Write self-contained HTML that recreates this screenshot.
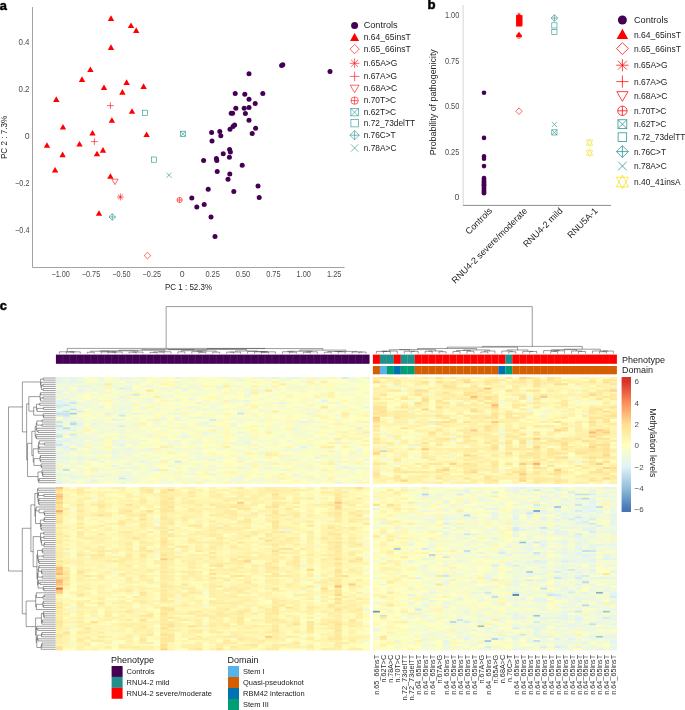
<!DOCTYPE html>
<html><head><meta charset="utf-8"><style>
html,body{margin:0;padding:0;background:#fff;width:685px;height:710px;overflow:hidden}
svg{display:block;font-family:"Liberation Sans",sans-serif;will-change:transform}
</style></head><body>
<svg width="685" height="710" viewBox="0 0 685 710">
<text x="-0.2" y="9.7" font-size="12.8" font-weight="bold" fill="#000" stroke="#000" stroke-width="0.5">a</text>
<path d="M32.5 7V267.5H344.6" fill="none" stroke="#a3a3a3" stroke-width="1"/>
<text x="29.50" y="45.10" font-size="8.7" text-anchor="end" fill="#4d4d4d" textLength="11.0" lengthAdjust="spacingAndGlyphs">0.4</text>
<text x="29.50" y="92.10" font-size="8.7" text-anchor="end" fill="#4d4d4d" textLength="11.0" lengthAdjust="spacingAndGlyphs">0.2</text>
<text x="29.50" y="139.10" font-size="8.7" text-anchor="end" fill="#4d4d4d" >0</text>
<text x="29.50" y="186.10" font-size="8.7" text-anchor="end" fill="#4d4d4d" textLength="14.4" lengthAdjust="spacingAndGlyphs">−0.2</text>
<text x="29.50" y="233.10" font-size="8.7" text-anchor="end" fill="#4d4d4d" textLength="14.4" lengthAdjust="spacingAndGlyphs">−0.4</text>
<text x="60.60" y="277.00" font-size="8.7" text-anchor="middle" fill="#4d4d4d" textLength="18.4" lengthAdjust="spacingAndGlyphs">−1.00</text>
<text x="91.00" y="277.00" font-size="8.7" text-anchor="middle" fill="#4d4d4d" textLength="18.4" lengthAdjust="spacingAndGlyphs">−0.75</text>
<text x="121.40" y="277.00" font-size="8.7" text-anchor="middle" fill="#4d4d4d" textLength="18.4" lengthAdjust="spacingAndGlyphs">−0.50</text>
<text x="151.80" y="277.00" font-size="8.7" text-anchor="middle" fill="#4d4d4d" textLength="18.4" lengthAdjust="spacingAndGlyphs">−0.25</text>
<text x="182.20" y="277.00" font-size="8.7" text-anchor="middle" fill="#4d4d4d" >0</text>
<text x="212.60" y="277.00" font-size="8.7" text-anchor="middle" fill="#4d4d4d" textLength="14.4" lengthAdjust="spacingAndGlyphs">0.25</text>
<text x="243.00" y="277.00" font-size="8.7" text-anchor="middle" fill="#4d4d4d" textLength="14.4" lengthAdjust="spacingAndGlyphs">0.50</text>
<text x="273.40" y="277.00" font-size="8.7" text-anchor="middle" fill="#4d4d4d" textLength="14.4" lengthAdjust="spacingAndGlyphs">0.75</text>
<text x="303.80" y="277.00" font-size="8.7" text-anchor="middle" fill="#4d4d4d" textLength="14.4" lengthAdjust="spacingAndGlyphs">1.00</text>
<text x="334.20" y="277.00" font-size="8.7" text-anchor="middle" fill="#4d4d4d" textLength="14.4" lengthAdjust="spacingAndGlyphs">1.25</text>
<text x="188.50" y="290.20" font-size="9" text-anchor="middle" fill="#222" textLength="47" lengthAdjust="spacingAndGlyphs">PC 1 : 52.3%</text>
<text x="0" y="0" font-size="9" text-anchor="middle" fill="#222" textLength="43.4" lengthAdjust="spacingAndGlyphs" transform="translate(7.2 137.4) rotate(-90)">PC 2 : 7.3%</text>
<circle cx="281.60" cy="65.40" r="2.50" fill="#440154"/>
<circle cx="282.80" cy="64.80" r="2.50" fill="#440154"/>
<circle cx="330.00" cy="71.40" r="2.50" fill="#440154"/>
<circle cx="249.00" cy="73.80" r="2.50" fill="#440154"/>
<circle cx="235.20" cy="93.40" r="2.50" fill="#440154"/>
<circle cx="244.80" cy="94.20" r="2.50" fill="#440154"/>
<circle cx="262.80" cy="93.60" r="2.50" fill="#440154"/>
<circle cx="249.00" cy="99.20" r="2.50" fill="#440154"/>
<circle cx="255.20" cy="103.40" r="2.50" fill="#440154"/>
<circle cx="235.80" cy="108.20" r="2.50" fill="#440154"/>
<circle cx="244.20" cy="108.20" r="2.50" fill="#440154"/>
<circle cx="249.00" cy="107.40" r="2.50" fill="#440154"/>
<circle cx="231.20" cy="113.20" r="2.50" fill="#440154"/>
<circle cx="232.60" cy="113.20" r="2.50" fill="#440154"/>
<circle cx="245.40" cy="113.40" r="2.50" fill="#440154"/>
<circle cx="249.00" cy="120.20" r="2.50" fill="#440154"/>
<circle cx="234.60" cy="125.00" r="2.50" fill="#440154"/>
<circle cx="233.00" cy="126.40" r="2.50" fill="#440154"/>
<circle cx="230.00" cy="129.20" r="2.50" fill="#440154"/>
<circle cx="255.60" cy="128.20" r="2.50" fill="#440154"/>
<circle cx="252.20" cy="133.60" r="2.50" fill="#440154"/>
<circle cx="211.60" cy="132.40" r="2.50" fill="#440154"/>
<circle cx="219.80" cy="131.40" r="2.50" fill="#440154"/>
<circle cx="220.80" cy="135.80" r="2.50" fill="#440154"/>
<circle cx="212.00" cy="141.00" r="2.50" fill="#440154"/>
<circle cx="229.60" cy="149.60" r="2.50" fill="#440154"/>
<circle cx="230.40" cy="152.00" r="2.50" fill="#440154"/>
<circle cx="223.20" cy="153.80" r="2.50" fill="#440154"/>
<circle cx="229.40" cy="157.20" r="2.50" fill="#440154"/>
<circle cx="203.60" cy="160.40" r="2.50" fill="#440154"/>
<circle cx="216.40" cy="158.60" r="2.50" fill="#440154"/>
<circle cx="216.80" cy="160.40" r="2.50" fill="#440154"/>
<circle cx="242.20" cy="165.20" r="2.50" fill="#440154"/>
<circle cx="217.20" cy="171.40" r="2.50" fill="#440154"/>
<circle cx="229.80" cy="174.00" r="2.50" fill="#440154"/>
<circle cx="228.00" cy="179.20" r="2.50" fill="#440154"/>
<circle cx="258.00" cy="186.00" r="2.50" fill="#440154"/>
<circle cx="208.20" cy="189.20" r="2.50" fill="#440154"/>
<circle cx="233.80" cy="191.60" r="2.50" fill="#440154"/>
<circle cx="259.20" cy="197.40" r="2.50" fill="#440154"/>
<circle cx="191.80" cy="198.00" r="2.50" fill="#440154"/>
<circle cx="204.20" cy="204.60" r="2.50" fill="#440154"/>
<circle cx="196.80" cy="207.00" r="2.50" fill="#440154"/>
<circle cx="211.00" cy="217.00" r="2.50" fill="#440154"/>
<circle cx="215.00" cy="236.40" r="2.50" fill="#440154"/>
<path d="M111.00 15.32L114.20 20.92L107.80 20.92Z" fill="#ff0000"/>
<path d="M131.00 22.52L134.20 28.12L127.80 28.12Z" fill="#ff0000"/>
<path d="M136.20 27.32L139.40 32.92L133.00 32.92Z" fill="#ff0000"/>
<path d="M111.00 44.32L114.20 49.92L107.80 49.92Z" fill="#ff0000"/>
<path d="M90.40 66.52L93.60 72.12L87.20 72.12Z" fill="#ff0000"/>
<path d="M82.00 76.32L85.20 81.92L78.80 81.92Z" fill="#ff0000"/>
<path d="M126.60 79.32L129.80 84.92L123.40 84.92Z" fill="#ff0000"/>
<path d="M104.00 84.52L107.20 90.12L100.80 90.12Z" fill="#ff0000"/>
<path d="M122.40 89.12L125.60 94.72L119.20 94.72Z" fill="#ff0000"/>
<path d="M143.60 83.32L146.80 88.92L140.40 88.92Z" fill="#ff0000"/>
<path d="M56.30 96.32L59.50 101.92L53.10 101.92Z" fill="#ff0000"/>
<path d="M132.00 108.22L135.20 113.82L128.80 113.82Z" fill="#ff0000"/>
<path d="M111.90 117.22L115.10 122.82L108.70 122.82Z" fill="#ff0000"/>
<path d="M63.00 124.02L66.20 129.62L59.80 129.62Z" fill="#ff0000"/>
<path d="M92.50 129.92L95.70 135.52L89.30 135.52Z" fill="#ff0000"/>
<path d="M146.60 131.52L149.80 137.12L143.40 137.12Z" fill="#ff0000"/>
<path d="M47.00 142.22L50.20 147.82L43.80 147.82Z" fill="#ff0000"/>
<path d="M79.50 140.92L82.70 146.52L76.30 146.52Z" fill="#ff0000"/>
<path d="M103.00 147.12L106.20 152.72L99.80 152.72Z" fill="#ff0000"/>
<path d="M97.00 150.72L100.20 156.32L93.80 156.32Z" fill="#ff0000"/>
<path d="M62.60 151.62L65.80 157.22L59.40 157.22Z" fill="#ff0000"/>
<path d="M55.10 167.02L58.30 172.62L51.90 172.62Z" fill="#ff0000"/>
<path d="M110.40 173.22L113.60 178.82L107.20 178.82Z" fill="#ff0000"/>
<path d="M99.00 210.22L102.20 215.82L95.80 215.82Z" fill="#ff0000"/>
<path d="M107.00 105.60H113.80M110.40 102.20V109.00" stroke="#ff0000" stroke-width="0.6" fill="none"/>
<path d="M91.00 141.60H97.80M94.40 138.20V145.00" stroke="#ff0000" stroke-width="0.6" fill="none"/>
<path d="M111.90 179.17H118.10L115.00 184.57Z" fill="none" stroke="#ff0000" stroke-width="0.6"/>
<path d="M117.00 197.00H123.80M120.40 193.60V200.40M117.95 194.55L122.85 199.45M117.95 199.45L122.85 194.55" stroke="#ff0000" stroke-width="0.6" fill="none"/>
<circle cx="179.60" cy="200.00" r="2.60" fill="none" stroke="#ff0000" stroke-width="0.6"/><path d="M177.00 200.00H182.20M179.60 197.40V202.60" stroke="#ff0000" stroke-width="0.6"/>
<path d="M147.50 252.30L150.80 255.60L147.50 258.90L144.20 255.60Z" fill="none" stroke="#ff0000" stroke-width="0.6"/>
<rect x="142.40" y="110.20" width="5.20" height="5.20" fill="none" stroke="#21908c" stroke-width="0.6"/>
<rect x="151.40" y="157.00" width="5.20" height="5.20" fill="none" stroke="#21908c" stroke-width="0.6"/>
<rect x="180.40" y="131.20" width="5.20" height="5.20" fill="none" stroke="#21908c" stroke-width="0.6"/><path d="M180.40 131.20L185.60 136.40M180.40 136.40L185.60 131.20" stroke="#21908c" stroke-width="0.6"/>
<path d="M166.40 172.60L171.60 177.80M166.40 177.80L171.60 172.60" stroke="#21908c" stroke-width="0.6"/>
<path d="M112.30 213.70L115.60 217.00L112.30 220.30L109.00 217.00Z" fill="none" stroke="#21908c" stroke-width="0.6"/><path d="M109.00 217.00H115.60M112.30 213.70V220.30" stroke="#21908c" stroke-width="0.6"/>
<circle cx="354.60" cy="25.50" r="3.50" fill="#440154"/>
<text x="363.70" y="28.00" font-size="9" text-anchor="start" fill="#222" textLength="34" lengthAdjust="spacingAndGlyphs">Controls</text>
<path d="M354.60 33.03L359.14 40.98L350.06 40.98Z" fill="#ff0000"/>
<text x="363.70" y="39.90" font-size="9" text-anchor="start" fill="#222" textLength="47" lengthAdjust="spacingAndGlyphs">n.64_65insT</text>
<path d="M354.60 44.41L359.29 49.10L354.60 53.79L349.91 49.10Z" fill="none" stroke="#ff0000" stroke-width="0.6"/>
<text x="363.70" y="51.60" font-size="9" text-anchor="start" fill="#222" textLength="47" lengthAdjust="spacingAndGlyphs">n.65_66insT</text>
<path d="M349.77 63.30H359.43M354.60 58.47V68.13M351.12 59.82L358.08 66.78M351.12 66.78L358.08 59.82" stroke="#ff0000" stroke-width="0.6" fill="none"/>
<text x="363.70" y="65.80" font-size="9" text-anchor="start" fill="#222" textLength="33.6" lengthAdjust="spacingAndGlyphs">n.65A&gt;G</text>
<path d="M349.77 76.40H359.43M354.60 71.57V81.23" stroke="#ff0000" stroke-width="0.6" fill="none"/>
<text x="363.70" y="78.90" font-size="9" text-anchor="start" fill="#222" textLength="33.4" lengthAdjust="spacingAndGlyphs">n.67A&gt;G</text>
<path d="M350.20 85.15H359.00L354.60 92.82Z" fill="none" stroke="#ff0000" stroke-width="0.6"/>
<text x="363.70" y="91.10" font-size="9" text-anchor="start" fill="#222" textLength="33.4" lengthAdjust="spacingAndGlyphs">n.68A&gt;C</text>
<circle cx="354.60" cy="100.60" r="3.69" fill="none" stroke="#ff0000" stroke-width="0.6"/><path d="M350.91 100.60H358.29M354.60 96.91V104.29" stroke="#ff0000" stroke-width="0.6"/>
<text x="363.70" y="103.10" font-size="9" text-anchor="start" fill="#222" textLength="32.4" lengthAdjust="spacingAndGlyphs">n.70T&gt;C</text>
<rect x="350.91" y="108.51" width="7.38" height="7.38" fill="none" stroke="#21908c" stroke-width="0.6"/><path d="M350.91 108.51L358.29 115.89M350.91 115.89L358.29 108.51" stroke="#21908c" stroke-width="0.6"/>
<text x="363.70" y="114.70" font-size="9" text-anchor="start" fill="#222" textLength="32.4" lengthAdjust="spacingAndGlyphs">n.62T&gt;C</text>
<rect x="350.91" y="119.51" width="7.38" height="7.38" fill="none" stroke="#21908c" stroke-width="0.6"/>
<text x="363.70" y="125.70" font-size="9" text-anchor="start" fill="#222" textLength="51.4" lengthAdjust="spacingAndGlyphs">n.72_73delTT</text>
<path d="M354.60 130.51L359.29 135.20L354.60 139.89L349.91 135.20Z" fill="none" stroke="#21908c" stroke-width="0.6"/><path d="M349.91 135.20H359.29M354.60 130.51V139.89" stroke="#21908c" stroke-width="0.6"/>
<text x="363.70" y="137.70" font-size="9" text-anchor="start" fill="#222" textLength="32" lengthAdjust="spacingAndGlyphs">n.76C&gt;T</text>
<path d="M350.91 144.31L358.29 151.69M350.91 151.69L358.29 144.31" stroke="#21908c" stroke-width="0.6"/>
<text x="363.70" y="150.50" font-size="9" text-anchor="start" fill="#222" textLength="32.8" lengthAdjust="spacingAndGlyphs">n.78A&gt;C</text>
<text x="427.4" y="9.2" font-size="13.2" font-weight="bold" fill="#000" stroke="#000" stroke-width="0.5">b</text>
<path d="M463.2 5V205" stroke="#e2e2e2" stroke-width="1.4"/>
<path d="M463 205.4H611" stroke="#8c8c8c" stroke-width="1"/>
<text x="459.30" y="18.00" font-size="8.7" text-anchor="end" fill="#4d4d4d" textLength="14.4" lengthAdjust="spacingAndGlyphs">1.00</text>
<text x="459.30" y="63.50" font-size="8.7" text-anchor="end" fill="#4d4d4d" textLength="14.4" lengthAdjust="spacingAndGlyphs">0.75</text>
<text x="459.30" y="109.00" font-size="8.7" text-anchor="end" fill="#4d4d4d" textLength="14.4" lengthAdjust="spacingAndGlyphs">0.50</text>
<text x="459.30" y="154.50" font-size="8.7" text-anchor="end" fill="#4d4d4d" textLength="14.4" lengthAdjust="spacingAndGlyphs">0.25</text>
<text x="459.30" y="200.00" font-size="8.7" text-anchor="end" fill="#4d4d4d" >0</text>
<text x="0" y="0" font-size="9" text-anchor="middle" fill="#222" textLength="106" lengthAdjust="spacingAndGlyphs" transform="translate(436.0 102.2) rotate(-90)">Probability of pathogenicity</text>
<text x="0" y="0" font-size="9" text-anchor="end" fill="#222" transform="translate(492.80 211.40) rotate(-45)">Controls</text>
<text x="0" y="0" font-size="9" text-anchor="end" fill="#222" transform="translate(527.80 211.40) rotate(-45)">RNU4-2 severe/moderate</text>
<text x="0" y="0" font-size="9" text-anchor="end" fill="#222" transform="translate(563.20 211.40) rotate(-45)">RNU4-2 mild</text>
<text x="0" y="0" font-size="9" text-anchor="end" fill="#222" transform="translate(598.20 211.40) rotate(-45)">RNU5A-1</text>
<circle cx="484.00" cy="92.80" r="2.30" fill="#440154"/>
<circle cx="484.00" cy="137.90" r="2.30" fill="#440154"/>
<circle cx="484.00" cy="156.40" r="2.30" fill="#440154"/>
<circle cx="484.00" cy="158.80" r="2.30" fill="#440154"/>
<circle cx="484.00" cy="166.10" r="2.30" fill="#440154"/>
<circle cx="484.00" cy="178.00" r="2.30" fill="#440154"/>
<circle cx="484.00" cy="178.90" r="2.30" fill="#440154"/>
<circle cx="484.00" cy="179.80" r="2.30" fill="#440154"/>
<circle cx="484.00" cy="180.70" r="2.30" fill="#440154"/>
<circle cx="484.00" cy="181.60" r="2.30" fill="#440154"/>
<circle cx="484.00" cy="182.50" r="2.30" fill="#440154"/>
<circle cx="484.00" cy="183.40" r="2.30" fill="#440154"/>
<circle cx="484.00" cy="184.30" r="2.30" fill="#440154"/>
<circle cx="484.00" cy="185.20" r="2.30" fill="#440154"/>
<circle cx="484.00" cy="186.10" r="2.30" fill="#440154"/>
<circle cx="484.00" cy="187.00" r="2.30" fill="#440154"/>
<circle cx="484.00" cy="187.90" r="2.30" fill="#440154"/>
<circle cx="484.00" cy="188.80" r="2.30" fill="#440154"/>
<circle cx="484.00" cy="189.70" r="2.30" fill="#440154"/>
<circle cx="484.00" cy="190.60" r="2.30" fill="#440154"/>
<circle cx="484.00" cy="191.50" r="2.30" fill="#440154"/>
<circle cx="484.00" cy="192.40" r="2.30" fill="#440154"/>
<circle cx="484.00" cy="193.30" r="2.30" fill="#440154"/>
<rect x="516.1" y="15.2" width="6.4" height="10.6" fill="#ff0000"/>
<path d="M519.00 13.52L522.20 19.12L515.80 19.12Z" fill="#ff0000"/>
<path d="M519.00 15.92L522.20 21.52L515.80 21.52Z" fill="#ff0000"/>
<path d="M519.00 18.42L522.20 24.02L515.80 24.02Z" fill="#ff0000"/>
<path d="M519.00 20.82L522.20 26.42L515.80 26.42Z" fill="#ff0000"/>
<path d="M516.11 15.60H521.89M519.00 12.71V18.49M516.92 13.52L521.08 17.68M516.92 17.68L521.08 13.52" stroke="#ff0000" stroke-width="0.6" fill="none"/>
<path d="M515.94 16.00H522.06M519.00 12.94V19.06" stroke="#ff0000" stroke-width="0.6" fill="none"/>
<path d="M519.00 31.42L522.20 37.02L515.80 37.02Z" fill="#ff0000"/>
<circle cx="519.00" cy="35.90" r="2.47" fill="none" stroke="#ff0000" stroke-width="0.6"/><path d="M516.53 35.90H521.47M519.00 33.43V38.37" stroke="#ff0000" stroke-width="0.6"/>
<path d="M519.00 107.90L522.30 111.20L519.00 114.50L515.70 111.20Z" fill="none" stroke="#ff0000" stroke-width="0.6"/>
<path d="M554.40 14.70L557.70 18.00L554.40 21.30L551.10 18.00Z" fill="none" stroke="#21908c" stroke-width="0.6"/><path d="M551.10 18.00H557.70M554.40 14.70V21.30" stroke="#21908c" stroke-width="0.6"/>
<rect x="551.80" y="22.80" width="5.20" height="5.20" fill="none" stroke="#21908c" stroke-width="0.6"/>
<rect x="551.80" y="29.40" width="5.20" height="5.20" fill="none" stroke="#21908c" stroke-width="0.6"/>
<path d="M551.80 121.80L557.00 127.00M551.80 127.00L557.00 121.80" stroke="#21908c" stroke-width="0.6"/>
<rect x="551.80" y="129.80" width="5.20" height="5.20" fill="none" stroke="#21908c" stroke-width="0.6"/><path d="M551.80 129.80L557.00 135.00M551.80 135.00L557.00 129.80" stroke="#21908c" stroke-width="0.6"/>
<path d="M589.50 139.00L592.70 145.19H586.30Z M589.50 146.20L592.70 140.08H586.30Z" fill="none" stroke="#f7e02a" stroke-width="0.6" stroke-linejoin="miter"/>
<path d="M589.50 149.20L592.70 155.39H586.30Z M589.50 156.40L592.70 150.28H586.30Z" fill="none" stroke="#f7e02a" stroke-width="0.6" stroke-linejoin="miter"/>
<circle cx="622.40" cy="20.00" r="4.50" fill="#440154"/>
<text x="634.00" y="23.10" font-size="9" text-anchor="start" fill="#222" textLength="34" lengthAdjust="spacingAndGlyphs">Controls</text>
<path d="M622.40 28.86L628.16 38.94L616.64 38.94Z" fill="#ff0000"/>
<text x="634.00" y="37.50" font-size="9" text-anchor="start" fill="#222" textLength="47" lengthAdjust="spacingAndGlyphs">n.64_65insT</text>
<path d="M622.40 42.66L628.34 48.60L622.40 54.54L616.46 48.60Z" fill="none" stroke="#ff0000" stroke-width="0.75"/>
<text x="634.00" y="51.70" font-size="9" text-anchor="start" fill="#222" textLength="47" lengthAdjust="spacingAndGlyphs">n.65_66insT</text>
<path d="M616.28 65.20H628.52M622.40 59.08V71.32M617.99 60.79L626.81 69.61M617.99 69.61L626.81 60.79" stroke="#ff0000" stroke-width="0.75" fill="none"/>
<text x="634.00" y="68.30" font-size="9" text-anchor="start" fill="#222" textLength="33.6" lengthAdjust="spacingAndGlyphs">n.65A&gt;G</text>
<path d="M616.28 81.60H628.52M622.40 75.48V87.72" stroke="#ff0000" stroke-width="0.75" fill="none"/>
<text x="634.00" y="84.70" font-size="9" text-anchor="start" fill="#222" textLength="33.4" lengthAdjust="spacingAndGlyphs">n.67A&gt;G</text>
<path d="M616.82 91.63H627.98L622.40 101.35Z" fill="none" stroke="#ff0000" stroke-width="0.75"/>
<text x="634.00" y="99.10" font-size="9" text-anchor="start" fill="#222" textLength="33.4" lengthAdjust="spacingAndGlyphs">n.68A&gt;C</text>
<circle cx="622.40" cy="110.80" r="4.68" fill="none" stroke="#ff0000" stroke-width="0.75"/><path d="M617.72 110.80H627.08M622.40 106.12V115.48" stroke="#ff0000" stroke-width="0.75"/>
<text x="634.00" y="113.90" font-size="9" text-anchor="start" fill="#222" textLength="32.4" lengthAdjust="spacingAndGlyphs">n.70T&gt;C</text>
<rect x="617.98" y="119.78" width="8.84" height="8.84" fill="none" stroke="#21908c" stroke-width="0.75"/><path d="M617.98 119.78L626.82 128.62M617.98 128.62L626.82 119.78" stroke="#21908c" stroke-width="0.75"/>
<text x="634.00" y="127.30" font-size="9" text-anchor="start" fill="#222" textLength="32.4" lengthAdjust="spacingAndGlyphs">n.62T&gt;C</text>
<rect x="618.11" y="132.81" width="8.58" height="8.58" fill="none" stroke="#21908c" stroke-width="0.75"/>
<text x="634.00" y="140.20" font-size="9" text-anchor="start" fill="#222" textLength="51.4" lengthAdjust="spacingAndGlyphs">n.72_73delTT</text>
<path d="M622.40 145.66L628.34 151.60L622.40 157.54L616.46 151.60Z" fill="none" stroke="#21908c" stroke-width="0.75"/><path d="M616.46 151.60H628.34M622.40 145.66V157.54" stroke="#21908c" stroke-width="0.75"/>
<text x="634.00" y="154.70" font-size="9" text-anchor="start" fill="#222" textLength="32" lengthAdjust="spacingAndGlyphs">n.76C&gt;T</text>
<path d="M618.11 161.71L626.69 170.29M618.11 170.29L626.69 161.71" stroke="#21908c" stroke-width="0.75"/>
<text x="634.00" y="169.10" font-size="9" text-anchor="start" fill="#222" textLength="32.8" lengthAdjust="spacingAndGlyphs">n.78A&gt;C</text>
<path d="M622.40 175.20L628.43 186.90H616.37Z M622.40 188.80L628.43 177.24H616.37Z" fill="none" stroke="#f7e02a" stroke-width="0.75" stroke-linejoin="miter"/>
<text x="634.00" y="185.10" font-size="9" text-anchor="start" fill="#222" textLength="46.6" lengthAdjust="spacingAndGlyphs">n.40_41insA</text>
<text x="-0.2" y="310.4" font-size="12.8" font-weight="bold" fill="#000" stroke="#000" stroke-width="0.5">c</text>
<rect x="55.90" y="377.00" width="313.65" height="106.743" fill="#f7fccd"/>
<g transform="translate(55.90 377.00) scale(6.97 2.093)" fill="none" stroke-width="1"><path stroke="#a5cce2" d="M2 17.5h1"/><path stroke="#b8d9ea" d="M2 22.5h1M1 24.5h1"/><path stroke="#c2e0ed" d="M2 15.5h1M1 16.5h1M0 17.5h1M0 23.5h1M0 28.5h1M1 44.5h1"/><path stroke="#cce6f1" d="M11 8.5h1M2 12.5h1M1 13.5h1M1 17.5h1M26 17.5h1M1 18.5h1M9 18.5h1M0 21.5h1M2 27.5h1M0 32.5h1M17 40.5h1M9 48.5h1"/><path stroke="#d6ecf4" d="M41 0.5h1M9 5.5h1M0 13.5h1M0 14.5h1M3 16.5h1M0 18.5h1M22 20.5h1M2 21.5h1M9 23.5h1M0 27.5h1M2 34.5h1"/><path stroke="#e0f3f8" d="M2 2.5h1M0 11.5h1M38 11.5h1M1 12.5h1M2 14.5h1M0 16.5h1M7 17.5h1M35 21.5h1M0 25.5h1M2 25.5h1M1 30.5h1M0 31.5h1M9 32.5h1M1 33.5h1M35 33.5h1M0 36.5h1M5 39.5h1M12 40.5h1M5 49.5h1"/><path stroke="#e4f4f1" d="M2 0.5h1M31 0.5h1M0 1.5h1M1 2.5h1M3 2.5h1M10 2.5h1M4 4.5h1M10 5.5h1M15 5.5h1M0 6.5h1M3 6.5h1M0 7.5h1M10 8.5h1M0 12.5h1M32 12.5h1M6 14.5h1M1 15.5h1M17 15.5h1M11 17.5h1M36 17.5h1M1 19.5h1M20 19.5h1M0 22.5h1M3 22.5h1M22 23.5h1M0 24.5h1M1 25.5h1M1 27.5h1M2 28.5h1M18 28.5h1M1 29.5h1M0 30.5h1M27 31.5h1M40 31.5h1M3 32.5h1M10 34.5h1M0 38.5h1M3 38.5h1M37 38.5h1M8 42.5h1M14 44.5h1M22 46.5h1M6 47.5h1M0 50.5h1"/><path stroke="#e8f6ea" d="M0 0.5h1M17 0.5h1M34 0.5h1M2 1.5h1M26 1.5h1M0 2.5h1M17 2.5h1M6 3.5h1M3 4.5h1M8 4.5h1M10 4.5h1M18 5.5h1M5 6.5h1M10 6.5h1M1 8.5h1M9 9.5h1M1 10.5h1M2 11.5h1M27 11.5h1M20 12.5h1M44 14.5h1M9 15.5h1M14 15.5h1M21 15.5h1M9 17.5h1M17 17.5h1M17 19.5h1M8 20.5h2M5 22.5h1M21 22.5h1M2 23.5h2M17 24.5h1M3 26.5h1M6 26.5h1M26 26.5h1M4 29.5h1M2 31.5h1M1 34.5h1M13 34.5h1M8 35.5h1M20 36.5h1M29 36.5h1M1 38.5h1M9 38.5h1M3 39.5h1M22 39.5h1M44 39.5h1M6 40.5h1M9 43.5h1M26 43.5h1M41 43.5h1M0 46.5h1M0 47.5h1M2 47.5h1M5 47.5h1M9 47.5h1M26 47.5h1M2 48.5h1M0 49.5h1M9 50.5h1M40 50.5h1"/><path stroke="#ecf8e3" d="M1 0.5h1M3 0.5h1M6 0.5h1M9 0.5h2M29 0.5h1M33 0.5h1M44 0.5h1M6 1.5h1M32 1.5h1M36 1.5h1M11 2.5h1M13 4.5h1M19 4.5h1M23 4.5h1M1 5.5h1M3 5.5h1M17 5.5h1M23 5.5h1M1 6.5h1M16 6.5h1M18 6.5h1M25 6.5h1M27 6.5h1M2 7.5h1M27 8.5h1M0 9.5h1M13 10.5h1M19 10.5h1M9 11.5h1M13 11.5h1M17 11.5h1M25 11.5h1M3 12.5h1M4 13.5h1M1 14.5h1M9 14.5h2M19 14.5h1M22 14.5h1M0 15.5h1M3 15.5h1M10 15.5h1M12 15.5h1M37 15.5h1M19 19.5h1M1 20.5h1M13 20.5h1M15 20.5h1M17 20.5h1M36 20.5h1M3 21.5h1M14 21.5h1M11 22.5h1M25 22.5h1M25 23.5h1M2 24.5h1M9 25.5h1M43 25.5h1M10 26.5h1M21 26.5h1M13 27.5h1M18 27.5h1M21 27.5h1M34 27.5h1M39 27.5h1M9 28.5h1M32 28.5h1M2 29.5h2M6 29.5h1M9 29.5h1M2 30.5h2M5 30.5h1M8 30.5h1M17 30.5h1M26 30.5h1M8 32.5h1M16 32.5h1M26 32.5h1M0 33.5h1M17 34.5h1M28 34.5h1M1 35.5h1M5 35.5h1M9 35.5h2M26 35.5h1M43 35.5h1M1 36.5h1M6 36.5h1M8 36.5h1M0 37.5h1M8 37.5h1M10 37.5h1M12 37.5h1M2 38.5h1M5 38.5h1M8 38.5h1M23 38.5h1M26 38.5h1M32 38.5h1M1 39.5h1M21 39.5h1M26 39.5h1M33 39.5h2M0 40.5h2M29 40.5h1M3 41.5h1M10 41.5h1M16 42.5h1M22 42.5h1M0 43.5h2M5 43.5h1M10 43.5h1M30 43.5h1M40 43.5h1M43 43.5h1M32 44.5h1M10 45.5h1M1 46.5h2M10 46.5h1M19 46.5h1M29 46.5h1M1 47.5h1M34 47.5h1M3 48.5h1M10 48.5h1M10 49.5h1M21 49.5h1M2 50.5h1"/><path stroke="#f0f9dc" d="M12 0.5h1M25 0.5h1M30 0.5h1M37 0.5h1M42 0.5h1M1 1.5h1M9 1.5h1M12 1.5h1M19 1.5h1M33 1.5h1M42 1.5h1M35 2.5h1M0 3.5h3M5 3.5h1M9 3.5h1M11 3.5h1M18 3.5h1M0 4.5h3M6 4.5h1M17 4.5h1M26 4.5h1M33 4.5h1M35 4.5h1M5 5.5h1M7 5.5h1M19 5.5h2M27 5.5h1M31 5.5h1M34 5.5h1M4 6.5h1M6 6.5h1M29 6.5h1M35 6.5h1M41 6.5h1M3 7.5h1M6 7.5h1M0 8.5h1M2 8.5h1M5 8.5h1M16 8.5h1M20 8.5h1M2 9.5h1M27 9.5h1M5 10.5h1M8 10.5h2M1 11.5h1M4 11.5h1M6 11.5h1M10 11.5h1M26 11.5h1M13 12.5h1M31 12.5h1M40 12.5h1M3 13.5h1M9 13.5h2M29 13.5h1M4 14.5h1M8 14.5h1M12 14.5h1M20 14.5h1M26 14.5h1M5 15.5h1M20 15.5h1M23 15.5h1M27 15.5h1M4 16.5h1M8 16.5h1M23 16.5h1M26 16.5h1M29 16.5h1M34 16.5h1M8 17.5h1M12 17.5h2M16 17.5h1M40 18.5h1M2 19.5h2M6 19.5h1M11 19.5h1M15 19.5h1M3 20.5h1M5 20.5h1M23 20.5h1M27 20.5h1M29 20.5h1M1 21.5h1M6 21.5h1M10 21.5h1M21 21.5h1M26 21.5h1M34 21.5h1M37 21.5h1M1 22.5h1M7 22.5h3M20 22.5h1M5 23.5h4M14 23.5h1M18 23.5h1M29 23.5h1M38 23.5h1M10 24.5h1M26 24.5h1M6 25.5h3M11 25.5h1M34 25.5h1M0 26.5h1M5 26.5h1M9 26.5h1M22 26.5h1M35 26.5h1M44 27.5h1M3 28.5h2M13 28.5h1M17 28.5h1M0 29.5h1M28 29.5h1M6 30.5h1M9 30.5h1M12 30.5h1M20 30.5h1M33 30.5h1M3 31.5h2M8 31.5h1M10 31.5h2M19 31.5h2M25 31.5h1M31 31.5h1M1 32.5h2M5 32.5h2M36 32.5h1M3 33.5h1M29 33.5h1M0 34.5h1M8 34.5h2M12 34.5h1M18 34.5h1M20 34.5h1M23 34.5h1M33 34.5h3M43 34.5h1M0 35.5h1M3 35.5h1M6 35.5h1M11 35.5h1M13 35.5h1M16 35.5h1M32 35.5h1M34 35.5h1M42 35.5h1M3 36.5h1M5 36.5h1M4 38.5h1M14 38.5h1M20 38.5h2M38 38.5h1M0 39.5h1M2 39.5h1M13 39.5h1M15 39.5h1M19 39.5h1M42 39.5h1M30 40.5h1M37 40.5h1M40 40.5h1M0 41.5h3M13 41.5h1M27 41.5h1M2 42.5h1M13 42.5h1M41 42.5h1M11 43.5h1M13 43.5h1M17 43.5h1M19 43.5h1M23 43.5h1M27 43.5h1M31 43.5h1M42 43.5h1M0 44.5h1M6 44.5h1M11 44.5h1M13 44.5h1M19 44.5h1M22 44.5h1M42 44.5h1M2 45.5h1M9 45.5h1M6 46.5h2M13 46.5h1M16 46.5h3M34 46.5h1M3 47.5h2M10 47.5h1M36 47.5h1M41 47.5h1M7 48.5h1M25 48.5h2M1 49.5h1M4 49.5h1M15 49.5h1M17 49.5h1M19 49.5h1M26 49.5h1M28 49.5h1M31 49.5h1M43 49.5h1M4 50.5h1"/><path stroke="#f3fad4" d="M11 0.5h1M19 0.5h1M24 0.5h1M28 0.5h1M40 0.5h1M3 1.5h1M10 1.5h1M18 1.5h1M25 1.5h1M35 1.5h1M37 1.5h1M8 2.5h1M12 2.5h1M14 2.5h1M42 2.5h2M3 3.5h2M8 3.5h1M20 3.5h1M5 4.5h1M12 4.5h1M20 4.5h1M25 4.5h1M34 4.5h1M4 5.5h1M14 5.5h1M28 5.5h1M33 5.5h1M36 5.5h1M40 5.5h1M42 5.5h2M2 6.5h1M15 6.5h1M21 6.5h1M37 6.5h1M9 7.5h1M20 7.5h2M27 7.5h1M29 7.5h1M44 7.5h1M3 8.5h1M6 8.5h1M8 8.5h2M12 8.5h1M14 8.5h2M31 8.5h1M42 8.5h1M1 9.5h1M15 9.5h2M0 10.5h1M3 10.5h1M10 10.5h1M17 10.5h1M25 10.5h1M29 10.5h1M5 11.5h1M12 11.5h1M21 11.5h1M35 11.5h1M4 12.5h2M8 12.5h5M22 12.5h3M27 12.5h1M30 12.5h1M37 12.5h1M42 12.5h2M2 13.5h1M5 13.5h1M8 13.5h1M14 13.5h1M17 13.5h1M22 13.5h2M3 14.5h1M5 14.5h1M34 14.5h1M40 14.5h2M11 15.5h1M22 15.5h1M24 15.5h1M26 15.5h1M29 15.5h1M35 15.5h2M39 15.5h1M2 16.5h1M6 16.5h1M9 16.5h1M16 16.5h1M30 16.5h1M3 17.5h1M10 17.5h1M23 17.5h1M27 17.5h2M42 17.5h1M2 18.5h1M5 18.5h1M18 18.5h1M21 18.5h1M8 19.5h1M21 19.5h1M25 19.5h1M30 19.5h1M0 20.5h1M2 20.5h1M6 20.5h1M18 20.5h1M26 20.5h1M40 20.5h1M4 21.5h2M11 21.5h1M16 21.5h1M22 21.5h1M29 21.5h1M40 21.5h1M6 22.5h1M10 22.5h1M14 22.5h1M18 22.5h1M32 22.5h1M34 22.5h2M1 23.5h1M10 23.5h1M15 23.5h1M21 23.5h1M34 23.5h1M37 23.5h1M44 23.5h1M3 24.5h4M8 24.5h1M13 24.5h1M16 24.5h1M23 24.5h1M31 24.5h1M34 24.5h1M39 24.5h1M3 25.5h1M15 25.5h1M19 25.5h1M23 25.5h1M30 25.5h1M35 25.5h2M1 26.5h1M11 26.5h1M18 26.5h1M20 26.5h1M23 26.5h1M27 26.5h1M4 27.5h2M14 27.5h1M25 27.5h1M27 27.5h1M5 28.5h1M7 28.5h2M15 28.5h1M19 28.5h1M23 28.5h1M26 28.5h2M36 28.5h1M5 29.5h1M10 29.5h2M15 29.5h1M20 29.5h1M22 29.5h1M26 29.5h2M34 29.5h1M37 29.5h2M10 30.5h2M15 30.5h2M23 30.5h1M27 30.5h1M29 30.5h1M31 30.5h1M36 30.5h1M1 31.5h1M9 31.5h1M16 31.5h1M42 31.5h1M11 32.5h1M17 32.5h1M25 32.5h1M27 32.5h1M34 32.5h1M9 33.5h2M20 33.5h1M22 33.5h1M5 34.5h1M19 34.5h1M38 34.5h1M2 35.5h1M7 35.5h1M12 35.5h1M29 35.5h1M33 35.5h1M40 35.5h1M4 36.5h1M7 36.5h1M9 36.5h3M14 36.5h1M17 36.5h1M19 36.5h1M35 36.5h1M40 36.5h1M2 37.5h1M19 37.5h2M42 37.5h2M7 38.5h1M11 38.5h1M13 38.5h1M18 38.5h1M24 38.5h1M27 38.5h1M39 38.5h2M42 38.5h1M4 39.5h1M6 39.5h1M8 39.5h1M11 39.5h1M16 39.5h1M20 39.5h1M27 39.5h1M36 39.5h1M40 39.5h1M3 40.5h1M8 40.5h1M10 40.5h2M13 40.5h2M23 40.5h1M28 40.5h1M31 40.5h1M4 41.5h1M14 41.5h1M17 41.5h2M20 41.5h1M40 41.5h1M10 42.5h2M20 42.5h1M34 42.5h2M40 42.5h1M2 43.5h2M6 43.5h1M8 43.5h1M29 43.5h1M35 43.5h3M44 43.5h1M3 44.5h1M7 44.5h1M16 44.5h1M20 44.5h1M27 44.5h1M36 44.5h1M0 45.5h1M3 45.5h1M19 45.5h1M42 45.5h1M3 46.5h1M5 46.5h1M9 46.5h1M12 46.5h1M42 46.5h1M7 47.5h2M11 47.5h1M17 47.5h1M35 47.5h1M38 47.5h1M40 47.5h1M0 48.5h1M5 48.5h1M8 48.5h1M11 48.5h1M18 48.5h2M23 48.5h1M29 48.5h1M31 48.5h1M37 48.5h1M44 48.5h1M6 49.5h1M8 49.5h1M11 49.5h1M23 49.5h1M25 49.5h1M29 49.5h2M36 49.5h2M42 49.5h1M1 50.5h1M15 50.5h2M25 50.5h1M27 50.5h1"/><path stroke="#f7fccd" d="M8 0.5h1M15 0.5h1M18 0.5h1M20 0.5h1M23 0.5h1M26 0.5h1M32 0.5h1M35 0.5h1M38 0.5h1M4 1.5h1M7 1.5h2M11 1.5h1M14 1.5h2M21 1.5h2M30 1.5h1M38 1.5h1M43 1.5h1M4 2.5h4M18 2.5h1M20 2.5h1M24 2.5h1M44 2.5h1M10 3.5h1M13 3.5h1M25 3.5h1M27 3.5h1M30 3.5h1M34 3.5h1M41 3.5h1M9 4.5h1M14 4.5h1M29 4.5h2M37 4.5h1M0 5.5h1M6 5.5h1M8 5.5h1M16 5.5h1M29 5.5h2M35 5.5h1M37 5.5h1M41 5.5h1M8 6.5h2M11 6.5h2M20 6.5h1M22 6.5h2M31 6.5h1M33 6.5h1M39 6.5h2M42 6.5h1M4 7.5h1M13 7.5h1M17 7.5h1M19 7.5h1M32 7.5h1M38 7.5h1M41 7.5h1M18 8.5h2M23 8.5h1M25 8.5h1M33 8.5h1M37 8.5h1M41 8.5h1M7 9.5h1M11 9.5h1M13 9.5h1M19 9.5h1M23 9.5h1M30 9.5h1M38 9.5h1M43 9.5h1M2 10.5h1M7 10.5h1M11 10.5h2M14 10.5h2M23 10.5h1M31 10.5h1M36 10.5h1M38 10.5h1M44 10.5h1M16 11.5h1M19 11.5h1M23 11.5h1M36 11.5h1M44 11.5h1M14 12.5h1M21 12.5h1M25 12.5h1M33 12.5h1M44 12.5h1M6 13.5h1M15 13.5h1M32 13.5h1M38 13.5h1M18 14.5h1M30 14.5h1M32 14.5h1M35 14.5h2M6 15.5h3M15 15.5h1M18 15.5h2M25 15.5h1M32 15.5h1M38 15.5h1M43 15.5h1M5 16.5h1M7 16.5h1M10 16.5h1M13 16.5h1M19 16.5h1M21 16.5h1M35 16.5h2M44 16.5h1M5 17.5h1M15 17.5h1M19 17.5h1M22 17.5h1M30 17.5h1M32 17.5h2M37 17.5h2M10 18.5h1M15 18.5h1M25 18.5h1M4 19.5h1M7 19.5h1M14 19.5h1M22 19.5h1M26 19.5h3M35 19.5h2M4 20.5h1M11 20.5h1M25 20.5h1M28 20.5h1M31 20.5h1M33 20.5h1M12 21.5h1M20 21.5h1M16 22.5h1M31 22.5h1M36 22.5h1M42 22.5h2M12 23.5h1M20 23.5h1M23 23.5h1M31 23.5h1M35 23.5h2M43 23.5h1M7 24.5h1M9 24.5h1M11 24.5h1M19 24.5h1M37 24.5h1M40 24.5h1M12 25.5h1M21 25.5h1M31 25.5h1M7 26.5h2M12 26.5h1M16 26.5h1M33 26.5h2M37 26.5h1M3 27.5h1M6 27.5h1M9 27.5h1M11 27.5h2M22 27.5h1M32 27.5h1M35 27.5h2M10 28.5h1M12 28.5h1M21 28.5h1M35 28.5h1M43 28.5h1M18 29.5h1M23 29.5h1M31 29.5h1M41 29.5h1M19 30.5h1M28 30.5h1M30 30.5h1M5 31.5h1M17 31.5h1M21 31.5h3M26 31.5h1M34 31.5h1M4 32.5h1M13 32.5h1M15 32.5h1M19 32.5h1M23 32.5h1M30 32.5h1M35 32.5h1M43 32.5h1M5 33.5h2M11 33.5h1M32 33.5h1M36 33.5h1M42 33.5h1M6 34.5h1M11 34.5h1M15 34.5h1M21 34.5h1M24 34.5h2M30 34.5h1M36 34.5h2M39 34.5h1M4 35.5h1M14 35.5h2M17 35.5h1M19 35.5h2M25 35.5h1M27 35.5h1M30 35.5h1M37 35.5h1M34 36.5h1M37 36.5h1M39 36.5h1M43 36.5h1M1 37.5h1M3 37.5h1M6 37.5h1M9 37.5h1M22 37.5h2M29 37.5h1M40 37.5h1M10 38.5h1M12 38.5h1M16 38.5h1M22 38.5h1M29 38.5h1M33 38.5h3M41 38.5h1M43 38.5h1M7 39.5h1M9 39.5h2M12 39.5h1M17 39.5h1M23 39.5h1M32 39.5h1M39 39.5h1M4 40.5h1M22 40.5h1M32 40.5h1M35 40.5h1M7 41.5h1M9 41.5h1M12 41.5h1M16 41.5h1M29 41.5h1M35 41.5h2M42 41.5h1M44 41.5h1M27 42.5h1M30 42.5h1M42 42.5h1M12 43.5h1M14 43.5h1M20 43.5h3M24 43.5h2M33 43.5h1M38 43.5h1M4 44.5h1M8 44.5h2M12 44.5h1M21 44.5h1M26 44.5h1M29 44.5h3M34 44.5h1M44 44.5h1M8 45.5h1M12 45.5h2M16 45.5h1M33 45.5h1M8 46.5h1M15 46.5h1M23 46.5h1M26 46.5h2M38 46.5h1M40 46.5h2M12 47.5h1M20 47.5h1M22 47.5h1M33 47.5h1M1 48.5h1M4 48.5h1M12 48.5h1M15 48.5h1M20 48.5h1M24 48.5h1M28 48.5h1M35 48.5h1M2 49.5h1M9 49.5h1M13 49.5h1M16 49.5h1M18 49.5h1M20 49.5h1M22 49.5h1M38 49.5h1M40 49.5h1M6 50.5h1M11 50.5h1M19 50.5h1M29 50.5h1"/><path stroke="#fbfec6" d="M4 0.5h2M14 0.5h1M16 0.5h1M22 0.5h1M27 0.5h1M43 0.5h1M5 1.5h1M20 1.5h1M24 1.5h1M28 1.5h2M39 1.5h1M41 1.5h1M13 2.5h1M19 2.5h1M21 2.5h2M25 2.5h3M30 2.5h1M32 2.5h3M39 2.5h2M12 3.5h1M14 3.5h1M22 3.5h2M26 3.5h1M40 3.5h1M42 3.5h2M27 4.5h1M36 4.5h1M38 4.5h1M40 4.5h3M44 4.5h1M11 5.5h3M22 5.5h1M24 5.5h2M32 5.5h1M7 6.5h1M14 6.5h1M19 6.5h1M32 6.5h1M38 6.5h1M1 7.5h1M5 7.5h1M8 7.5h1M12 7.5h1M22 7.5h2M26 7.5h1M30 7.5h1M42 7.5h1M4 8.5h1M7 8.5h1M17 8.5h1M21 8.5h1M24 8.5h1M26 8.5h1M30 8.5h1M34 8.5h3M40 8.5h1M43 8.5h2M3 9.5h1M5 9.5h1M8 9.5h1M20 9.5h1M24 9.5h1M29 9.5h1M31 9.5h1M34 9.5h2M6 10.5h1M16 10.5h1M18 10.5h1M20 10.5h2M24 10.5h1M27 10.5h2M32 10.5h2M37 10.5h1M40 10.5h3M3 11.5h1M8 11.5h1M11 11.5h1M22 11.5h1M29 11.5h2M33 11.5h1M37 11.5h1M39 11.5h2M6 12.5h1M15 12.5h2M18 12.5h2M26 12.5h1M29 12.5h1M34 12.5h1M36 12.5h1M38 12.5h1M7 13.5h1M12 13.5h1M16 13.5h1M18 13.5h1M31 13.5h1M34 13.5h1M37 13.5h1M40 13.5h1M42 13.5h1M44 13.5h1M11 14.5h1M14 14.5h3M25 14.5h1M27 14.5h1M31 14.5h1M37 14.5h1M39 14.5h1M43 14.5h1M4 15.5h1M13 15.5h1M28 15.5h1M30 15.5h2M41 15.5h1M44 15.5h1M17 16.5h2M20 16.5h1M22 16.5h1M25 16.5h1M32 16.5h2M40 16.5h1M42 16.5h2M6 17.5h1M14 17.5h1M20 17.5h1M31 17.5h1M39 17.5h2M3 18.5h1M6 18.5h1M8 18.5h1M13 18.5h1M19 18.5h1M26 18.5h1M29 18.5h1M34 18.5h1M39 18.5h1M0 19.5h1M9 19.5h2M12 19.5h1M18 19.5h1M23 19.5h2M29 19.5h1M32 19.5h1M40 19.5h1M7 20.5h1M10 20.5h1M19 20.5h1M21 20.5h1M32 20.5h1M37 20.5h2M41 20.5h1M7 21.5h3M13 21.5h1M15 21.5h1M18 21.5h2M25 21.5h1M28 21.5h1M31 21.5h2M42 21.5h1M4 22.5h1M15 22.5h1M19 22.5h1M26 22.5h1M28 22.5h1M30 22.5h1M37 22.5h2M44 22.5h1M13 23.5h1M17 23.5h1M19 23.5h1M24 23.5h1M27 23.5h1M32 23.5h2M12 24.5h1M15 24.5h1M20 24.5h2M25 24.5h1M29 24.5h1M32 24.5h1M36 24.5h1M41 24.5h2M44 24.5h1M5 25.5h1M14 25.5h1M25 25.5h2M29 25.5h1M32 25.5h1M37 25.5h1M41 25.5h1M4 26.5h1M13 26.5h1M17 26.5h1M25 26.5h1M29 26.5h1M31 26.5h2M36 26.5h1M39 26.5h1M7 27.5h1M16 27.5h2M19 27.5h1M26 27.5h1M29 27.5h3M33 27.5h1M37 27.5h1M6 28.5h1M11 28.5h1M22 28.5h1M25 28.5h1M29 28.5h3M33 28.5h1M39 28.5h2M42 28.5h1M14 29.5h1M17 29.5h1M21 29.5h1M25 29.5h1M29 29.5h2M32 29.5h2M36 29.5h1M4 30.5h1M34 30.5h1M37 30.5h1M39 30.5h1M43 30.5h1M12 31.5h3M18 31.5h1M28 31.5h3M32 31.5h2M7 32.5h1M14 32.5h1M18 32.5h1M20 32.5h1M29 32.5h1M40 32.5h1M42 32.5h1M2 33.5h1M8 33.5h1M12 33.5h2M17 33.5h2M25 33.5h1M28 33.5h1M31 33.5h1M34 33.5h1M37 33.5h1M43 33.5h1M3 34.5h2M16 34.5h1M22 34.5h1M26 34.5h2M29 34.5h1M31 34.5h2M40 34.5h1M23 35.5h1M41 35.5h1M2 36.5h1M13 36.5h1M15 36.5h1M21 36.5h1M26 36.5h1M36 36.5h1M38 36.5h1M4 37.5h2M11 37.5h1M15 37.5h1M17 37.5h2M21 37.5h1M26 37.5h1M34 37.5h2M41 37.5h1M19 38.5h1M25 38.5h1M28 38.5h1M14 39.5h1M18 39.5h1M29 39.5h2M35 39.5h1M38 39.5h1M41 39.5h1M2 40.5h1M7 40.5h1M9 40.5h1M16 40.5h1M19 40.5h2M36 40.5h1M44 40.5h1M6 41.5h1M8 41.5h1M11 41.5h1M22 41.5h2M25 41.5h1M1 42.5h1M3 42.5h1M6 42.5h1M9 42.5h1M15 42.5h1M19 42.5h1M21 42.5h1M23 42.5h1M25 42.5h1M29 42.5h1M32 42.5h1M37 42.5h3M43 42.5h2M7 43.5h1M18 43.5h1M32 43.5h1M10 44.5h1M18 44.5h1M23 44.5h2M35 44.5h1M37 44.5h1M43 44.5h1M4 45.5h1M6 45.5h2M11 45.5h1M14 45.5h1M34 45.5h1M37 45.5h2M40 45.5h1M11 46.5h1M31 46.5h1M35 46.5h1M37 46.5h1M39 46.5h1M43 46.5h2M13 47.5h1M15 47.5h1M18 47.5h2M23 47.5h3M28 47.5h3M43 47.5h1M6 48.5h1M16 48.5h1M27 48.5h1M38 48.5h1M42 48.5h1M3 49.5h1M7 49.5h1M12 49.5h1M14 49.5h1M24 49.5h1M41 49.5h1M44 49.5h1M3 50.5h1M8 50.5h1M10 50.5h1M14 50.5h1M21 50.5h1M28 50.5h1M32 50.5h1M34 50.5h1M36 50.5h1M42 50.5h1"/><path stroke="#ffffbf" d="M7 0.5h1M21 0.5h1M13 1.5h1M16 1.5h2M23 1.5h1M31 1.5h1M34 1.5h1M40 1.5h1M44 1.5h1M9 2.5h1M23 2.5h1M37 2.5h1M41 2.5h1M21 3.5h1M28 3.5h2M31 3.5h1M35 3.5h1M38 3.5h1M44 3.5h1M11 4.5h1M15 4.5h1M18 4.5h1M32 4.5h1M43 4.5h1M2 5.5h1M21 5.5h1M44 5.5h1M17 6.5h1M24 6.5h1M36 6.5h1M43 6.5h2M15 7.5h2M18 7.5h1M31 7.5h1M33 7.5h2M36 7.5h2M40 7.5h1M43 7.5h1M22 8.5h1M29 8.5h1M4 9.5h1M12 9.5h1M17 9.5h2M25 9.5h2M28 9.5h1M32 9.5h1M36 9.5h1M40 9.5h3M44 9.5h1M4 10.5h1M26 10.5h1M30 10.5h1M34 10.5h1M39 10.5h1M14 11.5h1M18 11.5h1M20 11.5h1M31 11.5h1M34 11.5h1M42 11.5h1M7 12.5h1M17 12.5h1M28 12.5h1M41 12.5h1M19 13.5h2M24 13.5h3M33 13.5h1M35 13.5h1M39 13.5h1M7 14.5h1M17 14.5h1M21 14.5h1M23 14.5h2M29 14.5h1M33 14.5h1M42 14.5h1M16 15.5h1M34 15.5h1M11 16.5h2M15 16.5h1M24 16.5h1M28 16.5h1M38 16.5h1M25 17.5h1M29 17.5h1M34 17.5h1M4 18.5h1M11 18.5h2M16 18.5h2M20 18.5h1M23 18.5h1M27 18.5h1M31 18.5h2M35 18.5h1M42 18.5h1M5 19.5h1M13 19.5h1M16 19.5h1M31 19.5h1M34 19.5h1M37 19.5h1M42 19.5h3M12 20.5h1M16 20.5h1M20 20.5h1M35 20.5h1M42 20.5h1M44 20.5h1M17 21.5h1M24 21.5h1M27 21.5h1M39 21.5h1M41 21.5h1M13 22.5h1M22 22.5h2M27 22.5h1M29 22.5h1M26 23.5h1M39 23.5h1M14 24.5h1M22 24.5h1M28 24.5h1M10 25.5h1M13 25.5h1M16 25.5h3M38 25.5h2M19 26.5h1M42 26.5h1M8 27.5h1M15 27.5h1M23 27.5h1M38 27.5h1M1 28.5h1M16 28.5h1M37 28.5h1M8 29.5h1M12 29.5h2M16 29.5h1M19 29.5h1M44 29.5h1M13 30.5h2M18 30.5h1M21 30.5h1M25 30.5h1M32 30.5h1M35 30.5h1M38 30.5h1M41 30.5h1M15 31.5h1M37 31.5h2M44 31.5h1M10 32.5h1M21 32.5h2M32 32.5h2M39 32.5h1M14 33.5h1M26 33.5h1M30 33.5h1M40 33.5h1M44 33.5h1M41 34.5h2M44 34.5h1M21 35.5h2M24 35.5h1M28 35.5h1M44 35.5h1M12 36.5h1M18 36.5h1M23 36.5h3M32 36.5h2M41 36.5h1M7 37.5h1M14 37.5h1M16 37.5h1M24 37.5h1M28 37.5h1M36 37.5h1M15 38.5h1M31 38.5h1M36 38.5h1M24 39.5h2M28 39.5h1M31 39.5h1M37 39.5h1M43 39.5h1M5 40.5h1M21 40.5h1M24 40.5h2M27 40.5h1M5 41.5h1M26 41.5h1M37 41.5h1M41 41.5h1M5 42.5h1M14 42.5h1M18 42.5h1M31 42.5h1M33 42.5h1M4 43.5h1M15 43.5h2M2 44.5h1M17 44.5h1M25 44.5h1M28 44.5h1M41 44.5h1M1 45.5h1M20 45.5h1M22 45.5h1M29 45.5h1M31 45.5h2M36 45.5h1M43 45.5h1M4 46.5h1M14 46.5h1M24 46.5h1M28 46.5h1M30 46.5h1M33 46.5h1M36 46.5h1M21 47.5h1M37 47.5h1M42 47.5h1M13 48.5h2M22 48.5h1M34 48.5h1M40 48.5h2M43 48.5h1M32 49.5h2M35 49.5h1M7 50.5h1M12 50.5h1M17 50.5h1M22 50.5h2M30 50.5h1M33 50.5h1M35 50.5h1M38 50.5h2"/><path stroke="#fffbb9" d="M13 0.5h1M27 1.5h1M15 2.5h2M29 2.5h1M16 3.5h2M19 3.5h1M33 3.5h1M39 3.5h1M16 4.5h1M22 4.5h1M39 4.5h1M26 5.5h1M38 5.5h2M26 6.5h1M34 6.5h1M10 7.5h1M14 7.5h1M25 7.5h1M35 7.5h1M13 8.5h1M28 8.5h1M32 8.5h1M6 9.5h1M21 9.5h2M22 10.5h1M35 10.5h1M43 10.5h1M28 11.5h1M32 11.5h1M43 11.5h1M35 12.5h1M13 13.5h1M21 13.5h1M30 13.5h1M41 13.5h1M43 13.5h1M33 15.5h1M40 15.5h1M14 16.5h1M27 16.5h1M4 17.5h1M21 17.5h1M35 17.5h1M43 17.5h2M14 18.5h1M22 18.5h1M24 18.5h1M30 18.5h1M33 18.5h1M36 18.5h1M38 18.5h1M43 18.5h1M33 19.5h1M39 19.5h1M24 20.5h1M30 20.5h1M34 20.5h1M39 20.5h1M43 20.5h1M23 21.5h1M30 21.5h1M38 21.5h1M17 22.5h1M24 22.5h1M33 22.5h1M39 22.5h1M4 23.5h1M16 23.5h1M30 23.5h1M40 23.5h2M24 24.5h1M27 24.5h1M30 24.5h1M35 24.5h1M20 25.5h1M24 25.5h1M27 25.5h1M33 25.5h1M40 25.5h1M2 26.5h1M14 26.5h2M28 26.5h1M38 26.5h1M10 27.5h1M20 27.5h1M24 27.5h1M28 27.5h1M40 27.5h2M14 28.5h1M20 28.5h1M24 28.5h1M34 28.5h1M38 28.5h1M7 29.5h1M24 29.5h1M35 29.5h1M39 29.5h1M7 30.5h1M22 30.5h1M24 30.5h1M42 30.5h1M6 31.5h2M35 31.5h2M43 31.5h1M12 32.5h1M24 32.5h1M31 32.5h1M37 32.5h2M41 32.5h1M19 33.5h1M21 33.5h1M23 33.5h1M27 33.5h1M7 34.5h1M18 35.5h1M31 35.5h1M35 35.5h2M38 35.5h1M44 36.5h1M13 37.5h1M27 37.5h1M37 37.5h1M39 37.5h1M44 37.5h1M17 38.5h1M44 38.5h1M18 40.5h1M33 40.5h2M38 40.5h1M42 40.5h1M15 41.5h1M19 41.5h1M21 41.5h1M24 41.5h1M32 41.5h1M34 41.5h1M4 42.5h1M7 42.5h1M12 42.5h1M17 42.5h1M24 42.5h1M26 42.5h1M28 43.5h1M34 43.5h1M39 43.5h1M39 44.5h1M5 45.5h1M15 45.5h1M18 45.5h1M23 45.5h1M26 45.5h3M30 45.5h1M35 45.5h1M41 45.5h1M44 45.5h1M20 46.5h1M14 47.5h1M16 47.5h1M27 47.5h1M32 47.5h1M39 47.5h1M44 47.5h1M21 48.5h1M30 48.5h1M33 48.5h1M27 49.5h1M13 50.5h1M31 50.5h1M37 50.5h1M41 50.5h1"/><path stroke="#fff7b3" d="M36 0.5h1M39 0.5h1M28 2.5h1M24 3.5h1M36 3.5h2M7 4.5h1M21 4.5h1M7 7.5h1M11 7.5h1M24 7.5h1M38 8.5h1M10 9.5h1M33 9.5h1M7 11.5h1M15 11.5h1M41 11.5h1M39 12.5h1M11 13.5h1M27 13.5h2M36 13.5h1M13 14.5h1M42 15.5h1M37 16.5h1M39 16.5h1M41 16.5h1M18 17.5h1M24 17.5h1M7 18.5h1M28 18.5h1M41 19.5h1M33 21.5h1M36 21.5h1M43 21.5h1M41 22.5h1M11 23.5h1M28 23.5h1M42 23.5h1M18 24.5h1M33 24.5h1M38 24.5h1M28 25.5h1M42 25.5h1M44 25.5h1M24 26.5h1M40 26.5h1M43 26.5h1M42 27.5h2M28 28.5h1M44 28.5h1M40 30.5h1M24 31.5h1M41 31.5h1M28 32.5h1M4 33.5h1M7 33.5h1M16 33.5h1M33 33.5h1M22 36.5h1M28 36.5h1M25 37.5h1M32 37.5h2M6 38.5h1M30 38.5h1M41 40.5h1M43 40.5h1M28 41.5h1M30 41.5h1M33 41.5h1M38 41.5h1M43 41.5h1M0 42.5h1M28 42.5h1M36 42.5h1M33 44.5h1M40 44.5h1M17 45.5h1M21 45.5h1M24 45.5h2M39 45.5h1M21 46.5h1M25 46.5h1M31 47.5h1M17 48.5h1M36 48.5h1M34 49.5h1M39 49.5h1M5 50.5h1M18 50.5h1M24 50.5h1M26 50.5h1M43 50.5h2"/><path stroke="#fff3ad" d="M31 2.5h1M15 3.5h1M28 4.5h1M31 4.5h1M28 6.5h1M39 7.5h1M39 8.5h1M37 9.5h1M39 9.5h1M24 11.5h1M28 14.5h1M37 18.5h1M44 18.5h1M38 19.5h1M14 20.5h1M44 21.5h1M12 22.5h1M40 22.5h1M4 25.5h1M22 25.5h1M41 26.5h1M41 28.5h1M42 29.5h2M44 30.5h1M39 31.5h1M44 32.5h1M41 33.5h1M14 34.5h1M39 35.5h1M16 36.5h1M27 36.5h1M31 36.5h1M42 36.5h1M31 37.5h1M38 37.5h1M15 40.5h1M26 40.5h1M39 40.5h1M31 41.5h1M5 44.5h1M38 44.5h1M32 46.5h1M32 48.5h1M39 48.5h1M20 50.5h1"/><path stroke="#fef0a8" d="M36 2.5h1M38 2.5h1M24 4.5h1M28 7.5h1M14 9.5h1M31 16.5h1M41 18.5h1M43 24.5h1M30 26.5h1M15 33.5h1M24 33.5h1M38 33.5h1M30 36.5h1M30 37.5h1M39 41.5h1M15 44.5h1"/><path stroke="#feeca2" d="M7 3.5h1M32 3.5h1M41 17.5h1M44 26.5h1M40 29.5h1M39 33.5h1"/><path stroke="#fee89c" d="M13 6.5h1M30 6.5h1M38 14.5h1"/></g>
<rect x="55.90" y="487.10" width="313.65" height="163.254" fill="#fff5b0"/>
<g transform="translate(55.90 487.10) scale(6.97 2.093)" fill="none" stroke-width="1"><path stroke="#e8f6ea" d="M35 37.5h1"/><path stroke="#ecf8e3" d="M2 14.5h1M14 16.5h1M33 20.5h1M2 57.5h1M44 58.5h1"/><path stroke="#f0f9dc" d="M44 14.5h1M32 20.5h1M44 27.5h1M17 30.5h1M14 31.5h1M17 52.5h1M11 60.5h1M21 65.5h1M1 68.5h1M44 73.5h1M2 74.5h1"/><path stroke="#f3fad4" d="M41 1.5h1M36 4.5h1M5 5.5h1M33 14.5h1M35 14.5h1M20 15.5h1M38 16.5h1M23 18.5h1M21 25.5h1M29 25.5h1M35 25.5h1M44 25.5h1M37 27.5h1M1 30.5h1M44 32.5h1M2 37.5h1M7 37.5h1M8 40.5h1M8 42.5h1M35 44.5h1M37 47.5h1M35 49.5h1M37 51.5h1M37 53.5h1M17 55.5h1M21 56.5h1M2 58.5h1M5 62.5h1M2 63.5h1M2 67.5h1M21 69.5h1M35 70.5h1M44 70.5h1M7 75.5h1M35 75.5h1"/><path stroke="#f7fccd" d="M11 2.5h1M37 4.5h1M2 5.5h1M37 6.5h1M2 9.5h1M2 11.5h1M27 12.5h1M13 13.5h1M29 13.5h1M8 15.5h1M39 15.5h1M29 16.5h1M1 17.5h1M14 17.5h1M17 17.5h1M10 18.5h1M14 18.5h1M16 21.5h1M2 23.5h1M44 23.5h1M43 25.5h1M41 28.5h1M2 29.5h1M8 32.5h1M4 33.5h1M14 33.5h1M44 34.5h1M35 36.5h1M29 39.5h1M44 39.5h1M14 40.5h1M37 42.5h1M39 42.5h1M37 43.5h1M2 45.5h1M5 46.5h1M14 46.5h1M37 46.5h1M24 47.5h1M21 49.5h1M44 49.5h1M11 50.5h1M34 50.5h1M44 50.5h1M2 51.5h1M21 51.5h1M43 51.5h1M21 57.5h1M44 57.5h1M28 61.5h1M37 61.5h1M41 61.5h1M21 62.5h1M37 63.5h1M2 65.5h1M14 65.5h1M38 68.5h1M43 68.5h1M7 69.5h1M8 70.5h1M25 72.5h1M17 76.5h1"/><path stroke="#fbfec6" d="M5 0.5h1M21 0.5h1M23 0.5h1M35 0.5h1M37 0.5h1M7 1.5h1M11 1.5h1M14 1.5h1M37 1.5h1M1 2.5h1M14 2.5h1M35 2.5h2M42 2.5h1M5 3.5h1M7 3.5h1M24 4.5h1M27 4.5h1M38 4.5h1M33 5.5h1M39 5.5h1M4 6.5h2M35 6.5h1M37 7.5h1M17 9.5h1M41 9.5h1M2 10.5h1M44 10.5h1M9 13.5h1M44 13.5h1M5 14.5h1M14 14.5h1M21 14.5h1M28 15.5h1M36 15.5h1M2 17.5h1M5 17.5h1M35 17.5h1M37 17.5h1M21 18.5h1M28 18.5h1M37 18.5h1M14 21.5h1M25 22.5h1M37 22.5h1M44 22.5h1M35 23.5h1M37 23.5h1M18 24.5h1M4 25.5h1M37 25.5h1M6 27.5h1M11 27.5h1M14 28.5h1M33 28.5h1M35 28.5h1M11 29.5h1M28 29.5h1M37 29.5h1M42 29.5h1M19 30.5h1M7 31.5h1M9 31.5h1M44 31.5h1M2 32.5h1M32 32.5h1M2 33.5h1M28 35.5h1M17 36.5h1M29 36.5h1M27 37.5h1M37 37.5h1M44 37.5h1M5 38.5h1M44 38.5h1M2 39.5h1M37 40.5h1M44 40.5h1M32 41.5h1M44 41.5h1M29 43.5h1M9 45.5h1M24 45.5h1M29 45.5h1M36 45.5h1M36 46.5h1M9 47.5h1M20 48.5h1M37 48.5h1M39 48.5h1M1 49.5h1M18 49.5h1M37 49.5h1M5 50.5h1M21 50.5h1M24 50.5h1M42 50.5h1M1 51.5h1M8 51.5h2M11 51.5h1M28 51.5h1M33 51.5h1M1 52.5h1M7 53.5h2M14 53.5h1M29 53.5h1M34 53.5h1M14 55.5h1M19 55.5h1M2 56.5h1M11 57.5h1M13 57.5h1M26 57.5h1M28 57.5h1M17 58.5h1M44 59.5h1M2 60.5h1M8 61.5h1M18 61.5h2M35 61.5h1M38 61.5h1M5 63.5h1M35 64.5h1M44 64.5h1M19 65.5h1M44 65.5h1M35 66.5h1M37 66.5h1M20 67.5h1M41 67.5h1M14 68.5h1M39 68.5h1M2 69.5h1M37 69.5h1M24 70.5h1M33 70.5h1M2 72.5h1M11 72.5h1M13 73.5h1M5 74.5h1M8 74.5h1M14 74.5h1M21 74.5h1M32 74.5h1M8 75.5h1M13 75.5h1M1 77.5h2M35 77.5h1M44 77.5h1"/><path stroke="#ffffbf" d="M2 0.5h1M10 0.5h1M27 0.5h1M4 1.5h2M8 1.5h1M18 1.5h1M21 1.5h1M39 1.5h1M24 2.5h1M44 2.5h1M2 3.5h1M8 3.5h1M11 3.5h1M35 3.5h1M37 3.5h1M44 3.5h1M9 4.5h1M25 4.5h1M39 4.5h1M43 4.5h1M11 5.5h1M13 5.5h1M8 6.5h1M39 6.5h1M25 7.5h1M27 7.5h1M35 7.5h1M44 7.5h1M1 8.5h1M29 8.5h1M43 8.5h1M14 9.5h1M29 9.5h1M12 10.5h1M25 10.5h1M34 10.5h1M37 10.5h2M43 10.5h1M8 11.5h1M35 11.5h1M37 11.5h1M37 12.5h1M14 13.5h1M22 14.5h1M29 14.5h1M2 15.5h1M2 16.5h1M5 16.5h1M7 16.5h2M19 16.5h1M25 16.5h1M37 16.5h1M4 17.5h1M6 17.5h1M11 17.5h1M21 17.5h1M30 17.5h1M40 17.5h1M42 17.5h1M8 18.5h1M17 18.5h1M35 18.5h1M41 18.5h1M44 18.5h1M18 19.5h1M36 19.5h1M44 19.5h1M5 20.5h1M13 20.5h1M37 20.5h1M44 20.5h1M37 21.5h1M2 22.5h1M13 22.5h1M18 22.5h1M24 22.5h1M35 22.5h1M24 23.5h1M29 23.5h1M41 23.5h1M2 24.5h1M8 24.5h1M14 24.5h1M16 24.5h1M22 24.5h1M28 24.5h1M35 24.5h1M44 24.5h1M24 25.5h1M1 26.5h1M11 26.5h1M25 26.5h1M35 26.5h1M37 26.5h1M18 27.5h1M28 27.5h1M38 27.5h1M1 28.5h1M8 28.5h1M13 28.5h1M16 28.5h1M29 28.5h2M17 29.5h1M43 29.5h1M2 30.5h1M4 30.5h1M20 31.5h1M35 31.5h1M28 32.5h1M43 32.5h1M38 33.5h1M44 33.5h1M14 34.5h1M35 34.5h1M37 34.5h1M24 35.5h1M32 35.5h1M8 36.5h1M13 36.5h1M1 37.5h1M11 37.5h1M14 37.5h1M21 37.5h1M32 37.5h1M43 37.5h1M2 38.5h1M17 38.5h1M22 38.5h1M37 38.5h1M20 39.5h1M37 39.5h1M41 39.5h1M2 40.5h1M21 40.5h1M35 40.5h1M5 41.5h1M13 41.5h1M17 41.5h1M21 41.5h1M37 41.5h1M24 42.5h1M5 43.5h1M7 43.5h1M9 43.5h1M14 43.5h1M26 43.5h1M44 43.5h1M14 44.5h1M33 44.5h1M6 45.5h1M19 45.5h3M28 45.5h1M2 46.5h1M8 46.5h1M11 46.5h1M17 46.5h1M8 47.5h1M13 47.5h2M20 47.5h1M41 47.5h1M44 47.5h1M2 48.5h1M8 48.5h1M23 48.5h1M32 48.5h1M41 48.5h1M2 49.5h1M4 49.5h2M29 49.5h1M41 49.5h1M43 49.5h1M14 50.5h1M33 50.5h1M35 50.5h1M26 51.5h1M10 52.5h1M20 52.5h2M33 52.5h1M37 52.5h1M39 52.5h1M2 53.5h3M21 53.5h2M5 54.5h1M10 54.5h1M30 54.5h1M37 54.5h1M39 54.5h1M21 55.5h1M29 55.5h2M4 56.5h2M11 56.5h1M15 56.5h1M33 56.5h1M35 56.5h1M44 56.5h1M1 57.5h1M22 57.5h1M6 58.5h1M13 58.5h2M19 58.5h1M32 58.5h1M35 58.5h1M6 59.5h1M14 59.5h1M6 60.5h1M33 60.5h2M37 60.5h1M2 61.5h1M4 61.5h1M14 61.5h1M17 61.5h1M1 62.5h1M37 62.5h1M44 62.5h1M13 63.5h1M27 63.5h1M35 63.5h2M41 63.5h1M44 63.5h1M8 64.5h1M18 64.5h1M6 65.5h2M25 65.5h1M29 65.5h1M14 66.5h1M44 67.5h1M2 68.5h1M14 69.5h1M44 69.5h1M14 70.5h1M17 70.5h1M20 70.5h3M30 70.5h1M34 70.5h1M36 70.5h2M41 70.5h1M35 71.5h1M37 71.5h1M18 72.5h1M33 72.5h1M9 73.5h1M14 73.5h1M23 73.5h1M33 73.5h1M35 73.5h1M41 73.5h1M9 74.5h1M17 74.5h1M37 74.5h1M44 74.5h1M5 75.5h1M14 75.5h1M21 75.5h1M37 75.5h1M42 75.5h3M8 76.5h1M24 76.5h1M41 76.5h1M43 76.5h2M8 77.5h1M18 77.5h1M28 77.5h1M32 77.5h3"/><path stroke="#fffbb9" d="M11 0.5h1M17 0.5h1M20 0.5h1M24 0.5h1M6 1.5h1M10 1.5h1M25 1.5h1M38 1.5h1M44 1.5h1M10 2.5h1M21 2.5h1M23 2.5h1M37 2.5h1M43 2.5h1M4 3.5h1M9 3.5h1M20 3.5h2M43 3.5h1M3 4.5h1M5 4.5h1M7 4.5h2M13 4.5h1M21 4.5h1M30 4.5h1M33 4.5h1M35 4.5h1M42 4.5h1M17 5.5h1M19 5.5h2M29 5.5h1M37 5.5h1M41 5.5h2M44 5.5h1M2 6.5h1M7 6.5h1M17 6.5h1M22 6.5h2M26 6.5h1M32 6.5h2M36 6.5h1M38 6.5h1M44 6.5h1M4 7.5h1M10 7.5h1M13 7.5h1M36 7.5h1M34 8.5h2M1 9.5h1M5 9.5h1M8 9.5h1M12 9.5h1M21 9.5h2M28 9.5h1M32 9.5h1M35 9.5h1M5 10.5h1M8 10.5h1M13 10.5h1M17 10.5h2M29 10.5h1M35 10.5h1M5 11.5h1M7 11.5h1M11 11.5h1M14 11.5h1M21 11.5h1M26 11.5h1M28 11.5h1M38 11.5h1M2 12.5h1M21 12.5h1M32 12.5h1M41 12.5h1M2 13.5h1M8 13.5h1M17 13.5h1M21 13.5h1M35 13.5h1M38 13.5h1M1 14.5h1M4 14.5h1M6 14.5h1M8 14.5h1M11 14.5h1M26 14.5h1M32 14.5h1M41 14.5h1M4 15.5h1M6 15.5h2M11 15.5h1M14 15.5h1M19 15.5h1M24 15.5h1M26 15.5h1M29 15.5h1M34 15.5h1M37 15.5h1M1 16.5h1M4 16.5h1M17 16.5h1M21 16.5h1M41 16.5h1M44 16.5h1M19 17.5h1M28 17.5h1M32 17.5h2M38 17.5h1M43 17.5h1M4 18.5h1M7 18.5h1M25 18.5h1M29 18.5h2M34 18.5h1M42 18.5h2M2 19.5h1M6 19.5h1M8 19.5h1M19 19.5h1M29 19.5h1M35 19.5h1M37 19.5h1M1 20.5h1M3 20.5h1M19 20.5h2M27 20.5h2M36 20.5h1M2 21.5h1M7 21.5h2M12 21.5h1M34 21.5h1M42 21.5h1M4 22.5h2M7 22.5h1M29 22.5h1M43 22.5h1M8 23.5h1M20 23.5h1M33 23.5h1M1 24.5h1M17 24.5h1M21 24.5h1M3 25.5h1M7 25.5h2M13 25.5h1M17 25.5h1M26 25.5h3M41 25.5h1M2 26.5h1M4 26.5h1M17 26.5h1M44 26.5h1M2 27.5h1M8 27.5h1M14 27.5h1M17 27.5h1M19 27.5h1M21 27.5h1M26 27.5h1M33 27.5h1M2 28.5h1M5 28.5h1M11 28.5h1M21 28.5h1M24 28.5h1M32 28.5h1M44 28.5h1M7 29.5h1M13 29.5h1M34 29.5h1M38 29.5h1M24 30.5h1M35 30.5h1M37 30.5h1M41 30.5h1M44 30.5h1M2 31.5h1M5 31.5h1M19 31.5h1M21 31.5h1M24 31.5h1M38 31.5h1M9 32.5h1M14 32.5h1M18 32.5h1M33 32.5h1M11 33.5h1M35 33.5h1M42 33.5h1M8 34.5h1M13 34.5h1M17 34.5h1M24 34.5h1M26 34.5h1M4 35.5h1M11 35.5h1M13 35.5h1M17 35.5h1M29 35.5h1M35 35.5h1M37 35.5h1M41 35.5h1M44 35.5h1M21 36.5h1M28 36.5h1M32 36.5h1M37 36.5h1M8 37.5h1M13 37.5h1M42 37.5h1M4 38.5h1M11 38.5h1M13 38.5h1M18 38.5h1M21 38.5h1M24 38.5h1M27 38.5h1M33 38.5h1M35 38.5h1M39 38.5h1M6 39.5h2M17 39.5h2M35 39.5h1M39 39.5h1M5 40.5h1M9 40.5h1M38 40.5h1M2 41.5h1M4 41.5h1M8 41.5h1M14 41.5h1M26 41.5h2M30 41.5h1M35 41.5h1M41 41.5h1M2 42.5h1M7 42.5h1M10 42.5h1M23 42.5h1M28 42.5h1M35 42.5h1M42 42.5h1M2 43.5h1M11 43.5h1M17 43.5h1M21 43.5h1M28 43.5h1M32 43.5h1M36 43.5h1M38 43.5h1M42 43.5h2M2 44.5h1M8 44.5h1M11 44.5h1M17 44.5h1M23 44.5h1M29 44.5h1M37 44.5h1M42 44.5h1M44 44.5h1M5 45.5h1M7 45.5h2M12 45.5h1M17 45.5h2M26 45.5h1M33 45.5h1M35 45.5h1M10 46.5h1M12 46.5h2M19 46.5h2M29 46.5h1M35 46.5h1M2 47.5h1M31 47.5h1M39 47.5h1M7 48.5h1M21 48.5h1M28 48.5h2M43 48.5h2M7 49.5h1M13 49.5h1M27 49.5h1M30 49.5h1M33 49.5h1M1 50.5h1M9 50.5h1M31 50.5h2M5 51.5h1M10 51.5h1M14 51.5h1M32 51.5h1M41 51.5h1M0 52.5h1M2 52.5h1M4 52.5h1M14 52.5h1M35 52.5h1M44 52.5h1M9 53.5h1M16 53.5h1M20 53.5h1M41 53.5h1M1 54.5h1M17 54.5h1M21 54.5h1M29 54.5h1M35 54.5h2M43 54.5h1M1 55.5h2M7 55.5h1M11 55.5h1M27 55.5h1M37 55.5h2M7 56.5h2M12 56.5h1M16 56.5h1M37 56.5h1M9 58.5h1M20 58.5h1M25 58.5h1M28 58.5h1M1 59.5h1M28 59.5h1M8 60.5h1M12 60.5h1M14 60.5h1M29 60.5h1M35 60.5h1M38 60.5h1M42 60.5h1M44 60.5h1M6 61.5h1M10 61.5h1M29 61.5h1M32 61.5h1M36 61.5h1M42 61.5h1M44 61.5h1M14 62.5h1M24 62.5h1M27 62.5h3M32 62.5h1M35 62.5h1M42 62.5h1M4 63.5h1M8 63.5h1M11 63.5h1M14 63.5h1M16 63.5h1M21 63.5h1M24 63.5h1M43 63.5h1M4 64.5h1M7 64.5h1M21 64.5h1M37 64.5h1M1 65.5h1M30 65.5h1M32 65.5h1M35 65.5h1M32 66.5h1M38 66.5h1M41 66.5h1M3 67.5h1M8 67.5h1M10 67.5h1M14 67.5h1M18 67.5h1M21 67.5h1M25 67.5h1M35 67.5h1M42 67.5h1M10 68.5h1M23 68.5h3M27 68.5h1M29 68.5h1M33 68.5h1M35 68.5h1M37 68.5h1M41 68.5h1M44 68.5h1M10 69.5h1M17 69.5h1M33 69.5h1M38 69.5h1M41 69.5h1M43 69.5h1M2 70.5h1M4 70.5h1M6 70.5h2M27 70.5h1M43 70.5h1M2 71.5h2M5 71.5h1M8 71.5h1M11 71.5h1M13 71.5h2M17 71.5h1M19 71.5h1M21 71.5h1M29 71.5h1M38 71.5h1M7 72.5h1M13 72.5h1M17 72.5h1M34 72.5h1M37 72.5h1M2 73.5h1M4 73.5h1M8 73.5h1M11 73.5h1M17 73.5h1M19 73.5h2M6 74.5h1M18 74.5h2M26 74.5h1M30 74.5h1M35 74.5h2M39 74.5h1M11 75.5h2M17 75.5h1M22 75.5h1M29 75.5h1M41 75.5h1M2 76.5h1M4 76.5h1M21 76.5h1M29 76.5h1M37 76.5h2M6 77.5h1M14 77.5h1M17 77.5h1M21 77.5h1M37 77.5h1M41 77.5h1"/><path stroke="#fff7b3" d="M6 0.5h2M14 0.5h1M28 0.5h1M28 1.5h1M42 1.5h1M2 2.5h1M5 2.5h1M8 2.5h1M18 2.5h1M20 2.5h1M28 2.5h1M34 2.5h1M12 3.5h2M24 3.5h2M30 3.5h1M32 3.5h2M36 3.5h1M38 3.5h1M41 3.5h2M2 4.5h1M4 4.5h1M12 4.5h1M14 4.5h1M17 4.5h2M20 4.5h1M34 4.5h1M44 4.5h1M1 5.5h1M6 5.5h1M8 5.5h3M14 5.5h1M21 5.5h2M1 6.5h1M11 6.5h1M13 6.5h2M30 6.5h2M41 6.5h1M43 6.5h1M2 7.5h1M7 7.5h2M17 7.5h1M24 7.5h1M30 7.5h1M38 7.5h1M4 8.5h1M8 8.5h1M14 8.5h1M18 8.5h1M21 8.5h1M30 8.5h1M33 8.5h1M41 8.5h1M44 8.5h1M4 9.5h1M9 9.5h1M19 9.5h1M36 9.5h2M39 9.5h1M42 9.5h2M4 10.5h1M7 10.5h1M28 10.5h1M36 10.5h1M42 10.5h1M1 11.5h1M4 11.5h1M17 11.5h1M32 11.5h1M4 12.5h1M8 12.5h1M14 12.5h1M18 12.5h2M22 12.5h1M26 12.5h1M29 12.5h2M35 12.5h2M37 13.5h1M41 13.5h1M7 14.5h1M9 14.5h2M13 14.5h1M23 14.5h1M28 14.5h1M30 14.5h1M37 14.5h3M43 14.5h1M1 15.5h1M9 15.5h1M17 15.5h1M21 15.5h3M35 15.5h1M38 15.5h1M41 15.5h1M3 16.5h1M13 16.5h1M23 16.5h2M28 16.5h1M32 16.5h2M10 17.5h1M18 17.5h1M22 17.5h1M24 17.5h1M29 17.5h1M36 17.5h1M39 17.5h1M41 17.5h1M0 18.5h4M5 18.5h1M11 18.5h1M16 18.5h1M18 18.5h1M26 18.5h1M33 18.5h1M11 19.5h1M13 19.5h1M16 19.5h1M21 19.5h1M28 19.5h1M30 19.5h1M2 20.5h1M6 20.5h1M8 20.5h3M12 20.5h1M14 20.5h1M17 20.5h2M21 20.5h1M35 20.5h1M41 20.5h1M43 20.5h1M1 21.5h1M4 21.5h1M6 21.5h1M11 21.5h1M17 21.5h3M23 21.5h1M30 21.5h1M35 21.5h1M40 21.5h1M43 21.5h2M1 22.5h1M8 22.5h1M11 22.5h1M14 22.5h1M17 22.5h1M32 22.5h2M41 22.5h1M4 23.5h1M7 23.5h1M13 23.5h2M19 23.5h1M28 23.5h1M34 23.5h1M43 23.5h1M9 24.5h1M25 24.5h1M27 24.5h1M30 24.5h1M32 24.5h1M37 24.5h1M41 24.5h1M2 25.5h1M5 25.5h1M10 25.5h2M14 25.5h1M18 25.5h1M20 25.5h1M7 26.5h2M14 26.5h1M18 26.5h1M29 26.5h1M34 26.5h1M43 26.5h1M4 27.5h2M7 27.5h1M24 27.5h1M35 27.5h1M41 27.5h1M7 28.5h1M9 28.5h1M19 28.5h1M26 28.5h1M28 28.5h1M34 28.5h1M37 28.5h1M3 29.5h1M19 29.5h1M24 29.5h1M29 29.5h1M41 29.5h1M44 29.5h1M9 30.5h1M14 30.5h1M22 30.5h2M25 30.5h2M28 30.5h2M32 30.5h2M38 30.5h1M11 31.5h1M18 31.5h1M23 31.5h1M25 31.5h1M30 31.5h1M37 31.5h1M41 31.5h1M7 32.5h1M11 32.5h1M13 32.5h1M17 32.5h1M23 32.5h2M34 32.5h2M37 32.5h1M41 32.5h1M1 33.5h1M13 33.5h1M21 33.5h1M24 33.5h1M33 33.5h1M36 33.5h2M41 33.5h1M2 34.5h1M18 34.5h1M21 34.5h1M33 34.5h1M5 35.5h1M20 35.5h1M22 35.5h1M30 35.5h1M2 36.5h1M4 36.5h4M10 36.5h1M12 36.5h1M18 36.5h1M27 36.5h1M38 36.5h1M42 36.5h2M5 37.5h1M17 37.5h2M20 37.5h1M24 37.5h2M36 37.5h1M41 37.5h1M3 38.5h1M7 38.5h2M14 38.5h1M16 38.5h1M29 38.5h1M36 38.5h1M41 38.5h2M10 39.5h1M12 39.5h1M19 39.5h1M21 39.5h1M26 39.5h1M33 39.5h1M38 39.5h1M43 39.5h1M6 40.5h1M11 40.5h1M29 40.5h1M32 40.5h1M34 40.5h1M36 40.5h1M7 41.5h1M18 41.5h1M25 41.5h1M29 41.5h1M33 41.5h1M42 41.5h1M11 42.5h1M14 42.5h1M17 42.5h1M22 42.5h1M29 42.5h1M43 42.5h2M4 43.5h1M8 43.5h1M13 43.5h1M19 43.5h1M31 43.5h1M33 43.5h1M35 43.5h1M41 43.5h1M7 44.5h1M9 44.5h1M19 44.5h1M25 44.5h1M32 44.5h1M41 44.5h1M3 45.5h2M14 45.5h1M16 45.5h1M25 45.5h1M32 45.5h1M41 45.5h1M43 45.5h2M3 46.5h1M6 46.5h2M23 46.5h3M30 46.5h1M32 46.5h1M41 46.5h1M43 46.5h2M5 47.5h1M7 47.5h1M12 47.5h1M19 47.5h1M21 47.5h1M29 47.5h1M32 47.5h1M35 47.5h1M5 48.5h1M11 48.5h1M14 48.5h1M17 48.5h1M33 48.5h2M36 48.5h1M11 49.5h1M34 49.5h1M42 49.5h1M8 50.5h1M13 50.5h1M28 50.5h2M37 50.5h1M39 50.5h1M41 50.5h1M6 51.5h2M13 51.5h1M17 51.5h1M19 51.5h2M27 51.5h1M31 51.5h1M38 51.5h1M44 51.5h1M5 52.5h1M7 52.5h2M13 52.5h1M29 52.5h1M31 52.5h2M34 52.5h1M43 52.5h1M1 53.5h1M5 53.5h1M10 53.5h2M13 53.5h1M17 53.5h2M25 53.5h1M28 53.5h1M32 53.5h2M35 53.5h1M38 53.5h1M42 53.5h1M2 54.5h1M6 54.5h3M18 54.5h1M24 54.5h1M44 54.5h1M4 55.5h1M28 55.5h1M35 55.5h1M39 55.5h1M9 56.5h1M13 56.5h1M23 56.5h1M26 56.5h1M29 56.5h2M38 56.5h1M40 56.5h1M6 57.5h1M8 57.5h1M10 57.5h1M17 57.5h4M30 57.5h1M32 57.5h1M35 57.5h1M38 57.5h1M3 58.5h3M8 58.5h1M12 58.5h1M18 58.5h1M22 58.5h1M29 58.5h1M37 58.5h3M2 59.5h1M4 59.5h1M13 59.5h1M18 59.5h1M21 59.5h1M34 59.5h1M37 59.5h1M4 60.5h1M9 60.5h1M22 60.5h1M27 60.5h1M32 60.5h1M41 60.5h1M1 61.5h1M34 61.5h1M4 62.5h1M6 62.5h1M10 62.5h2M18 62.5h1M20 62.5h1M33 62.5h1M38 62.5h2M41 62.5h1M1 63.5h1M33 63.5h1M6 64.5h1M9 64.5h3M19 64.5h1M24 64.5h1M27 64.5h3M41 64.5h1M5 65.5h1M27 65.5h2M1 66.5h2M4 66.5h5M13 66.5h1M26 66.5h1M34 66.5h1M44 66.5h1M5 67.5h1M7 67.5h1M17 67.5h1M19 67.5h1M28 67.5h3M32 67.5h3M37 67.5h1M43 67.5h1M3 68.5h1M6 68.5h2M18 68.5h1M21 68.5h1M26 68.5h1M28 68.5h1M32 68.5h1M0 69.5h1M5 69.5h1M8 69.5h2M12 69.5h1M18 69.5h1M24 69.5h1M29 69.5h1M35 69.5h1M9 70.5h1M11 70.5h1M23 70.5h1M28 70.5h1M32 70.5h1M42 70.5h1M1 71.5h1M9 71.5h1M28 71.5h1M32 71.5h1M41 71.5h1M5 72.5h1M8 72.5h1M14 72.5h1M23 72.5h1M29 72.5h1M35 72.5h1M44 72.5h1M21 73.5h1M25 73.5h1M34 73.5h1M36 73.5h1M43 73.5h1M11 74.5h1M16 74.5h1M27 74.5h1M31 74.5h1M33 74.5h1M38 74.5h1M42 74.5h2M0 75.5h4M6 75.5h1M16 75.5h1M25 75.5h1M30 75.5h1M38 75.5h2M1 76.5h1M5 76.5h2M14 76.5h1M16 76.5h1M22 76.5h1M32 76.5h1M39 76.5h1M42 76.5h1M4 77.5h1M7 77.5h1M9 77.5h2M24 77.5h1M29 77.5h1"/><path stroke="#fff3ad" d="M1 0.5h1M4 0.5h1M15 0.5h1M18 0.5h1M22 0.5h1M25 0.5h1M29 0.5h1M33 0.5h2M36 0.5h1M39 0.5h1M44 0.5h1M1 1.5h2M9 1.5h1M17 1.5h1M19 1.5h1M22 1.5h2M26 1.5h2M36 1.5h1M43 1.5h1M6 2.5h2M9 2.5h1M16 2.5h2M27 2.5h1M1 3.5h1M18 3.5h1M22 3.5h1M27 3.5h2M39 3.5h1M1 4.5h1M6 4.5h1M11 4.5h1M29 4.5h1M32 4.5h1M3 5.5h1M7 5.5h1M23 5.5h1M30 5.5h1M35 5.5h1M38 5.5h1M9 6.5h1M18 6.5h1M20 6.5h2M25 6.5h1M27 6.5h3M34 6.5h1M42 6.5h1M1 7.5h1M3 7.5h1M5 7.5h1M9 7.5h1M11 7.5h1M14 7.5h1M20 7.5h4M29 7.5h1M33 7.5h1M42 7.5h2M2 8.5h1M9 8.5h1M11 8.5h3M17 8.5h1M19 8.5h1M27 8.5h1M36 8.5h1M7 9.5h1M10 9.5h1M18 9.5h1M20 9.5h1M33 9.5h1M38 9.5h1M44 9.5h1M10 10.5h2M14 10.5h1M20 10.5h1M22 10.5h1M30 10.5h3M39 10.5h1M41 10.5h1M18 11.5h1M22 11.5h2M27 11.5h1M30 11.5h1M33 11.5h2M36 11.5h1M39 11.5h1M41 11.5h2M44 11.5h1M1 12.5h1M3 12.5h1M5 12.5h1M11 12.5h1M16 12.5h2M20 12.5h1M38 12.5h1M43 12.5h2M1 13.5h1M4 13.5h1M16 13.5h1M18 13.5h3M24 13.5h1M26 13.5h1M33 13.5h1M42 13.5h1M16 14.5h2M20 14.5h1M27 14.5h1M36 14.5h1M42 14.5h1M5 15.5h1M13 15.5h1M31 15.5h2M6 16.5h1M10 16.5h3M18 16.5h1M20 16.5h1M34 16.5h2M39 16.5h1M43 16.5h1M13 17.5h1M20 17.5h1M25 17.5h1M9 18.5h1M13 18.5h1M27 18.5h1M32 18.5h1M38 18.5h1M4 19.5h1M7 19.5h1M9 19.5h2M17 19.5h1M34 19.5h1M38 19.5h1M40 19.5h1M43 19.5h1M0 20.5h1M4 20.5h1M11 20.5h1M23 20.5h1M29 20.5h2M34 20.5h1M38 20.5h2M5 21.5h1M21 21.5h1M24 21.5h4M38 21.5h1M41 21.5h1M9 22.5h1M27 22.5h1M31 22.5h1M34 22.5h1M36 22.5h1M38 22.5h1M42 22.5h1M5 23.5h2M9 23.5h1M11 23.5h1M17 23.5h2M21 23.5h1M25 23.5h2M31 23.5h1M38 23.5h2M42 23.5h1M3 24.5h1M6 24.5h2M12 24.5h2M20 24.5h1M24 24.5h1M39 24.5h1M43 24.5h1M9 25.5h1M12 25.5h1M16 25.5h1M22 25.5h2M32 25.5h1M34 25.5h1M36 25.5h1M38 25.5h1M40 25.5h1M42 25.5h1M3 26.5h1M5 26.5h2M9 26.5h1M16 26.5h1M27 26.5h2M30 26.5h2M38 26.5h1M41 26.5h1M0 27.5h2M3 27.5h1M9 27.5h1M12 27.5h1M20 27.5h1M22 27.5h1M25 27.5h1M27 27.5h1M29 27.5h1M36 27.5h1M3 28.5h2M10 28.5h1M23 28.5h1M27 28.5h1M36 28.5h1M38 28.5h1M43 28.5h1M5 29.5h1M8 29.5h2M14 29.5h1M18 29.5h1M21 29.5h1M23 29.5h1M25 29.5h1M27 29.5h1M30 29.5h1M36 29.5h1M3 30.5h1M11 30.5h1M21 30.5h1M27 30.5h1M30 30.5h1M36 30.5h1M39 30.5h1M42 30.5h2M1 31.5h1M4 31.5h1M8 31.5h1M10 31.5h1M12 31.5h1M17 31.5h1M26 31.5h1M29 31.5h1M36 31.5h1M39 31.5h1M43 31.5h1M1 32.5h1M20 32.5h1M22 32.5h1M25 32.5h3M30 32.5h1M3 33.5h1M7 33.5h1M9 33.5h1M18 33.5h3M23 33.5h1M25 33.5h1M28 33.5h1M31 33.5h1M39 33.5h1M0 34.5h2M3 34.5h2M6 34.5h2M11 34.5h2M19 34.5h1M23 34.5h1M29 34.5h2M32 34.5h1M41 34.5h1M2 35.5h1M6 35.5h1M10 35.5h1M23 35.5h1M33 35.5h1M39 35.5h2M11 36.5h1M20 36.5h1M31 36.5h1M36 36.5h1M39 36.5h1M41 36.5h1M44 36.5h1M3 37.5h2M6 37.5h1M9 37.5h1M12 37.5h1M16 37.5h1M26 37.5h1M29 37.5h1M31 37.5h1M33 37.5h1M38 37.5h2M6 38.5h1M9 38.5h2M12 38.5h1M20 38.5h1M23 38.5h1M25 38.5h1M28 38.5h1M32 38.5h1M38 38.5h1M40 38.5h1M43 38.5h1M5 39.5h1M8 39.5h2M14 39.5h1M27 39.5h1M32 39.5h1M34 39.5h1M4 40.5h1M10 40.5h1M12 40.5h1M17 40.5h1M22 40.5h4M27 40.5h1M31 40.5h1M39 40.5h1M41 40.5h1M6 41.5h1M10 41.5h3M16 41.5h1M20 41.5h1M23 41.5h1M28 41.5h1M34 41.5h1M38 41.5h2M43 41.5h1M3 42.5h1M13 42.5h1M20 42.5h2M24 43.5h2M27 43.5h1M30 43.5h1M34 43.5h1M4 44.5h3M18 44.5h1M21 44.5h2M27 44.5h2M36 44.5h1M11 45.5h1M22 45.5h2M34 45.5h1M39 45.5h1M42 45.5h1M4 46.5h1M9 46.5h1M16 46.5h1M21 46.5h1M27 46.5h1M34 46.5h1M38 46.5h2M1 47.5h1M4 47.5h1M10 47.5h2M18 47.5h1M26 47.5h2M30 47.5h1M34 47.5h1M38 47.5h1M1 48.5h1M3 48.5h1M6 48.5h1M9 48.5h1M13 48.5h1M42 48.5h1M6 49.5h1M12 49.5h1M14 49.5h1M16 49.5h2M20 49.5h1M23 49.5h1M25 49.5h1M28 49.5h1M32 49.5h1M36 49.5h1M2 50.5h3M7 50.5h1M10 50.5h1M16 50.5h3M25 50.5h1M36 50.5h1M0 51.5h1M4 51.5h1M23 51.5h1M29 51.5h2M36 51.5h1M39 51.5h1M42 51.5h1M3 52.5h1M6 52.5h1M12 52.5h1M18 52.5h2M27 52.5h2M30 52.5h1M36 52.5h1M40 52.5h1M42 52.5h1M0 53.5h1M12 53.5h1M19 53.5h1M23 53.5h2M26 53.5h1M30 53.5h1M39 53.5h1M44 53.5h1M0 54.5h1M3 54.5h1M13 54.5h2M19 54.5h1M25 54.5h1M28 54.5h1M33 54.5h1M41 54.5h1M5 55.5h1M13 55.5h1M15 55.5h2M18 55.5h1M20 55.5h1M32 55.5h1M34 55.5h1M36 55.5h1M41 55.5h4M1 56.5h1M10 56.5h1M14 56.5h1M17 56.5h1M19 56.5h2M22 56.5h1M24 56.5h1M27 56.5h2M36 56.5h1M41 56.5h1M43 56.5h1M5 57.5h1M12 57.5h1M24 57.5h1M27 57.5h1M34 57.5h1M42 57.5h2M1 58.5h1M7 58.5h1M10 58.5h2M21 58.5h1M26 58.5h1M33 58.5h1M41 58.5h1M8 59.5h1M11 59.5h2M17 59.5h1M24 59.5h2M29 59.5h1M32 59.5h2M35 59.5h1M39 59.5h1M41 59.5h1M5 60.5h1M10 60.5h1M16 60.5h1M20 60.5h1M40 60.5h1M0 61.5h1M3 61.5h1M11 61.5h1M16 61.5h1M25 61.5h1M27 61.5h1M31 61.5h1M39 61.5h1M2 62.5h1M7 62.5h1M9 62.5h1M12 62.5h2M19 62.5h1M23 62.5h1M3 63.5h1M6 63.5h1M9 63.5h1M19 63.5h1M22 63.5h1M25 63.5h1M29 63.5h1M1 64.5h2M13 64.5h2M17 64.5h1M22 64.5h1M25 64.5h1M33 64.5h1M38 64.5h1M43 64.5h1M3 65.5h1M8 65.5h1M12 65.5h2M18 65.5h1M37 65.5h1M39 65.5h1M9 66.5h1M11 66.5h1M17 66.5h2M21 66.5h1M23 66.5h1M25 66.5h1M27 66.5h1M30 66.5h1M43 66.5h1M6 67.5h1M9 67.5h1M13 67.5h1M16 67.5h1M22 67.5h3M26 67.5h1M38 67.5h1M5 68.5h1M8 68.5h2M12 68.5h1M30 68.5h1M42 68.5h1M11 69.5h1M16 69.5h1M26 69.5h1M32 69.5h1M39 69.5h1M3 70.5h1M5 70.5h1M10 70.5h1M18 70.5h2M26 70.5h1M29 70.5h1M38 70.5h2M7 71.5h1M18 71.5h1M22 71.5h1M27 71.5h1M36 71.5h1M42 71.5h1M44 71.5h1M1 72.5h1M6 72.5h1M10 72.5h1M22 72.5h1M24 72.5h1M38 72.5h1M41 72.5h1M43 72.5h1M1 73.5h1M7 73.5h1M18 73.5h1M22 73.5h1M27 73.5h1M30 73.5h3M37 73.5h2M1 74.5h1M3 74.5h1M10 74.5h1M22 74.5h2M28 74.5h1M10 75.5h1M24 75.5h1M26 75.5h1M12 76.5h1M26 76.5h2M30 76.5h1M33 76.5h1M35 76.5h1M3 77.5h1M5 77.5h1M11 77.5h1M13 77.5h1M16 77.5h1M27 77.5h1M36 77.5h1"/><path stroke="#fef0a8" d="M3 0.5h1M8 0.5h2M13 0.5h1M16 0.5h1M19 0.5h1M31 0.5h2M40 0.5h3M20 1.5h1M24 1.5h1M29 1.5h1M32 1.5h2M35 1.5h1M4 2.5h1M12 2.5h1M22 2.5h1M25 2.5h2M29 2.5h5M39 2.5h2M3 3.5h1M6 3.5h1M10 3.5h1M14 3.5h4M19 3.5h1M29 3.5h1M34 3.5h1M10 4.5h1M16 4.5h1M22 4.5h2M26 4.5h1M28 4.5h1M41 4.5h1M4 5.5h1M12 5.5h1M15 5.5h1M18 5.5h1M24 5.5h1M26 5.5h3M34 5.5h1M3 6.5h1M6 6.5h1M10 6.5h1M16 6.5h1M6 7.5h1M28 7.5h1M39 7.5h1M7 8.5h1M23 8.5h2M28 8.5h1M32 8.5h1M37 8.5h2M3 9.5h1M11 9.5h1M13 9.5h1M27 9.5h1M3 10.5h1M6 10.5h1M9 10.5h1M21 10.5h1M23 10.5h2M6 11.5h1M12 11.5h1M20 11.5h1M29 11.5h1M40 11.5h1M6 12.5h2M10 12.5h1M12 12.5h2M23 12.5h1M33 12.5h1M3 13.5h1M15 13.5h1M27 13.5h2M31 13.5h1M36 13.5h1M39 13.5h1M12 14.5h1M19 14.5h1M24 14.5h2M34 14.5h1M25 15.5h1M30 15.5h1M33 15.5h1M40 15.5h1M44 15.5h1M15 16.5h1M30 16.5h1M7 17.5h2M23 17.5h1M26 17.5h2M34 17.5h1M15 18.5h1M22 18.5h1M40 18.5h1M1 19.5h1M5 19.5h1M12 19.5h1M20 19.5h1M22 19.5h1M24 19.5h3M32 19.5h2M41 19.5h1M7 20.5h1M15 20.5h1M24 20.5h3M31 20.5h1M42 20.5h1M0 21.5h1M20 21.5h1M22 21.5h1M29 21.5h1M33 21.5h1M10 22.5h1M19 22.5h3M23 22.5h1M26 22.5h1M10 23.5h1M12 23.5h1M15 23.5h1M23 23.5h1M32 23.5h1M36 23.5h1M40 23.5h1M0 24.5h1M5 24.5h1M10 24.5h1M19 24.5h1M26 24.5h1M34 24.5h1M36 24.5h1M1 25.5h1M6 25.5h1M25 25.5h1M31 25.5h1M39 25.5h1M13 26.5h1M19 26.5h1M21 26.5h1M24 26.5h1M33 26.5h1M36 26.5h1M13 27.5h1M30 27.5h1M32 27.5h1M39 27.5h1M42 27.5h1M0 28.5h1M20 28.5h1M31 28.5h1M39 28.5h1M42 28.5h1M0 29.5h2M4 29.5h1M6 29.5h1M20 29.5h1M26 29.5h1M31 29.5h1M0 30.5h1M5 30.5h1M8 30.5h1M10 30.5h1M15 30.5h2M18 30.5h1M34 30.5h1M3 31.5h1M6 31.5h1M13 31.5h1M27 31.5h2M33 31.5h2M4 32.5h1M16 32.5h1M19 32.5h1M21 32.5h1M29 32.5h1M38 32.5h1M6 33.5h1M8 33.5h1M15 33.5h2M29 33.5h2M43 33.5h1M5 34.5h1M10 34.5h1M20 34.5h1M22 34.5h1M28 34.5h1M36 34.5h1M39 34.5h1M42 34.5h1M1 35.5h1M3 35.5h1M12 35.5h1M14 35.5h1M16 35.5h1M18 35.5h2M21 35.5h1M36 35.5h1M38 35.5h1M0 36.5h2M3 36.5h1M9 36.5h1M14 36.5h1M16 36.5h1M22 36.5h1M25 36.5h1M19 37.5h1M34 38.5h1M1 39.5h1M3 39.5h2M11 39.5h1M15 39.5h2M23 39.5h1M28 39.5h1M30 39.5h1M7 40.5h1M13 40.5h1M16 40.5h1M20 40.5h1M26 40.5h1M28 40.5h1M33 40.5h1M42 40.5h2M15 41.5h1M24 41.5h1M36 41.5h1M5 42.5h1M9 42.5h1M16 42.5h1M18 42.5h2M27 42.5h1M34 42.5h1M38 42.5h1M3 43.5h1M6 43.5h1M12 43.5h1M16 43.5h1M18 43.5h1M20 43.5h1M23 43.5h1M39 43.5h2M3 44.5h1M10 44.5h1M12 44.5h1M15 44.5h2M20 44.5h1M26 44.5h1M30 44.5h2M34 44.5h1M38 44.5h1M1 45.5h1M10 45.5h1M13 45.5h1M15 45.5h1M30 45.5h2M37 45.5h1M22 46.5h1M26 46.5h1M28 46.5h1M31 46.5h1M6 47.5h1M17 47.5h1M25 47.5h1M28 47.5h1M33 47.5h1M42 47.5h2M10 48.5h1M12 48.5h1M15 48.5h2M18 48.5h1M22 48.5h1M24 48.5h1M26 48.5h1M30 48.5h1M35 48.5h1M3 49.5h1M8 49.5h2M19 49.5h1M22 49.5h1M31 49.5h1M39 49.5h1M6 50.5h1M22 50.5h2M27 50.5h1M30 50.5h1M38 50.5h1M43 50.5h1M22 51.5h1M24 51.5h2M34 51.5h2M9 52.5h1M16 52.5h1M22 52.5h3M26 52.5h1M38 52.5h1M27 53.5h1M36 53.5h1M4 54.5h1M9 54.5h1M11 54.5h1M20 54.5h1M23 54.5h1M26 54.5h2M34 54.5h1M38 54.5h1M42 54.5h1M8 55.5h3M26 55.5h1M33 55.5h1M6 56.5h1M25 56.5h1M31 56.5h1M34 56.5h1M3 57.5h2M7 57.5h1M9 57.5h1M14 57.5h1M23 57.5h1M25 57.5h1M37 57.5h1M0 58.5h1M23 58.5h1M34 58.5h1M42 58.5h1M3 59.5h1M5 59.5h1M7 59.5h1M9 59.5h1M19 59.5h1M22 59.5h1M30 59.5h1M36 59.5h1M38 59.5h1M43 59.5h1M1 60.5h1M3 60.5h1M7 60.5h1M17 60.5h2M21 60.5h1M24 60.5h1M36 60.5h1M43 60.5h1M5 61.5h1M9 61.5h1M22 61.5h1M26 61.5h1M30 61.5h1M33 61.5h1M43 61.5h1M3 62.5h1M8 62.5h1M17 62.5h1M25 62.5h1M31 62.5h1M34 62.5h1M36 62.5h1M40 62.5h1M43 62.5h1M7 63.5h1M17 63.5h1M20 63.5h1M23 63.5h1M28 63.5h1M30 63.5h1M32 63.5h1M34 63.5h1M38 63.5h3M12 64.5h1M20 64.5h1M23 64.5h1M31 64.5h1M4 65.5h1M9 65.5h3M17 65.5h1M20 65.5h1M23 65.5h1M31 65.5h1M33 65.5h1M41 65.5h3M15 66.5h1M29 66.5h1M33 66.5h1M39 66.5h1M0 67.5h2M11 67.5h1M27 67.5h1M39 67.5h1M0 68.5h1M4 68.5h1M11 68.5h1M13 68.5h1M15 68.5h1M17 68.5h1M34 68.5h1M13 69.5h1M19 69.5h1M22 69.5h1M25 69.5h1M27 69.5h2M34 69.5h1M42 69.5h1M12 70.5h1M25 70.5h1M31 70.5h1M4 71.5h1M12 71.5h1M15 71.5h1M23 71.5h1M26 71.5h1M34 71.5h1M39 71.5h1M43 71.5h1M0 72.5h1M4 72.5h1M9 72.5h1M20 72.5h2M27 72.5h2M30 72.5h3M42 72.5h1M0 73.5h1M10 73.5h1M26 73.5h1M28 73.5h1M39 73.5h2M0 74.5h1M4 74.5h1M7 74.5h1M12 74.5h1M20 74.5h1M29 74.5h1M4 75.5h1M9 75.5h1M18 75.5h3M33 75.5h2M36 75.5h1M3 76.5h1M10 76.5h1M13 76.5h1M18 76.5h3M23 76.5h1M28 76.5h1M34 76.5h1M12 77.5h1M22 77.5h1M25 77.5h2M40 77.5h1"/><path stroke="#feeca2" d="M12 0.5h1M26 0.5h1M30 0.5h1M38 0.5h1M12 1.5h1M15 1.5h1M30 1.5h1M34 1.5h1M40 1.5h1M0 2.5h1M3 2.5h1M38 2.5h1M41 2.5h1M23 3.5h1M26 3.5h1M19 4.5h1M31 4.5h1M40 4.5h1M25 5.5h1M31 5.5h2M36 5.5h1M43 5.5h1M12 6.5h1M19 6.5h1M24 6.5h1M12 7.5h1M18 7.5h2M32 7.5h1M41 7.5h1M5 8.5h1M16 8.5h1M20 8.5h1M25 8.5h1M42 8.5h1M15 9.5h1M23 9.5h2M26 9.5h1M34 9.5h1M1 10.5h1M16 10.5h1M19 10.5h1M9 11.5h1M19 11.5h1M24 11.5h2M43 11.5h1M15 12.5h1M24 12.5h2M28 12.5h1M34 12.5h1M39 12.5h1M0 13.5h1M5 13.5h1M7 13.5h1M10 13.5h2M22 13.5h2M25 13.5h1M30 13.5h1M32 13.5h1M18 14.5h1M31 14.5h1M40 14.5h1M3 15.5h1M10 15.5h1M16 15.5h1M18 15.5h1M42 15.5h2M16 16.5h1M22 16.5h1M26 16.5h1M36 16.5h1M40 16.5h1M0 17.5h1M12 17.5h1M15 17.5h1M6 18.5h1M12 18.5h1M24 18.5h1M39 18.5h1M0 19.5h1M14 19.5h1M27 19.5h1M22 20.5h1M40 20.5h1M3 21.5h1M9 21.5h2M13 21.5h1M28 21.5h1M31 21.5h1M36 21.5h1M39 21.5h1M3 22.5h1M12 22.5h1M15 22.5h1M22 22.5h1M28 22.5h1M0 23.5h2M3 23.5h1M22 23.5h1M30 23.5h1M4 24.5h1M29 24.5h1M31 24.5h1M33 24.5h1M42 24.5h1M0 25.5h1M33 25.5h1M10 26.5h1M20 26.5h1M22 26.5h2M32 26.5h1M42 26.5h1M10 27.5h1M16 27.5h1M23 27.5h1M34 27.5h1M40 27.5h1M6 28.5h1M12 28.5h1M15 28.5h1M17 28.5h1M22 28.5h1M10 29.5h1M15 29.5h2M22 29.5h1M35 29.5h1M39 29.5h2M7 30.5h1M12 30.5h1M0 31.5h1M15 31.5h2M31 31.5h2M40 31.5h1M42 31.5h1M0 32.5h1M5 32.5h1M10 32.5h1M31 32.5h1M36 32.5h1M39 32.5h2M42 32.5h1M0 33.5h1M5 33.5h1M10 33.5h1M12 33.5h1M17 33.5h1M27 33.5h1M32 33.5h1M40 33.5h1M9 34.5h1M27 34.5h1M31 34.5h1M34 34.5h1M38 34.5h1M7 35.5h1M9 35.5h1M15 35.5h1M25 35.5h1M43 35.5h1M19 36.5h1M23 36.5h2M26 36.5h1M33 36.5h2M10 37.5h1M15 37.5h1M28 37.5h1M30 37.5h1M34 37.5h1M40 37.5h1M1 38.5h1M19 38.5h1M26 38.5h1M13 39.5h1M24 39.5h1M31 39.5h1M42 39.5h1M18 40.5h2M30 40.5h1M3 41.5h1M9 41.5h1M19 41.5h1M40 41.5h1M0 42.5h2M6 42.5h1M12 42.5h1M15 42.5h1M30 42.5h1M32 42.5h2M36 42.5h1M10 43.5h1M15 43.5h1M13 44.5h1M39 44.5h1M43 44.5h1M38 45.5h1M40 45.5h1M33 46.5h1M3 47.5h1M16 47.5h1M22 47.5h1M4 48.5h1M19 48.5h1M25 48.5h1M27 48.5h1M40 48.5h1M24 49.5h1M38 49.5h1M15 50.5h1M20 50.5h1M26 50.5h1M16 51.5h1M18 51.5h1M11 52.5h1M15 52.5h1M25 52.5h1M41 52.5h1M6 53.5h1M31 53.5h1M43 53.5h1M12 54.5h1M16 54.5h1M22 54.5h1M31 54.5h2M40 54.5h1M3 55.5h1M12 55.5h1M22 55.5h4M31 55.5h1M0 56.5h1M3 56.5h1M18 56.5h1M42 56.5h1M16 57.5h1M29 57.5h1M39 57.5h3M27 58.5h1M36 58.5h1M15 59.5h2M20 59.5h1M23 59.5h1M27 59.5h1M40 59.5h1M42 59.5h1M0 60.5h1M13 60.5h1M25 60.5h1M28 60.5h1M39 60.5h1M7 61.5h1M20 61.5h2M23 61.5h2M40 61.5h1M0 62.5h1M15 62.5h1M22 62.5h1M30 62.5h1M0 63.5h1M10 63.5h1M18 63.5h1M26 63.5h1M3 64.5h1M15 64.5h2M30 64.5h1M32 64.5h1M34 64.5h1M42 64.5h1M22 65.5h1M24 65.5h1M26 65.5h1M3 66.5h1M10 66.5h1M20 66.5h1M22 66.5h1M24 66.5h1M28 66.5h1M42 66.5h1M12 67.5h1M31 67.5h1M16 68.5h1M19 68.5h1M22 68.5h1M3 69.5h2M6 69.5h1M15 69.5h1M20 69.5h1M23 69.5h1M30 69.5h2M36 69.5h1M40 69.5h1M1 70.5h1M10 71.5h1M20 71.5h1M24 71.5h2M31 71.5h1M33 71.5h1M3 72.5h1M19 72.5h1M36 72.5h1M3 73.5h1M5 73.5h2M29 73.5h1M42 73.5h1M13 74.5h1M15 74.5h1M24 74.5h2M40 74.5h2M23 75.5h1M27 75.5h1M31 75.5h2M40 75.5h1M7 76.5h1M9 76.5h1M11 76.5h1M31 76.5h1M36 76.5h1M40 76.5h1M19 77.5h1M30 77.5h2M38 77.5h2M42 77.5h2"/><path stroke="#fee89c" d="M3 1.5h1M31 1.5h1M13 2.5h1M19 2.5h1M15 4.5h1M15 6.5h1M40 6.5h1M15 7.5h2M31 7.5h1M34 7.5h1M3 8.5h1M6 8.5h1M15 8.5h1M22 8.5h1M26 8.5h1M39 8.5h1M6 9.5h1M30 9.5h1M0 10.5h1M15 10.5h1M26 10.5h2M33 10.5h1M3 11.5h1M15 11.5h2M31 11.5h1M9 12.5h1M42 12.5h1M34 13.5h1M40 13.5h1M0 14.5h1M3 14.5h1M0 15.5h1M15 15.5h1M27 15.5h1M9 16.5h1M27 16.5h1M42 16.5h1M3 17.5h1M9 17.5h1M16 17.5h1M31 17.5h1M44 17.5h1M19 18.5h2M31 18.5h1M36 18.5h1M3 19.5h1M15 19.5h1M23 19.5h1M31 19.5h1M42 19.5h1M16 20.5h1M15 21.5h1M32 21.5h1M0 22.5h1M6 22.5h1M16 22.5h1M30 22.5h1M39 22.5h1M16 23.5h1M27 23.5h1M15 24.5h1M23 24.5h1M38 24.5h1M40 24.5h1M19 25.5h1M0 26.5h1M12 26.5h1M26 26.5h1M39 26.5h1M15 27.5h1M31 27.5h1M43 27.5h1M18 28.5h1M25 28.5h1M12 29.5h1M6 30.5h1M20 30.5h1M40 30.5h1M22 31.5h1M3 32.5h1M6 32.5h1M12 32.5h1M22 33.5h1M26 33.5h1M34 33.5h1M16 34.5h1M25 34.5h1M8 35.5h1M26 35.5h1M31 35.5h1M34 35.5h1M15 36.5h1M30 36.5h1M0 37.5h1M22 37.5h1M15 38.5h1M30 38.5h1M22 39.5h1M25 39.5h1M1 40.5h1M15 40.5h1M31 41.5h1M4 42.5h1M25 42.5h1M31 42.5h1M40 42.5h1M22 43.5h1M24 44.5h1M40 44.5h1M27 45.5h1M15 46.5h1M18 46.5h1M40 46.5h1M23 47.5h1M36 47.5h1M10 49.5h1M15 49.5h1M26 49.5h1M19 50.5h1M12 51.5h1M15 51.5h1M15 53.5h1M15 54.5h1M0 55.5h1M6 55.5h1M32 56.5h1M36 57.5h1M24 58.5h1M30 58.5h2M43 58.5h1M0 59.5h1M10 59.5h1M26 59.5h1M31 59.5h1M19 60.5h1M23 60.5h1M26 60.5h1M30 60.5h2M12 61.5h1M15 61.5h1M16 62.5h1M26 62.5h1M15 63.5h1M31 63.5h1M42 63.5h1M26 64.5h1M39 64.5h2M0 65.5h1M15 65.5h1M36 65.5h1M38 65.5h1M0 66.5h1M12 66.5h1M31 66.5h1M36 66.5h1M40 66.5h1M4 67.5h1M36 67.5h1M40 67.5h1M20 68.5h1M36 68.5h1M0 70.5h1M13 70.5h1M16 70.5h1M40 70.5h1M0 71.5h1M6 71.5h1M16 71.5h1M40 71.5h1M12 72.5h1M16 72.5h1M26 72.5h1M39 72.5h2M12 73.5h1M15 73.5h2M24 73.5h1M34 74.5h1M28 75.5h1M25 76.5h1"/><path stroke="#fee496" d="M13 1.5h1M15 2.5h1M40 3.5h1M16 5.5h1M40 5.5h1M0 6.5h1M0 8.5h1M10 8.5h1M31 8.5h1M40 8.5h1M16 9.5h1M25 9.5h1M31 9.5h1M10 11.5h1M31 12.5h1M40 12.5h1M6 13.5h1M12 13.5h1M43 13.5h1M15 14.5h1M31 16.5h1M39 19.5h1M40 22.5h1M11 24.5h1M15 25.5h1M40 26.5h1M40 28.5h1M32 29.5h2M13 30.5h1M15 32.5h1M0 35.5h1M42 35.5h1M31 38.5h1M40 39.5h1M3 40.5h1M40 40.5h1M1 41.5h1M26 42.5h1M1 44.5h1M1 46.5h1M0 47.5h1M15 47.5h1M31 48.5h1M40 49.5h1M12 50.5h1M40 50.5h1M3 51.5h1M39 56.5h1M15 57.5h1M31 57.5h1M33 57.5h1M15 58.5h1M13 61.5h1M12 63.5h1M0 64.5h1M36 64.5h1M16 65.5h1M31 68.5h1M1 69.5h1M15 72.5h1M0 76.5h1M15 76.5h1M0 77.5h1M20 77.5h1"/><path stroke="#fee090" d="M43 0.5h1M0 1.5h1M31 3.5h1M0 9.5h1M40 10.5h1M13 11.5h1M12 15.5h1M0 16.5h1M30 25.5h1M15 26.5h1M31 30.5h1M40 34.5h1M43 34.5h1M40 36.5h1M23 37.5h1M22 41.5h1M41 42.5h1M0 43.5h2M38 48.5h1M40 53.5h1M40 55.5h1M0 57.5h1M16 58.5h1M40 58.5h1M15 60.5h1M5 64.5h1M34 65.5h1M40 65.5h1M16 66.5h1M19 66.5h1M15 67.5h1M40 68.5h1M15 70.5h1M15 75.5h1M23 77.5h1"/><path stroke="#fed689" d="M16 1.5h1M40 9.5h1M0 12.5h1M27 35.5h1M36 39.5h1M40 51.5h1M15 77.5h1"/><path stroke="#fecb82" d="M0 3.5h1M0 5.5h1M0 7.5h1M26 7.5h1M15 34.5h1M0 40.5h1M42 46.5h1M0 50.5h1M30 71.5h1"/><path stroke="#fdc17b" d="M0 0.5h1M40 7.5h1M0 38.5h1M0 39.5h1M0 46.5h1M0 49.5h1"/><path stroke="#fdb674" d="M0 4.5h1M0 41.5h1M0 44.5h1M0 45.5h1M40 47.5h1"/><path stroke="#fdac6e" d="M0 11.5h1"/><path stroke="#ee6a46" d="M0 48.5h1"/></g>
<rect x="372.90" y="377.00" width="243.95" height="106.743" fill="#fff2ab"/>
<g transform="translate(372.90 377.00) scale(6.97 2.093)" fill="none" stroke-width="1"><path stroke="#b8d9ea" d="M1 35.5h1"/><path stroke="#e4f4f1" d="M8 22.5h1"/><path stroke="#e8f6ea" d="M6 5.5h1M18 27.5h1M2 28.5h1"/><path stroke="#ecf8e3" d="M3 4.5h1M4 6.5h1M22 15.5h1M22 16.5h1M24 18.5h1M11 30.5h1M6 31.5h1M22 31.5h1M5 33.5h1M3 41.5h1"/><path stroke="#f0f9dc" d="M18 3.5h1M22 10.5h1M22 11.5h1M31 11.5h1M24 16.5h1M27 17.5h1M1 27.5h1M18 32.5h1M28 39.5h1M29 40.5h1M8 49.5h1M11 49.5h1"/><path stroke="#f3fad4" d="M8 2.5h1M34 4.5h1M21 7.5h1M20 9.5h1M22 9.5h1M28 9.5h1M24 10.5h1M18 11.5h1M5 16.5h1M25 16.5h1M30 17.5h1M24 20.5h1M5 21.5h1M18 25.5h1M6 26.5h1M27 27.5h1M18 28.5h1M3 31.5h1M0 32.5h1M18 35.5h1M11 36.5h1M34 36.5h1M3 37.5h1M18 37.5h1M1 38.5h1M11 38.5h1M2 39.5h1M5 39.5h1M30 39.5h1M1 40.5h1M4 40.5h1M29 41.5h1M1 44.5h1M18 44.5h1M33 49.5h1"/><path stroke="#f7fccd" d="M20 0.5h1M2 3.5h1M2 4.5h1M12 4.5h1M28 4.5h2M23 5.5h1M29 7.5h1M8 8.5h1M22 8.5h1M5 11.5h1M12 11.5h1M29 11.5h1M11 12.5h1M15 12.5h1M18 12.5h1M29 12.5h1M34 12.5h1M5 13.5h1M32 13.5h1M26 15.5h1M8 17.5h1M16 17.5h1M30 19.5h1M2 20.5h1M5 20.5h1M8 20.5h1M12 21.5h1M18 24.5h1M24 24.5h1M28 24.5h1M1 26.5h1M11 26.5h1M22 26.5h1M4 27.5h2M11 28.5h1M34 29.5h1M3 30.5h1M1 32.5h1M11 32.5h1M22 32.5h1M2 33.5h1M4 34.5h1M5 36.5h1M27 37.5h1M2 38.5h1M6 38.5h1M1 39.5h1M6 39.5h1M22 39.5h1M20 40.5h1M2 42.5h1M25 43.5h1M4 46.5h1M27 47.5h1"/><path stroke="#fbfec6" d="M24 0.5h1M11 1.5h1M4 3.5h2M8 3.5h1M13 3.5h1M15 4.5h1M19 5.5h1M29 5.5h1M8 6.5h1M18 6.5h1M31 6.5h1M2 7.5h1M18 7.5h1M24 7.5h1M4 8.5h1M18 8.5h1M24 11.5h1M5 12.5h1M8 12.5h1M13 12.5h1M19 12.5h1M28 12.5h1M31 12.5h1M29 13.5h2M18 14.5h1M24 14.5h1M28 14.5h1M2 15.5h2M19 15.5h2M24 15.5h1M33 15.5h1M16 16.5h1M21 16.5h1M10 17.5h1M14 17.5h1M24 17.5h1M12 18.5h1M11 19.5h1M29 19.5h1M9 20.5h1M21 20.5h1M2 21.5h1M25 22.5h1M4 23.5h1M20 23.5h1M1 24.5h1M1 25.5h1M11 25.5h1M21 25.5h2M25 25.5h1M2 26.5h1M24 26.5h1M6 27.5h1M26 28.5h1M2 29.5h1M5 29.5h1M12 29.5h1M12 30.5h1M18 30.5h1M20 30.5h1M5 31.5h1M20 31.5h1M6 33.5h1M13 33.5h1M18 33.5h1M25 33.5h1M34 33.5h1M5 35.5h2M22 35.5h1M6 36.5h1M5 37.5h1M10 37.5h1M4 39.5h1M7 39.5h1M18 39.5h1M20 42.5h1M22 42.5h1M24 42.5h1M18 43.5h1M1 45.5h2M16 45.5h1M29 45.5h1M1 46.5h2M2 47.5h1M2 49.5h1M19 49.5h1M18 50.5h2"/><path stroke="#ffffbf" d="M27 0.5h1M14 1.5h1M0 3.5h1M28 3.5h1M0 4.5h1M13 4.5h1M16 4.5h1M19 4.5h1M31 4.5h1M4 5.5h1M7 5.5h1M21 5.5h2M32 5.5h1M3 7.5h2M12 7.5h1M22 7.5h1M27 7.5h1M3 8.5h1M2 9.5h1M18 9.5h2M3 10.5h1M18 10.5h1M2 11.5h1M4 11.5h1M6 11.5h1M8 11.5h1M21 11.5h1M3 12.5h1M30 12.5h1M32 12.5h1M2 13.5h2M8 13.5h1M16 13.5h1M18 13.5h1M2 14.5h1M8 14.5h1M19 14.5h1M21 14.5h1M6 15.5h1M8 15.5h1M23 15.5h1M29 15.5h1M7 16.5h1M13 16.5h1M18 16.5h1M20 16.5h1M23 16.5h1M6 17.5h1M11 17.5h1M13 17.5h1M23 17.5h1M20 18.5h1M23 18.5h1M29 18.5h1M1 19.5h2M18 19.5h1M22 19.5h1M28 19.5h1M27 20.5h2M34 20.5h1M22 21.5h1M24 22.5h1M26 22.5h1M30 22.5h1M8 23.5h2M30 23.5h1M6 24.5h2M11 24.5h1M22 24.5h1M4 25.5h2M23 25.5h2M5 26.5h1M27 26.5h1M17 27.5h1M26 27.5h1M1 28.5h1M4 28.5h2M10 28.5h1M21 28.5h1M33 28.5h1M4 29.5h1M6 29.5h1M14 29.5h1M8 31.5h1M34 31.5h1M30 32.5h1M4 33.5h1M10 33.5h1M3 35.5h1M8 35.5h1M15 35.5h1M2 36.5h1M20 36.5h1M28 36.5h1M2 37.5h1M12 37.5h1M28 37.5h1M0 38.5h1M5 38.5h1M20 38.5h1M10 39.5h1M19 39.5h2M25 39.5h1M32 39.5h1M2 40.5h1M6 40.5h1M8 40.5h1M18 40.5h1M34 40.5h1M3 42.5h1M6 42.5h1M26 42.5h2M4 43.5h1M19 43.5h1M22 44.5h1M28 44.5h1M5 46.5h1M11 46.5h2M17 46.5h1M29 46.5h1M4 47.5h1M25 47.5h1M9 49.5h1M18 49.5h1M3 50.5h1M15 50.5h1M21 50.5h1"/><path stroke="#fffbb9" d="M5 0.5h1M18 0.5h1M28 0.5h2M33 0.5h1M1 1.5h1M7 1.5h2M19 1.5h1M30 1.5h1M32 1.5h1M18 2.5h1M27 2.5h1M1 3.5h1M5 4.5h1M7 4.5h2M22 4.5h1M27 4.5h1M3 5.5h1M24 5.5h1M28 5.5h1M30 5.5h1M24 6.5h1M27 6.5h1M17 7.5h1M2 8.5h1M7 8.5h1M16 8.5h1M33 8.5h1M1 9.5h1M5 9.5h2M6 10.5h1M25 10.5h1M28 10.5h1M30 10.5h1M1 11.5h1M10 11.5h2M14 11.5h1M25 11.5h2M30 11.5h1M2 12.5h1M11 13.5h1M19 13.5h1M22 13.5h2M25 13.5h2M14 14.5h1M22 14.5h1M25 14.5h1M30 14.5h1M4 15.5h1M10 15.5h1M12 15.5h1M25 15.5h1M27 15.5h1M10 16.5h1M26 16.5h1M29 16.5h1M25 17.5h2M29 17.5h1M18 18.5h1M25 18.5h2M8 19.5h1M13 19.5h1M23 19.5h1M25 19.5h1M10 20.5h1M12 20.5h1M23 20.5h1M26 20.5h1M29 20.5h2M28 21.5h1M5 22.5h1M15 22.5h1M18 22.5h1M20 22.5h1M23 22.5h1M1 23.5h1M3 23.5h1M7 23.5h1M13 23.5h1M18 23.5h1M22 23.5h1M2 24.5h2M10 24.5h1M12 24.5h1M20 24.5h1M23 24.5h1M30 24.5h1M2 25.5h1M28 25.5h1M0 26.5h1M12 26.5h1M18 26.5h1M28 26.5h1M3 27.5h1M12 27.5h1M22 27.5h1M24 27.5h1M28 27.5h1M22 28.5h2M25 28.5h1M27 28.5h1M8 29.5h1M15 29.5h1M18 29.5h1M2 30.5h1M5 30.5h1M15 30.5h1M24 30.5h1M10 31.5h2M29 31.5h1M4 32.5h1M8 32.5h1M15 32.5h2M20 32.5h1M28 32.5h1M3 33.5h1M9 33.5h1M11 33.5h1M22 33.5h1M26 33.5h1M18 34.5h1M24 34.5h1M10 35.5h1M20 35.5h1M1 36.5h1M12 36.5h1M14 36.5h1M6 37.5h1M16 37.5h1M9 38.5h1M28 38.5h1M9 39.5h1M11 39.5h1M17 39.5h1M29 39.5h1M5 40.5h1M7 40.5h1M12 40.5h1M19 40.5h1M2 41.5h1M4 41.5h2M16 41.5h1M18 41.5h1M20 41.5h1M27 41.5h1M1 42.5h1M8 42.5h1M10 42.5h1M18 42.5h1M28 42.5h1M2 43.5h1M8 43.5h1M11 43.5h1M29 43.5h1M7 44.5h2M12 44.5h1M25 44.5h1M15 45.5h1M18 45.5h1M30 45.5h1M3 46.5h1M6 46.5h1M9 46.5h1M14 46.5h1M16 46.5h1M34 46.5h1M13 47.5h1M15 47.5h1M28 47.5h1M8 48.5h1M12 48.5h1M13 49.5h1M22 49.5h1M2 50.5h1M4 50.5h1M6 50.5h1M10 50.5h1M31 50.5h1M33 50.5h1"/><path stroke="#fff7b3" d="M3 0.5h1M12 0.5h1M15 0.5h2M31 0.5h2M4 1.5h1M10 1.5h1M15 1.5h1M29 1.5h1M2 2.5h1M4 2.5h2M32 2.5h1M12 3.5h1M15 3.5h1M22 3.5h1M25 3.5h1M6 4.5h1M21 4.5h1M25 4.5h2M1 5.5h2M9 5.5h1M17 5.5h2M25 5.5h3M9 6.5h2M17 6.5h1M21 6.5h1M29 6.5h1M5 7.5h1M8 7.5h1M11 7.5h1M19 7.5h1M25 7.5h2M28 7.5h1M34 7.5h1M19 8.5h1M3 9.5h1M8 9.5h2M29 9.5h1M31 9.5h1M8 10.5h1M20 10.5h1M26 10.5h2M29 10.5h1M31 10.5h1M33 10.5h1M0 11.5h1M3 11.5h1M16 11.5h1M28 11.5h1M32 11.5h1M34 11.5h1M21 12.5h1M25 12.5h1M28 13.5h1M31 13.5h1M33 13.5h1M7 14.5h1M11 14.5h2M13 15.5h1M15 15.5h2M18 15.5h1M30 15.5h1M2 16.5h1M11 16.5h1M28 16.5h1M7 17.5h1M15 17.5h1M33 17.5h1M22 18.5h1M6 19.5h2M12 19.5h1M24 19.5h1M1 20.5h1M6 20.5h1M13 20.5h1M16 20.5h1M32 20.5h1M21 21.5h1M23 21.5h1M27 21.5h1M34 21.5h1M6 22.5h1M16 22.5h1M28 22.5h1M32 22.5h1M2 23.5h1M12 23.5h1M26 23.5h2M33 23.5h2M8 24.5h1M15 24.5h1M25 24.5h1M34 24.5h1M3 25.5h1M8 25.5h1M10 25.5h1M15 25.5h1M3 26.5h2M7 26.5h1M9 26.5h1M17 26.5h1M19 26.5h1M2 27.5h1M7 27.5h1M9 27.5h1M20 27.5h1M6 28.5h2M9 28.5h1M15 28.5h1M24 28.5h1M1 29.5h1M19 29.5h1M30 29.5h2M1 30.5h1M7 30.5h1M22 30.5h1M15 31.5h1M3 32.5h1M10 32.5h1M12 32.5h2M24 32.5h1M34 32.5h1M12 33.5h1M20 33.5h1M1 34.5h1M3 34.5h1M6 34.5h1M26 34.5h1M4 35.5h1M7 35.5h1M24 35.5h1M8 36.5h1M16 36.5h2M1 37.5h1M8 37.5h2M11 37.5h1M15 37.5h1M20 37.5h1M29 37.5h1M34 37.5h1M4 38.5h1M13 38.5h1M16 38.5h4M24 38.5h1M29 38.5h1M0 39.5h1M12 39.5h1M15 39.5h1M21 39.5h1M33 39.5h2M9 40.5h1M13 40.5h2M24 40.5h1M27 40.5h1M32 40.5h1M10 41.5h1M15 41.5h1M24 41.5h1M26 41.5h1M30 41.5h1M33 41.5h1M5 42.5h1M9 42.5h1M15 42.5h1M19 42.5h1M33 42.5h1M1 43.5h1M6 43.5h1M9 43.5h1M12 43.5h1M22 43.5h1M31 43.5h1M2 44.5h1M5 44.5h2M23 44.5h1M30 44.5h2M10 45.5h2M19 45.5h1M22 45.5h1M7 46.5h2M18 46.5h1M28 46.5h1M8 47.5h1M14 47.5h1M24 47.5h1M31 47.5h1M4 48.5h1M7 48.5h1M14 48.5h2M27 48.5h3M7 49.5h1M12 49.5h1M20 49.5h1M28 49.5h3M0 50.5h2M25 50.5h1M28 50.5h1"/><path stroke="#fff3ad" d="M4 0.5h1M6 0.5h1M8 0.5h1M10 0.5h1M13 0.5h2M30 0.5h1M5 1.5h2M9 1.5h1M20 1.5h1M22 1.5h1M24 1.5h1M28 1.5h1M12 2.5h1M15 2.5h1M22 2.5h1M29 2.5h1M9 3.5h1M14 3.5h1M17 3.5h1M19 3.5h2M30 3.5h4M4 4.5h1M9 4.5h1M17 4.5h1M24 4.5h1M30 4.5h1M33 4.5h1M5 5.5h1M31 5.5h1M33 5.5h1M0 6.5h2M5 6.5h1M11 6.5h2M26 6.5h1M28 6.5h1M1 7.5h1M9 7.5h1M15 7.5h1M20 7.5h1M23 7.5h1M30 7.5h1M33 7.5h1M0 8.5h1M5 8.5h1M12 8.5h1M23 8.5h1M25 8.5h3M29 8.5h2M13 9.5h1M25 9.5h1M27 9.5h1M1 10.5h1M5 10.5h1M9 10.5h1M11 10.5h1M19 10.5h1M19 11.5h1M33 11.5h1M4 12.5h1M20 12.5h1M22 12.5h1M24 12.5h1M1 13.5h1M9 13.5h2M24 13.5h1M34 13.5h1M3 14.5h1M5 14.5h1M15 14.5h1M27 14.5h1M29 14.5h1M9 15.5h1M11 15.5h1M34 15.5h1M6 16.5h1M12 16.5h1M27 16.5h1M30 16.5h1M32 16.5h1M9 17.5h1M18 17.5h1M28 17.5h1M11 18.5h1M27 18.5h1M31 18.5h2M4 19.5h1M26 19.5h1M3 20.5h2M7 20.5h1M14 20.5h1M17 20.5h3M22 20.5h1M25 20.5h1M7 21.5h1M20 21.5h1M25 21.5h1M30 21.5h1M32 21.5h1M1 22.5h4M10 22.5h2M13 22.5h1M19 22.5h1M21 22.5h2M33 22.5h1M5 23.5h1M11 23.5h1M14 23.5h1M21 23.5h1M28 23.5h1M5 24.5h1M9 24.5h1M19 24.5h1M26 24.5h1M31 24.5h2M30 25.5h1M34 25.5h1M15 26.5h2M21 26.5h1M26 26.5h1M29 26.5h1M11 27.5h1M30 27.5h1M34 27.5h1M0 28.5h1M14 28.5h1M28 28.5h1M34 28.5h1M3 29.5h1M26 29.5h1M6 30.5h1M29 30.5h1M14 31.5h1M17 31.5h1M28 31.5h1M30 31.5h1M32 31.5h1M5 32.5h1M7 32.5h1M25 32.5h1M29 32.5h1M0 33.5h2M8 33.5h1M14 33.5h2M24 33.5h1M29 33.5h1M2 34.5h1M28 34.5h1M34 34.5h1M9 35.5h1M12 35.5h1M16 35.5h2M19 35.5h1M21 35.5h1M27 35.5h1M3 36.5h2M9 36.5h2M15 36.5h1M18 36.5h1M21 36.5h1M24 36.5h1M0 37.5h1M24 37.5h1M26 37.5h1M30 37.5h1M3 38.5h1M10 38.5h1M12 38.5h1M23 39.5h1M26 39.5h2M0 40.5h1M3 40.5h1M11 40.5h1M16 40.5h1M21 40.5h1M7 41.5h1M12 41.5h1M25 41.5h1M28 41.5h1M34 41.5h1M0 42.5h1M4 42.5h1M11 42.5h1M16 42.5h1M30 42.5h1M32 42.5h1M0 43.5h1M5 43.5h1M16 43.5h1M20 43.5h1M26 43.5h3M4 44.5h1M11 44.5h1M27 44.5h1M29 44.5h1M33 44.5h1M12 45.5h1M24 45.5h2M28 45.5h1M20 46.5h1M24 46.5h1M27 46.5h1M30 46.5h1M1 47.5h1M5 47.5h1M10 47.5h2M18 47.5h3M22 47.5h2M32 47.5h2M0 48.5h2M10 48.5h2M17 48.5h1M30 48.5h1M32 48.5h1M0 49.5h1M5 49.5h1M15 49.5h1M34 49.5h1M5 50.5h1M7 50.5h2M11 50.5h1M20 50.5h1M22 50.5h1M24 50.5h1M32 50.5h1"/><path stroke="#fef0a8" d="M7 0.5h1M17 0.5h1M34 0.5h1M2 1.5h1M26 1.5h2M1 2.5h1M6 2.5h1M10 2.5h1M19 2.5h1M28 2.5h1M30 2.5h1M34 2.5h1M7 3.5h1M21 3.5h1M24 3.5h1M18 4.5h1M32 4.5h1M0 5.5h1M8 5.5h1M20 5.5h1M13 6.5h2M16 6.5h1M20 6.5h1M30 6.5h1M0 7.5h1M7 7.5h1M10 8.5h1M17 8.5h1M28 8.5h1M0 9.5h1M10 9.5h3M26 9.5h1M32 9.5h1M2 10.5h1M15 10.5h1M13 11.5h1M20 11.5h1M23 11.5h1M0 12.5h1M7 12.5h1M12 12.5h1M14 12.5h1M26 12.5h1M7 13.5h1M13 13.5h1M15 13.5h1M6 14.5h1M10 14.5h1M13 14.5h1M26 14.5h1M32 14.5h1M5 15.5h1M28 15.5h1M8 16.5h2M17 16.5h1M34 16.5h1M2 17.5h1M4 17.5h2M12 17.5h1M21 17.5h2M32 17.5h1M0 18.5h1M2 18.5h1M5 18.5h2M8 18.5h1M10 18.5h1M14 18.5h1M16 18.5h1M28 18.5h1M5 19.5h1M9 19.5h1M15 19.5h1M21 19.5h1M15 20.5h1M20 20.5h1M1 21.5h1M3 21.5h2M6 21.5h1M14 21.5h3M19 21.5h1M24 21.5h1M0 22.5h1M7 22.5h1M12 22.5h1M14 22.5h1M29 22.5h1M6 23.5h1M15 23.5h1M19 23.5h1M29 23.5h1M32 23.5h1M0 24.5h1M13 24.5h2M17 24.5h1M29 24.5h1M33 24.5h1M6 25.5h2M17 25.5h1M10 26.5h1M14 26.5h1M20 26.5h1M25 26.5h1M30 26.5h1M34 26.5h1M0 27.5h1M13 27.5h1M19 27.5h1M25 27.5h1M29 27.5h1M3 28.5h1M8 28.5h1M12 28.5h1M29 28.5h2M7 29.5h1M11 29.5h1M13 29.5h1M16 29.5h2M22 29.5h1M4 30.5h1M8 30.5h1M10 30.5h1M16 30.5h1M32 30.5h2M1 31.5h1M4 31.5h1M9 31.5h1M18 31.5h1M25 31.5h2M2 32.5h1M6 32.5h1M14 32.5h1M21 32.5h1M26 32.5h1M7 33.5h1M16 33.5h1M30 33.5h1M32 33.5h1M0 34.5h1M8 34.5h5M15 34.5h2M11 35.5h1M13 35.5h1M26 35.5h1M28 35.5h1M13 36.5h1M31 36.5h2M4 37.5h1M7 37.5h1M32 37.5h1M8 38.5h1M15 38.5h1M22 38.5h1M25 38.5h1M14 39.5h1M16 39.5h1M31 39.5h1M10 40.5h1M22 40.5h1M26 40.5h1M28 40.5h1M21 42.5h1M31 42.5h1M7 43.5h1M14 43.5h2M32 43.5h1M0 44.5h1M13 44.5h1M15 44.5h3M19 44.5h2M24 44.5h1M8 45.5h1M34 45.5h1M13 46.5h1M15 46.5h1M22 46.5h1M31 46.5h2M6 47.5h2M12 47.5h1M17 47.5h1M26 47.5h1M2 48.5h1M5 48.5h2M18 48.5h3M22 48.5h1M26 48.5h1M1 49.5h1M6 49.5h1M10 49.5h1M25 49.5h1M12 50.5h3M17 50.5h1M27 50.5h1M30 50.5h1M34 50.5h1"/><path stroke="#feeca2" d="M0 0.5h1M2 0.5h1M11 0.5h1M23 0.5h1M26 0.5h1M0 1.5h1M3 1.5h1M12 1.5h1M16 1.5h1M18 1.5h1M31 1.5h1M3 2.5h1M14 2.5h1M17 2.5h1M24 2.5h2M3 3.5h1M6 3.5h1M10 3.5h2M29 3.5h1M1 4.5h1M20 4.5h1M10 5.5h1M12 5.5h4M34 5.5h1M2 6.5h1M25 6.5h1M32 6.5h1M6 7.5h1M32 7.5h1M9 8.5h1M11 8.5h1M14 8.5h2M20 8.5h2M32 8.5h1M4 9.5h1M7 9.5h1M15 9.5h1M23 9.5h1M30 9.5h1M34 9.5h1M10 10.5h1M12 10.5h2M17 10.5h1M17 11.5h1M27 11.5h1M1 12.5h1M9 12.5h1M27 12.5h1M33 12.5h1M0 13.5h1M4 13.5h1M14 13.5h1M16 14.5h1M20 14.5h1M31 14.5h1M33 14.5h1M21 15.5h1M0 16.5h1M3 16.5h2M15 16.5h1M19 16.5h1M3 17.5h1M20 17.5h1M3 18.5h2M7 18.5h1M15 18.5h1M21 18.5h1M30 18.5h1M27 19.5h1M33 19.5h2M31 20.5h1M8 21.5h1M18 21.5h1M29 21.5h1M17 22.5h1M10 23.5h1M17 23.5h1M24 23.5h2M31 23.5h1M0 25.5h1M12 25.5h2M19 25.5h1M29 25.5h1M10 27.5h1M14 27.5h3M16 28.5h2M32 28.5h1M20 29.5h2M24 29.5h2M28 29.5h1M0 30.5h1M9 30.5h1M23 30.5h1M27 30.5h2M34 30.5h1M2 31.5h1M12 31.5h2M23 31.5h1M19 32.5h1M23 32.5h1M19 33.5h1M21 33.5h1M27 33.5h2M5 34.5h1M13 34.5h2M21 34.5h1M29 34.5h2M0 35.5h1M2 35.5h1M23 35.5h1M32 35.5h1M34 35.5h1M7 36.5h1M19 37.5h1M31 37.5h1M14 38.5h1M21 38.5h1M30 38.5h1M34 38.5h1M8 39.5h1M13 39.5h1M24 39.5h1M15 40.5h1M25 40.5h1M30 40.5h1M1 41.5h1M6 41.5h1M14 41.5h1M7 42.5h1M12 42.5h2M34 42.5h1M3 43.5h1M13 43.5h1M17 43.5h1M21 43.5h1M0 45.5h1M3 45.5h1M6 45.5h1M17 45.5h1M33 45.5h1M10 46.5h1M23 46.5h1M9 47.5h1M29 47.5h2M24 48.5h2M34 48.5h1M3 49.5h1M14 49.5h1M16 49.5h1M32 49.5h1M9 50.5h1M16 50.5h1M29 50.5h1"/><path stroke="#fee89c" d="M1 0.5h1M19 0.5h1M17 1.5h1M21 1.5h1M33 1.5h2M11 2.5h1M20 2.5h2M26 2.5h1M16 3.5h1M11 4.5h1M14 4.5h1M11 5.5h1M3 6.5h1M22 6.5h1M33 6.5h1M16 7.5h1M31 7.5h1M24 8.5h1M34 8.5h1M17 9.5h1M33 9.5h1M4 10.5h1M21 10.5h1M34 10.5h1M15 11.5h1M23 12.5h1M6 13.5h1M12 13.5h1M20 13.5h2M27 13.5h1M23 14.5h1M1 15.5h1M17 15.5h1M31 15.5h1M1 17.5h1M19 17.5h1M31 17.5h1M34 17.5h1M1 18.5h1M13 18.5h1M19 18.5h1M3 19.5h1M14 19.5h1M19 19.5h2M11 20.5h1M9 21.5h1M11 21.5h1M9 22.5h1M27 22.5h1M31 22.5h1M34 22.5h1M23 23.5h1M21 24.5h1M9 25.5h1M20 25.5h1M13 26.5h1M8 27.5h1M23 27.5h1M31 27.5h1M33 27.5h1M19 28.5h2M9 29.5h1M13 30.5h2M17 30.5h1M19 30.5h1M25 30.5h1M31 30.5h1M0 31.5h1M24 31.5h1M31 31.5h1M33 31.5h1M9 32.5h1M17 32.5h1M33 33.5h1M19 34.5h2M22 34.5h1M25 34.5h1M32 34.5h1M14 35.5h1M25 35.5h1M29 35.5h2M23 36.5h1M25 36.5h1M27 36.5h1M30 36.5h1M14 37.5h1M17 37.5h1M21 37.5h3M25 37.5h1M7 38.5h1M23 38.5h1M32 38.5h2M3 39.5h1M17 40.5h1M23 40.5h1M31 40.5h1M0 41.5h1M8 41.5h2M17 41.5h1M22 41.5h1M31 41.5h1M14 42.5h1M17 42.5h1M23 42.5h1M29 42.5h1M10 43.5h1M24 43.5h1M30 43.5h1M3 44.5h1M21 44.5h1M34 44.5h1M5 45.5h1M7 45.5h1M27 45.5h1M19 46.5h1M25 46.5h1M33 46.5h1M0 47.5h1M3 47.5h1M16 47.5h1M21 47.5h1M34 47.5h1M3 48.5h1M23 48.5h1M31 48.5h1M23 49.5h2M27 49.5h1M23 50.5h1M26 50.5h1"/><path stroke="#fee496" d="M9 0.5h1M22 0.5h1M25 0.5h1M13 1.5h1M23 1.5h1M25 1.5h1M16 2.5h1M23 2.5h1M31 2.5h1M34 3.5h1M23 4.5h1M7 6.5h1M15 6.5h1M19 6.5h1M23 6.5h1M10 7.5h1M13 7.5h2M21 9.5h1M0 10.5h1M14 10.5h1M23 10.5h1M32 10.5h1M9 11.5h1M10 12.5h1M16 12.5h2M0 14.5h2M4 14.5h1M34 14.5h1M0 15.5h1M31 16.5h1M0 17.5h1M17 17.5h1M17 18.5h1M33 18.5h1M10 19.5h1M16 19.5h2M31 19.5h2M33 20.5h1M13 21.5h1M33 21.5h1M0 23.5h1M16 23.5h1M4 24.5h1M16 24.5h1M16 25.5h1M27 25.5h1M31 25.5h1M23 26.5h1M32 26.5h1M21 27.5h1M13 28.5h1M0 29.5h1M10 29.5h1M27 29.5h1M29 29.5h1M32 29.5h2M21 30.5h1M26 30.5h1M7 31.5h1M16 31.5h1M19 31.5h1M31 32.5h1M23 34.5h1M31 34.5h1M31 35.5h1M33 35.5h1M22 36.5h1M26 36.5h1M29 36.5h1M33 36.5h1M26 38.5h1M13 41.5h1M19 41.5h1M25 42.5h1M9 44.5h1M14 44.5h1M32 44.5h1M4 45.5h1M9 45.5h1M13 45.5h1M23 45.5h1M31 45.5h1M0 46.5h1M26 46.5h1M9 48.5h1M13 48.5h1M16 48.5h1M17 49.5h1M26 49.5h1M31 49.5h1"/><path stroke="#fee090" d="M7 2.5h1M9 2.5h1M33 2.5h1M23 3.5h1M26 3.5h2M10 4.5h1M6 6.5h1M1 8.5h1M6 8.5h1M13 8.5h1M16 9.5h1M7 10.5h1M16 10.5h1M7 11.5h1M6 12.5h1M9 14.5h1M14 15.5h1M32 15.5h1M1 16.5h1M14 16.5h1M33 16.5h1M9 18.5h1M34 18.5h1M0 21.5h1M10 21.5h1M26 21.5h1M31 21.5h1M27 24.5h1M33 25.5h1M8 26.5h1M32 27.5h1M30 30.5h1M21 31.5h1M27 31.5h1M27 32.5h1M32 32.5h2M17 33.5h1M17 34.5h1M27 34.5h1M33 34.5h1M19 36.5h1M27 38.5h1M31 38.5h1M33 40.5h1M23 43.5h1M34 43.5h1M20 45.5h2M26 45.5h1M32 45.5h1M21 48.5h1"/><path stroke="#fed689" d="M21 0.5h1M0 2.5h1M13 2.5h1M34 6.5h1M31 8.5h1M17 14.5h1M7 15.5h1M0 20.5h1M26 25.5h1M31 28.5h1M23 33.5h1M31 33.5h1M0 36.5h1M13 37.5h1M33 37.5h1M11 41.5h1M33 43.5h1M10 44.5h1M14 45.5h1M33 48.5h1M4 49.5h1M21 49.5h1"/><path stroke="#fecb82" d="M24 9.5h1M0 19.5h1M17 21.5h1M14 25.5h1M32 25.5h1M33 26.5h1M23 29.5h1M7 34.5h1M21 41.5h1M32 41.5h1M26 44.5h1M21 46.5h1"/><path stroke="#fdc17b" d="M16 5.5h1M14 9.5h1"/><path stroke="#fdb674" d="M17 13.5h1M31 26.5h1"/><path stroke="#fdac6e" d="M23 41.5h1"/></g>
<rect x="372.90" y="487.10" width="243.95" height="163.254" fill="#f9fdca"/>
<g transform="translate(372.90 487.10) scale(6.97 2.093)" fill="none" stroke-width="1"><path stroke="#5888be" d="M20 51.5h1"/><path stroke="#6291c3" d="M0 59.5h1"/><path stroke="#7eacd1" d="M23 11.5h1M32 50.5h1"/><path stroke="#91bfdb" d="M21 26.5h1M15 66.5h1"/><path stroke="#9bc6df" d="M33 59.5h1M23 61.5h1M32 71.5h1"/><path stroke="#a5cce2" d="M26 9.5h1M3 29.5h1M16 73.5h1"/><path stroke="#afd2e6" d="M7 3.5h1M22 40.5h1"/><path stroke="#b8d9ea" d="M30 5.5h1M13 13.5h1M8 32.5h1M30 45.5h1M30 56.5h1M11 64.5h1M17 72.5h1"/><path stroke="#c2e0ed" d="M29 3.5h2M32 9.5h1M13 30.5h1M30 30.5h1M24 48.5h1M17 52.5h1M1 61.5h1M31 65.5h1M23 73.5h1"/><path stroke="#cce6f1" d="M23 1.5h1M29 8.5h1M22 12.5h1M29 14.5h1M31 17.5h1M24 19.5h1M13 22.5h1M23 26.5h1M31 30.5h1M23 31.5h1M10 33.5h1M28 39.5h1M10 42.5h1M26 43.5h1M16 50.5h1M25 51.5h1M6 58.5h1M29 59.5h1M12 63.5h1M21 70.5h1"/><path stroke="#d6ecf4" d="M17 2.5h1M28 2.5h1M12 3.5h1M31 3.5h1M29 5.5h1M23 8.5h1M29 11.5h1M28 15.5h1M31 15.5h1M30 16.5h1M10 17.5h1M32 18.5h1M20 19.5h1M20 20.5h1M31 21.5h1M29 22.5h1M7 29.5h1M18 31.5h1M23 35.5h1M27 35.5h1M17 37.5h1M20 37.5h1M26 40.5h1M30 42.5h1M29 43.5h1M22 44.5h1M20 50.5h1M28 50.5h1M26 51.5h1M34 52.5h1M33 62.5h1M13 64.5h1M23 64.5h1M20 67.5h1M16 76.5h1M24 76.5h1M26 76.5h1"/><path stroke="#e0f3f8" d="M26 1.5h1M31 7.5h1M30 9.5h1M17 10.5h1M24 11.5h1M31 11.5h1M27 12.5h1M29 13.5h1M20 14.5h1M24 14.5h1M27 14.5h1M31 14.5h1M26 15.5h1M29 16.5h1M34 16.5h1M29 17.5h2M31 19.5h1M21 20.5h1M30 20.5h1M14 22.5h1M29 23.5h1M17 24.5h1M5 27.5h1M24 27.5h1M34 27.5h1M24 28.5h1M29 29.5h1M30 32.5h1M30 33.5h1M7 34.5h1M31 34.5h1M33 34.5h1M24 35.5h1M28 35.5h1M31 35.5h1M24 36.5h1M31 37.5h1M34 40.5h1M29 42.5h1M6 43.5h1M30 44.5h1M1 46.5h1M29 46.5h1M32 47.5h1M28 49.5h1M25 50.5h1M30 50.5h1M5 51.5h1M34 51.5h1M10 55.5h1M34 55.5h1M24 58.5h1M28 59.5h1M27 62.5h1M29 62.5h1M29 63.5h1M34 65.5h1M16 67.5h1M0 68.5h1M14 68.5h1M23 68.5h1M31 71.5h1M26 72.5h1M28 72.5h1M34 73.5h1M29 76.5h1M32 77.5h1"/><path stroke="#e4f4f1" d="M21 0.5h1M26 0.5h1M33 0.5h1M5 1.5h1M13 1.5h1M22 1.5h1M13 2.5h1M25 2.5h1M21 3.5h1M7 4.5h1M24 4.5h1M32 4.5h1M27 5.5h1M31 5.5h1M31 6.5h1M10 7.5h1M31 8.5h1M23 9.5h1M31 9.5h1M0 10.5h1M30 10.5h1M17 12.5h1M17 13.5h1M20 13.5h1M34 13.5h1M14 14.5h1M28 14.5h1M30 14.5h1M17 15.5h1M20 15.5h1M1 17.5h1M26 18.5h1M10 19.5h1M12 19.5h1M27 19.5h1M26 20.5h1M10 21.5h1M26 21.5h2M10 22.5h1M26 22.5h1M20 23.5h1M28 23.5h1M24 26.5h1M27 26.5h1M32 27.5h1M19 28.5h1M29 28.5h1M22 29.5h1M15 31.5h1M27 31.5h1M29 31.5h1M19 32.5h1M23 32.5h1M29 32.5h1M33 33.5h1M34 34.5h1M5 35.5h1M12 35.5h1M30 35.5h1M19 36.5h1M27 37.5h1M24 38.5h1M27 39.5h1M31 39.5h1M29 40.5h1M31 40.5h1M23 41.5h1M27 41.5h1M26 42.5h1M16 43.5h1M32 43.5h2M24 44.5h1M10 45.5h1M14 45.5h1M20 46.5h1M24 47.5h1M15 48.5h1M27 48.5h1M33 49.5h1M8 50.5h1M14 50.5h1M34 50.5h1M8 54.5h1M5 55.5h1M10 57.5h1M27 57.5h1M34 58.5h1M32 59.5h1M19 60.5h1M15 61.5h1M27 61.5h1M20 62.5h1M24 62.5h1M26 62.5h1M28 65.5h1M22 66.5h1M23 67.5h2M19 71.5h1M23 71.5h3M33 71.5h2M13 72.5h1M18 72.5h1M10 73.5h1M30 74.5h1M26 75.5h1M27 76.5h1M34 76.5h1M20 77.5h1"/><path stroke="#e8f6ea" d="M20 0.5h1M34 0.5h1M19 1.5h2M31 1.5h1M20 2.5h1M31 2.5h1M9 3.5h1M33 4.5h1M10 6.5h1M15 6.5h1M13 7.5h1M22 7.5h1M29 7.5h1M27 8.5h1M16 10.5h1M26 10.5h1M31 10.5h1M20 11.5h1M22 11.5h1M26 11.5h1M30 11.5h1M32 11.5h1M23 12.5h3M30 12.5h1M32 12.5h1M22 13.5h1M26 13.5h1M31 13.5h1M13 14.5h1M17 14.5h1M22 14.5h1M32 14.5h1M34 14.5h1M10 15.5h1M24 15.5h1M34 15.5h1M1 16.5h1M8 16.5h1M26 16.5h1M20 17.5h1M34 17.5h1M34 18.5h1M3 19.5h1M28 19.5h1M30 19.5h1M25 20.5h1M31 20.5h1M24 21.5h1M33 21.5h2M1 22.5h1M20 22.5h1M27 22.5h1M31 23.5h1M13 24.5h1M29 24.5h1M14 25.5h1M24 25.5h1M27 25.5h1M30 25.5h1M16 26.5h1M20 26.5h1M29 26.5h1M29 27.5h1M31 27.5h1M33 27.5h1M8 28.5h1M31 28.5h1M14 29.5h1M27 29.5h1M31 29.5h1M18 30.5h1M21 31.5h1M31 32.5h1M33 32.5h1M8 33.5h1M15 33.5h1M27 34.5h1M29 34.5h1M22 35.5h1M22 36.5h2M7 37.5h1M10 37.5h1M19 37.5h1M34 37.5h1M21 38.5h1M27 38.5h1M29 38.5h1M19 40.5h1M22 41.5h1M24 41.5h1M22 42.5h1M27 43.5h1M31 43.5h1M34 43.5h1M20 44.5h1M23 44.5h1M20 45.5h1M26 45.5h1M31 46.5h1M34 46.5h1M16 47.5h2M26 47.5h1M29 48.5h1M31 49.5h1M15 50.5h1M24 50.5h1M22 51.5h1M26 52.5h2M7 53.5h1M12 53.5h1M21 53.5h1M23 53.5h2M29 53.5h2M23 54.5h2M29 54.5h1M34 54.5h1M0 55.5h1M32 55.5h1M7 56.5h1M20 56.5h1M31 57.5h1M13 59.5h1M27 59.5h1M20 60.5h1M24 60.5h1M27 60.5h1M32 60.5h1M7 61.5h1M20 61.5h1M30 61.5h1M34 61.5h1M21 62.5h1M25 62.5h1M34 62.5h1M24 63.5h1M27 63.5h1M15 64.5h1M26 64.5h1M31 64.5h2M24 65.5h1M26 66.5h4M27 68.5h1M12 69.5h1M17 69.5h1M23 69.5h1M8 70.5h1M23 70.5h1M10 71.5h1M13 71.5h1M20 71.5h1M7 72.5h1M20 72.5h1M3 73.5h1M22 73.5h1M10 74.5h1M15 74.5h1M28 74.5h1M34 74.5h1M27 75.5h1M31 76.5h1M34 77.5h1"/><path stroke="#ecf8e3" d="M25 0.5h1M11 1.5h2M27 1.5h1M15 2.5h1M22 2.5h1M24 2.5h1M34 2.5h1M26 3.5h2M8 4.5h1M26 4.5h1M34 4.5h1M9 5.5h1M15 5.5h1M22 5.5h1M24 5.5h2M23 6.5h2M27 6.5h1M29 6.5h1M33 6.5h1M6 7.5h1M18 7.5h1M21 7.5h1M27 7.5h1M20 8.5h2M15 9.5h1M28 9.5h1M29 10.5h1M34 10.5h1M7 11.5h1M28 11.5h1M34 11.5h1M19 12.5h3M34 12.5h1M10 13.5h1M27 13.5h1M33 13.5h1M10 14.5h2M5 15.5h1M7 15.5h2M11 15.5h2M16 15.5h1M27 15.5h1M29 15.5h2M20 16.5h1M21 17.5h1M11 18.5h1M20 18.5h1M24 18.5h1M31 18.5h1M17 19.5h1M22 19.5h2M33 19.5h1M16 20.5h1M24 20.5h1M34 20.5h1M20 21.5h1M32 21.5h1M23 22.5h2M34 22.5h1M3 23.5h1M12 23.5h1M22 24.5h1M30 24.5h1M32 24.5h1M8 25.5h1M18 25.5h1M21 25.5h1M26 25.5h1M29 25.5h1M22 26.5h1M26 26.5h1M30 26.5h1M8 27.5h1M13 27.5h1M22 27.5h1M27 27.5h1M30 27.5h1M21 28.5h2M34 28.5h1M21 29.5h1M25 29.5h1M22 30.5h1M26 30.5h2M32 30.5h1M13 31.5h1M20 31.5h1M24 31.5h1M26 31.5h1M28 31.5h1M24 32.5h1M28 32.5h1M34 32.5h1M16 33.5h1M18 33.5h1M22 33.5h1M24 33.5h1M27 33.5h2M31 33.5h1M1 34.5h1M26 34.5h1M28 34.5h1M30 34.5h1M32 34.5h1M20 35.5h1M29 35.5h1M8 36.5h1M17 36.5h1M29 36.5h1M22 37.5h1M26 37.5h1M28 37.5h1M17 38.5h1M26 38.5h1M7 39.5h1M12 39.5h1M25 39.5h1M30 39.5h1M21 40.5h1M24 40.5h2M8 41.5h1M10 41.5h1M17 41.5h1M16 42.5h1M20 42.5h1M27 42.5h1M24 43.5h2M16 44.5h1M18 44.5h1M21 44.5h1M29 44.5h1M19 45.5h1M24 45.5h1M10 46.5h1M20 47.5h2M27 47.5h1M29 47.5h1M31 47.5h1M33 47.5h1M33 48.5h2M10 49.5h1M16 49.5h1M19 49.5h1M22 49.5h1M27 49.5h1M23 50.5h1M26 50.5h1M16 51.5h2M27 51.5h1M19 52.5h1M28 52.5h2M31 52.5h1M26 53.5h1M31 53.5h1M15 54.5h1M21 54.5h1M32 54.5h1M17 55.5h1M28 55.5h1M18 56.5h1M22 56.5h1M28 56.5h1M31 56.5h1M33 56.5h1M24 57.5h1M28 57.5h2M32 57.5h1M16 58.5h1M29 58.5h1M7 59.5h1M22 59.5h1M34 59.5h1M13 60.5h1M25 60.5h1M6 61.5h1M21 61.5h1M29 61.5h1M32 61.5h1M16 62.5h1M23 62.5h1M32 62.5h1M8 63.5h1M15 63.5h1M20 63.5h1M28 63.5h1M30 63.5h1M33 63.5h2M12 64.5h1M29 64.5h1M33 64.5h1M20 65.5h1M25 65.5h1M27 65.5h1M29 65.5h2M17 66.5h1M20 66.5h2M23 66.5h2M12 67.5h1M22 67.5h1M28 67.5h1M30 67.5h2M7 68.5h1M13 68.5h1M18 68.5h1M25 68.5h2M30 68.5h2M18 69.5h1M7 70.5h1M27 70.5h1M31 70.5h1M33 70.5h2M12 71.5h1M16 71.5h1M18 71.5h1M27 71.5h2M30 71.5h1M22 72.5h1M24 72.5h1M31 72.5h1M33 72.5h1M24 73.5h1M26 73.5h4M16 74.5h1M32 74.5h1M8 75.5h1M14 75.5h1M24 75.5h1M10 76.5h1M17 76.5h1M22 76.5h1M32 76.5h1M10 77.5h1M15 77.5h2M21 77.5h1M30 77.5h1"/><path stroke="#f0f9dc" d="M19 0.5h1M22 0.5h3M29 0.5h1M31 0.5h1M10 1.5h1M28 1.5h1M30 1.5h1M34 1.5h1M7 2.5h1M29 2.5h1M33 2.5h1M6 3.5h1M8 3.5h1M32 3.5h2M15 4.5h1M25 4.5h1M28 4.5h1M6 5.5h1M26 5.5h1M34 5.5h1M13 6.5h1M16 6.5h2M20 6.5h2M28 6.5h1M32 6.5h1M34 6.5h1M8 7.5h1M25 7.5h1M30 7.5h1M34 7.5h1M9 8.5h1M18 8.5h1M24 8.5h2M30 8.5h1M7 9.5h1M11 9.5h1M24 9.5h2M34 9.5h1M10 10.5h1M12 10.5h1M20 10.5h1M28 10.5h1M33 10.5h1M8 11.5h1M10 11.5h1M21 11.5h1M5 12.5h1M12 12.5h2M16 12.5h1M28 12.5h2M31 12.5h1M7 13.5h1M28 13.5h1M6 14.5h1M9 14.5h1M12 14.5h1M15 14.5h1M25 14.5h1M14 15.5h1M22 15.5h1M7 16.5h1M10 16.5h1M14 16.5h1M21 16.5h1M23 16.5h3M28 16.5h1M32 16.5h1M6 17.5h1M11 17.5h1M18 17.5h1M22 17.5h1M27 17.5h2M28 18.5h3M6 19.5h2M14 19.5h1M21 19.5h1M29 19.5h1M32 19.5h1M34 19.5h1M11 20.5h1M13 20.5h1M17 20.5h1M22 20.5h2M33 20.5h1M16 21.5h1M12 22.5h1M15 22.5h3M22 22.5h1M25 22.5h1M31 22.5h1M10 23.5h1M14 23.5h1M22 23.5h1M24 23.5h1M26 23.5h2M30 23.5h1M34 23.5h1M12 24.5h1M31 24.5h1M10 25.5h1M22 25.5h2M32 25.5h1M34 25.5h1M5 26.5h1M11 26.5h1M15 26.5h1M17 26.5h1M33 26.5h2M14 27.5h1M16 27.5h1M21 27.5h1M15 28.5h1M23 28.5h1M27 28.5h1M32 28.5h1M11 29.5h1M20 29.5h1M23 29.5h1M30 29.5h1M33 29.5h2M5 30.5h1M10 30.5h1M28 30.5h1M12 31.5h1M17 31.5h1M19 31.5h1M22 31.5h1M31 31.5h1M27 32.5h1M17 33.5h1M21 33.5h1M29 33.5h1M24 34.5h1M13 35.5h1M21 35.5h1M25 35.5h2M34 35.5h1M10 36.5h1M18 36.5h1M21 36.5h1M27 36.5h1M31 36.5h1M21 37.5h1M24 37.5h1M29 37.5h1M20 39.5h4M26 39.5h1M29 39.5h1M34 39.5h1M11 40.5h1M14 40.5h1M17 40.5h1M20 40.5h1M28 40.5h1M30 40.5h1M12 41.5h1M16 41.5h1M21 41.5h1M29 41.5h1M32 41.5h1M11 42.5h2M21 42.5h1M28 42.5h1M0 43.5h1M17 43.5h1M20 43.5h1M28 43.5h1M10 44.5h1M27 44.5h1M7 45.5h2M16 45.5h1M29 45.5h1M12 46.5h2M22 46.5h2M26 46.5h1M25 47.5h1M28 47.5h1M30 47.5h1M9 48.5h1M19 48.5h2M31 48.5h1M8 49.5h1M20 49.5h1M26 49.5h1M34 49.5h1M9 50.5h1M21 50.5h1M27 50.5h1M31 50.5h1M7 51.5h1M29 51.5h2M15 52.5h1M21 52.5h1M33 52.5h1M15 53.5h1M19 53.5h2M28 53.5h1M32 53.5h1M19 54.5h2M22 54.5h1M25 54.5h1M28 54.5h1M7 55.5h1M20 55.5h1M23 55.5h2M27 55.5h1M30 55.5h1M24 56.5h1M7 57.5h1M16 57.5h1M21 57.5h3M26 57.5h1M33 57.5h2M19 58.5h1M27 58.5h1M33 58.5h1M6 59.5h1M8 59.5h1M12 59.5h1M20 59.5h1M26 59.5h1M31 59.5h1M17 60.5h1M21 60.5h1M31 60.5h1M34 60.5h1M5 61.5h1M22 61.5h1M25 61.5h2M28 61.5h1M5 62.5h1M10 62.5h1M12 62.5h1M17 62.5h2M28 62.5h1M13 63.5h1M18 63.5h1M21 63.5h1M32 63.5h1M14 64.5h1M18 64.5h1M25 64.5h1M27 64.5h1M11 65.5h1M17 65.5h1M23 65.5h1M32 65.5h1M7 66.5h1M12 66.5h1M30 66.5h2M33 66.5h2M17 67.5h1M21 67.5h1M32 67.5h3M5 68.5h1M16 68.5h1M8 69.5h1M15 69.5h2M19 69.5h1M26 69.5h1M32 69.5h1M12 70.5h1M20 70.5h1M24 70.5h1M28 70.5h1M9 71.5h1M15 71.5h1M17 71.5h1M21 71.5h1M29 72.5h1M34 72.5h1M7 73.5h1M20 73.5h1M25 73.5h1M33 73.5h1M5 74.5h1M12 74.5h1M20 74.5h1M22 74.5h1M26 74.5h2M29 74.5h1M7 75.5h1M10 75.5h1M20 75.5h1M30 75.5h2M34 75.5h1M3 76.5h1M7 76.5h1M11 76.5h2M20 76.5h2M28 76.5h1M13 77.5h1M22 77.5h1M24 77.5h1M26 77.5h2"/><path stroke="#f3fad4" d="M13 0.5h2M27 0.5h1M7 1.5h1M15 1.5h1M24 1.5h1M32 1.5h2M0 2.5h1M12 2.5h1M14 2.5h1M19 2.5h1M26 2.5h1M11 3.5h1M14 3.5h1M17 3.5h1M22 3.5h2M28 3.5h1M34 3.5h1M9 4.5h2M16 4.5h1M19 4.5h2M23 4.5h1M29 4.5h1M0 5.5h1M8 5.5h1M12 5.5h2M16 5.5h1M20 5.5h1M28 5.5h1M33 5.5h1M8 6.5h1M14 6.5h1M30 6.5h1M7 7.5h1M12 7.5h1M26 7.5h1M28 7.5h1M5 8.5h3M12 8.5h1M15 8.5h3M26 8.5h1M28 8.5h1M32 8.5h1M34 8.5h1M14 9.5h1M17 9.5h1M11 10.5h1M14 10.5h1M18 10.5h1M21 10.5h1M32 10.5h1M25 11.5h1M27 11.5h1M26 12.5h1M3 13.5h2M8 13.5h1M11 13.5h2M14 13.5h1M18 13.5h1M24 13.5h1M30 13.5h1M32 13.5h1M5 14.5h1M8 14.5h1M16 14.5h1M33 14.5h1M6 15.5h1M13 15.5h1M19 15.5h1M23 15.5h1M25 15.5h1M33 15.5h1M13 16.5h1M15 16.5h2M18 16.5h2M27 16.5h1M8 17.5h1M24 17.5h1M0 18.5h1M12 18.5h4M23 18.5h1M27 18.5h1M33 18.5h1M0 19.5h1M4 19.5h2M15 19.5h1M19 19.5h1M25 19.5h2M8 20.5h2M29 20.5h1M32 20.5h1M6 21.5h1M13 21.5h1M23 21.5h1M28 21.5h2M11 22.5h1M18 22.5h1M28 22.5h1M30 22.5h1M32 22.5h1M16 23.5h1M21 23.5h1M25 23.5h1M33 23.5h1M27 24.5h2M5 25.5h1M9 25.5h1M11 25.5h2M17 25.5h1M20 25.5h1M28 25.5h1M31 25.5h1M8 26.5h2M13 26.5h2M28 26.5h1M31 26.5h1M10 27.5h1M19 27.5h1M25 27.5h2M11 28.5h1M30 28.5h1M33 28.5h1M12 29.5h2M18 29.5h1M24 29.5h1M26 29.5h1M28 29.5h1M32 29.5h1M4 30.5h1M8 30.5h1M19 30.5h1M21 30.5h1M24 30.5h1M29 30.5h1M30 31.5h1M34 31.5h1M10 32.5h3M16 32.5h1M18 32.5h1M21 32.5h2M32 32.5h1M12 33.5h3M20 33.5h1M23 33.5h1M26 33.5h1M34 33.5h1M12 34.5h2M17 34.5h2M20 34.5h4M25 34.5h1M0 35.5h1M10 35.5h1M19 35.5h1M32 35.5h1M11 36.5h1M13 36.5h1M15 36.5h2M26 36.5h1M28 36.5h1M30 36.5h1M33 36.5h2M23 37.5h1M25 37.5h1M32 37.5h2M6 38.5h2M19 38.5h2M23 38.5h1M30 38.5h2M33 38.5h1M11 39.5h1M17 39.5h1M24 39.5h1M8 40.5h2M13 40.5h1M27 40.5h1M3 41.5h1M7 41.5h1M20 41.5h1M26 41.5h1M28 41.5h1M30 41.5h2M8 42.5h1M14 42.5h1M34 42.5h1M9 43.5h1M13 43.5h1M21 43.5h1M30 43.5h1M9 44.5h1M14 44.5h1M31 44.5h1M34 44.5h1M12 45.5h1M21 45.5h3M27 45.5h2M32 45.5h3M11 46.5h1M28 46.5h1M5 47.5h1M10 47.5h1M14 47.5h1M19 47.5h1M22 47.5h2M7 48.5h2M11 48.5h1M16 48.5h2M21 48.5h1M32 48.5h1M2 49.5h1M5 49.5h2M13 49.5h1M23 49.5h2M32 49.5h1M12 50.5h1M22 50.5h1M29 50.5h1M33 50.5h1M19 51.5h1M21 51.5h1M31 51.5h1M33 51.5h1M8 52.5h1M11 52.5h1M14 52.5h1M18 52.5h1M23 52.5h1M30 52.5h1M1 53.5h1M27 53.5h1M34 53.5h1M6 54.5h1M10 54.5h3M17 54.5h1M31 54.5h1M11 55.5h1M14 55.5h1M29 55.5h1M10 56.5h3M17 56.5h1M23 56.5h1M26 56.5h2M29 56.5h1M32 56.5h1M6 57.5h1M12 57.5h1M14 57.5h1M30 57.5h1M2 58.5h1M10 58.5h1M12 58.5h2M15 58.5h1M21 58.5h1M23 58.5h1M32 58.5h1M11 59.5h1M15 59.5h1M17 59.5h1M19 59.5h1M23 59.5h1M25 59.5h1M30 59.5h1M4 60.5h1M12 60.5h1M14 60.5h2M22 60.5h2M26 60.5h1M29 60.5h1M8 61.5h1M12 61.5h1M16 61.5h2M24 61.5h1M31 61.5h1M33 61.5h1M7 62.5h1M9 62.5h1M11 62.5h1M15 62.5h1M19 62.5h1M22 62.5h1M30 62.5h2M4 63.5h1M7 63.5h1M22 63.5h2M5 64.5h1M8 64.5h1M10 64.5h1M16 64.5h1M21 64.5h1M34 64.5h1M10 65.5h1M13 65.5h1M19 65.5h1M22 65.5h1M33 65.5h1M11 66.5h1M13 66.5h1M18 66.5h1M0 67.5h1M5 67.5h1M7 67.5h1M13 67.5h1M26 67.5h1M6 68.5h1M9 68.5h1M12 68.5h1M28 68.5h2M9 69.5h3M13 69.5h1M22 69.5h1M24 69.5h1M27 69.5h2M31 69.5h1M33 69.5h1M6 70.5h1M9 70.5h1M13 70.5h2M17 70.5h1M22 70.5h1M25 70.5h1M32 70.5h1M0 71.5h1M8 71.5h1M14 71.5h1M26 71.5h1M0 72.5h1M9 72.5h1M11 72.5h1M27 72.5h1M30 72.5h1M32 72.5h1M13 73.5h1M30 73.5h2M7 74.5h1M14 74.5h1M19 74.5h1M23 74.5h3M23 75.5h1M18 76.5h1M25 76.5h1M30 76.5h1M7 77.5h1M18 77.5h1M28 77.5h1M31 77.5h1M33 77.5h1"/><path stroke="#f7fccd" d="M1 0.5h1M8 0.5h2M18 0.5h1M30 0.5h1M6 1.5h1M8 1.5h1M16 1.5h1M21 1.5h1M25 1.5h1M29 1.5h1M6 2.5h1M9 2.5h3M21 2.5h1M30 2.5h1M32 2.5h1M10 3.5h1M16 3.5h1M19 3.5h2M24 3.5h2M5 4.5h2M14 4.5h1M30 4.5h2M11 5.5h1M19 5.5h1M21 5.5h1M0 6.5h1M7 6.5h1M18 6.5h1M25 6.5h2M16 7.5h1M32 7.5h1M4 8.5h1M22 8.5h1M12 9.5h2M29 9.5h1M33 9.5h1M6 10.5h1M19 10.5h1M22 10.5h1M27 10.5h1M6 11.5h1M9 11.5h1M17 11.5h1M0 12.5h1M11 12.5h1M15 12.5h1M18 12.5h1M33 12.5h1M6 13.5h1M0 14.5h1M3 14.5h2M26 14.5h1M4 15.5h1M18 15.5h1M21 15.5h1M11 16.5h1M13 17.5h1M23 17.5h1M26 17.5h1M32 17.5h1M7 18.5h1M16 18.5h2M19 18.5h1M21 18.5h2M25 18.5h1M2 19.5h1M13 19.5h1M3 20.5h1M5 20.5h3M15 20.5h1M18 20.5h1M27 20.5h2M9 21.5h1M17 21.5h1M21 21.5h2M5 23.5h2M11 23.5h1M13 23.5h1M15 23.5h1M17 23.5h2M6 24.5h1M10 24.5h1M16 24.5h1M23 24.5h2M33 24.5h1M0 25.5h1M25 25.5h1M33 25.5h1M7 26.5h1M12 26.5h1M19 26.5h1M25 26.5h1M12 27.5h1M20 27.5h1M28 27.5h1M7 28.5h1M9 28.5h2M12 28.5h2M16 28.5h2M20 28.5h1M26 28.5h1M28 28.5h1M6 29.5h1M8 29.5h1M16 29.5h1M16 30.5h2M33 30.5h2M0 31.5h1M9 31.5h1M14 31.5h1M25 31.5h1M33 31.5h1M13 32.5h2M20 32.5h1M1 33.5h1M11 33.5h1M25 33.5h1M14 34.5h1M19 34.5h1M4 35.5h1M6 35.5h1M8 35.5h2M11 35.5h1M33 35.5h1M5 36.5h1M12 36.5h1M14 36.5h1M20 36.5h1M32 36.5h1M4 37.5h1M9 37.5h1M13 37.5h4M18 37.5h1M4 38.5h1M14 38.5h1M25 38.5h1M28 38.5h1M0 39.5h1M6 39.5h1M14 39.5h1M0 40.5h1M6 40.5h2M16 40.5h1M23 40.5h1M1 41.5h1M9 41.5h1M13 41.5h1M19 41.5h1M34 41.5h1M7 42.5h1M17 42.5h1M19 42.5h1M23 42.5h2M33 42.5h1M4 43.5h1M8 43.5h1M10 43.5h2M19 43.5h1M8 44.5h1M19 44.5h1M25 44.5h2M28 44.5h1M32 44.5h2M5 45.5h1M13 45.5h1M31 45.5h1M7 46.5h2M14 46.5h1M17 46.5h1M27 46.5h1M30 46.5h1M33 46.5h1M8 47.5h1M12 47.5h1M15 47.5h1M12 48.5h1M14 48.5h1M18 48.5h1M22 48.5h1M26 48.5h1M28 48.5h1M4 49.5h1M11 49.5h1M14 49.5h2M18 49.5h1M21 49.5h1M25 49.5h1M29 49.5h1M7 50.5h1M10 50.5h1M2 51.5h1M6 51.5h1M8 51.5h1M10 51.5h1M13 51.5h2M23 51.5h2M28 51.5h1M32 51.5h1M5 52.5h1M9 52.5h1M12 52.5h2M20 52.5h1M24 52.5h1M11 53.5h1M16 53.5h2M33 53.5h1M4 54.5h1M7 54.5h1M9 54.5h1M16 54.5h1M27 54.5h1M30 54.5h1M8 55.5h1M21 55.5h1M26 55.5h1M5 56.5h2M9 56.5h1M13 56.5h1M21 56.5h1M1 57.5h1M4 57.5h2M8 57.5h1M13 57.5h1M19 57.5h2M7 58.5h1M14 58.5h1M17 58.5h1M25 58.5h2M28 58.5h1M30 58.5h1M10 59.5h1M14 59.5h1M21 59.5h1M9 60.5h3M18 60.5h1M4 61.5h1M10 61.5h1M13 61.5h2M18 61.5h2M14 62.5h1M14 63.5h1M16 63.5h1M25 63.5h2M31 63.5h1M22 64.5h1M24 64.5h1M5 65.5h2M12 65.5h1M26 65.5h1M1 66.5h1M6 66.5h1M9 66.5h1M14 66.5h1M1 67.5h1M6 67.5h1M10 67.5h2M15 67.5h1M27 67.5h1M29 67.5h1M10 68.5h1M17 68.5h1M19 68.5h1M22 68.5h1M24 68.5h1M33 68.5h1M5 69.5h1M21 69.5h1M30 69.5h1M34 69.5h1M2 70.5h2M11 70.5h1M16 70.5h1M19 70.5h1M2 71.5h1M7 71.5h1M22 71.5h1M29 71.5h1M5 72.5h1M10 72.5h1M12 72.5h1M14 72.5h3M8 73.5h1M14 73.5h1M18 73.5h1M32 73.5h1M13 74.5h1M21 74.5h1M33 74.5h1M6 75.5h1M16 75.5h2M28 75.5h1M4 76.5h1M8 76.5h1M14 76.5h2M23 76.5h1M33 76.5h1M0 77.5h1M11 77.5h1M17 77.5h1M19 77.5h1M23 77.5h1"/><path stroke="#fbfec6" d="M0 0.5h1M3 0.5h1M5 0.5h1M10 0.5h1M16 0.5h1M0 1.5h1M9 1.5h1M17 1.5h1M2 2.5h1M16 2.5h1M5 3.5h1M13 3.5h1M15 3.5h1M18 3.5h1M11 4.5h1M13 4.5h1M18 4.5h1M22 4.5h1M17 5.5h1M23 5.5h1M5 6.5h1M11 6.5h1M22 6.5h1M11 7.5h1M14 7.5h1M24 7.5h1M10 8.5h1M13 8.5h1M19 8.5h1M0 9.5h1M9 9.5h2M16 9.5h1M19 9.5h3M27 9.5h1M1 10.5h1M7 10.5h2M25 10.5h1M4 11.5h1M11 11.5h1M13 11.5h4M33 11.5h1M7 12.5h1M9 12.5h2M0 13.5h1M5 13.5h1M21 13.5h1M18 14.5h1M3 15.5h1M0 16.5h1M4 16.5h1M22 16.5h1M33 16.5h1M0 17.5h1M17 17.5h1M2 18.5h1M4 18.5h3M8 18.5h1M10 18.5h1M18 18.5h1M8 19.5h2M11 19.5h1M16 19.5h1M18 19.5h1M14 20.5h1M11 21.5h2M25 21.5h1M30 21.5h1M8 22.5h1M19 22.5h1M21 22.5h1M33 22.5h1M7 23.5h1M23 23.5h1M32 23.5h1M7 24.5h1M11 24.5h1M20 24.5h1M25 24.5h1M7 25.5h1M13 25.5h1M15 25.5h2M2 26.5h1M18 26.5h1M32 26.5h1M11 27.5h1M15 27.5h1M18 27.5h1M23 27.5h1M5 28.5h1M18 28.5h1M25 28.5h1M0 29.5h1M5 29.5h1M19 29.5h1M14 30.5h2M23 30.5h1M25 30.5h1M16 31.5h1M32 31.5h1M7 32.5h1M17 32.5h1M26 32.5h1M5 33.5h1M9 34.5h1M11 34.5h1M1 35.5h1M7 35.5h1M14 35.5h1M0 36.5h1M6 36.5h1M25 36.5h1M2 37.5h1M6 37.5h1M11 37.5h1M30 37.5h1M8 38.5h2M12 38.5h2M22 38.5h1M10 39.5h1M13 39.5h1M16 39.5h1M33 39.5h1M5 40.5h1M12 40.5h1M15 40.5h1M32 40.5h1M4 41.5h3M14 41.5h2M0 42.5h2M13 42.5h1M18 42.5h1M31 42.5h2M7 43.5h1M23 43.5h1M1 44.5h1M7 44.5h1M12 44.5h1M15 44.5h1M6 45.5h1M9 45.5h1M11 45.5h1M17 45.5h1M5 46.5h1M24 46.5h1M9 47.5h1M13 47.5h1M13 48.5h1M12 49.5h1M17 49.5h1M6 50.5h1M11 50.5h1M17 50.5h1M12 51.5h1M15 51.5h1M18 51.5h1M4 52.5h1M22 52.5h1M32 52.5h1M0 53.5h1M3 53.5h1M13 53.5h2M22 53.5h1M0 54.5h2M5 54.5h1M13 54.5h2M33 54.5h1M9 55.5h1M13 55.5h1M16 55.5h1M19 55.5h1M22 55.5h1M31 55.5h1M15 56.5h1M19 56.5h1M2 57.5h1M15 57.5h1M18 57.5h1M25 57.5h1M11 58.5h1M20 58.5h1M31 58.5h1M3 59.5h1M5 59.5h1M24 59.5h1M3 60.5h1M7 60.5h2M28 60.5h1M33 60.5h1M2 61.5h1M0 62.5h1M4 62.5h1M6 62.5h1M13 62.5h1M2 63.5h2M5 63.5h2M19 63.5h1M9 64.5h1M17 64.5h1M19 64.5h2M28 64.5h1M3 65.5h1M8 65.5h1M14 65.5h1M21 65.5h1M0 66.5h1M5 66.5h1M8 66.5h1M10 66.5h1M16 66.5h1M19 66.5h1M25 66.5h1M32 66.5h1M14 67.5h1M25 67.5h1M8 68.5h1M15 68.5h1M20 68.5h2M32 68.5h1M34 68.5h1M4 69.5h1M7 69.5h1M20 69.5h1M29 69.5h1M5 70.5h1M10 70.5h1M30 70.5h1M4 71.5h2M2 72.5h3M6 72.5h1M19 72.5h1M21 72.5h1M25 72.5h1M5 73.5h1M19 73.5h1M4 74.5h1M8 74.5h1M17 74.5h2M31 74.5h1M0 75.5h1M13 75.5h1M15 75.5h1M25 75.5h1M9 76.5h1M13 76.5h1M2 77.5h2M6 77.5h1M8 77.5h2M12 77.5h1M25 77.5h1"/><path stroke="#ffffbf" d="M11 0.5h2M17 0.5h1M28 0.5h1M1 1.5h1M3 1.5h1M14 1.5h1M18 1.5h1M8 2.5h1M18 2.5h1M23 2.5h1M27 2.5h1M4 3.5h1M4 4.5h1M21 4.5h1M27 4.5h1M2 5.5h1M5 5.5h1M10 5.5h1M32 5.5h1M2 6.5h1M4 6.5h1M6 6.5h1M0 7.5h1M2 7.5h1M15 7.5h1M17 7.5h1M19 7.5h2M1 8.5h1M14 8.5h1M4 9.5h1M6 9.5h1M13 10.5h1M15 10.5h1M0 11.5h1M2 12.5h1M8 12.5h1M1 13.5h1M15 13.5h2M19 13.5h1M25 13.5h1M2 14.5h1M21 14.5h1M2 15.5h1M15 15.5h1M5 16.5h2M9 16.5h1M12 16.5h1M17 16.5h1M9 17.5h1M15 17.5h1M1 18.5h1M0 20.5h1M2 20.5h1M10 20.5h1M2 21.5h1M5 21.5h1M14 21.5h1M19 21.5h1M6 22.5h1M9 22.5h1M1 23.5h1M4 23.5h1M8 23.5h1M14 24.5h1M21 24.5h1M26 24.5h1M1 25.5h1M3 25.5h2M19 25.5h1M0 26.5h1M6 26.5h1M2 27.5h2M6 27.5h2M4 28.5h1M6 28.5h1M14 28.5h1M9 29.5h2M15 29.5h1M0 30.5h1M6 30.5h2M12 30.5h1M3 31.5h1M8 31.5h1M10 31.5h1M1 32.5h1M6 32.5h1M15 32.5h1M25 32.5h1M9 33.5h1M32 33.5h1M0 34.5h1M3 34.5h4M10 34.5h1M15 34.5h1M16 35.5h2M7 36.5h1M9 36.5h1M1 37.5h1M5 37.5h1M8 37.5h1M12 37.5h1M0 38.5h1M15 38.5h2M18 38.5h1M32 38.5h1M34 38.5h1M8 39.5h2M15 39.5h1M19 39.5h1M32 39.5h1M4 40.5h1M18 40.5h1M33 40.5h1M18 41.5h1M5 42.5h2M18 43.5h1M22 43.5h1M0 44.5h1M4 44.5h3M13 44.5h1M1 45.5h1M25 45.5h1M2 46.5h2M15 46.5h2M21 46.5h1M32 46.5h1M0 47.5h2M6 47.5h1M18 47.5h1M34 47.5h1M1 48.5h1M3 48.5h2M23 48.5h1M25 48.5h1M30 48.5h1M1 49.5h1M3 49.5h1M7 49.5h1M30 49.5h1M0 50.5h2M4 50.5h2M9 51.5h1M11 51.5h1M16 52.5h1M4 53.5h1M8 53.5h3M25 53.5h1M26 54.5h1M4 55.5h1M6 55.5h1M12 55.5h1M15 55.5h1M0 56.5h1M25 56.5h1M3 57.5h1M11 57.5h1M17 57.5h1M0 58.5h1M3 58.5h1M5 58.5h1M18 58.5h1M22 58.5h1M1 59.5h1M3 61.5h1M11 61.5h1M2 62.5h1M8 62.5h1M0 63.5h1M10 63.5h1M1 64.5h1M1 65.5h1M7 65.5h1M9 65.5h1M18 65.5h1M3 66.5h2M4 67.5h1M9 67.5h1M18 67.5h2M0 69.5h2M6 69.5h1M14 69.5h1M0 70.5h1M15 70.5h1M11 71.5h1M23 72.5h1M0 73.5h1M9 73.5h1M12 73.5h1M17 73.5h1M21 73.5h1M0 74.5h1M9 74.5h1M5 75.5h1M9 75.5h1M12 75.5h1M19 75.5h1M21 75.5h2M33 75.5h1M2 76.5h1M5 76.5h2M19 76.5h1M1 77.5h1M4 77.5h1M14 77.5h1M29 77.5h1"/><path stroke="#fffbb9" d="M2 0.5h1M6 0.5h1M15 0.5h1M5 2.5h1M1 3.5h1M3 4.5h1M12 4.5h1M14 5.5h1M18 5.5h1M1 6.5h1M9 6.5h1M19 6.5h1M3 7.5h1M9 7.5h1M8 8.5h1M5 9.5h1M8 9.5h1M18 9.5h1M22 9.5h1M2 10.5h1M23 10.5h1M2 11.5h1M18 11.5h2M3 12.5h1M14 12.5h1M23 13.5h1M7 14.5h1M19 14.5h1M23 14.5h1M32 15.5h1M31 16.5h1M3 17.5h1M7 17.5h1M25 17.5h1M33 17.5h1M12 20.5h1M0 21.5h1M7 21.5h1M15 21.5h1M0 22.5h1M4 22.5h2M7 22.5h1M19 23.5h1M1 24.5h1M9 24.5h1M18 24.5h2M3 26.5h1M10 26.5h1M0 27.5h1M9 27.5h1M0 28.5h1M2 28.5h1M1 29.5h2M4 29.5h1M17 29.5h1M3 30.5h1M20 30.5h1M5 31.5h1M11 31.5h1M0 32.5h1M3 32.5h3M9 32.5h1M0 33.5h1M2 33.5h2M6 33.5h2M19 33.5h1M2 34.5h1M16 34.5h1M15 35.5h1M2 36.5h1M4 36.5h1M0 37.5h1M3 38.5h1M10 38.5h1M4 39.5h1M18 39.5h1M2 40.5h1M0 41.5h1M25 41.5h1M2 42.5h2M15 42.5h1M2 43.5h1M12 43.5h1M14 43.5h1M0 45.5h1M3 45.5h2M15 45.5h1M0 46.5h1M6 46.5h1M18 46.5h1M25 46.5h1M2 47.5h3M7 47.5h1M11 47.5h1M6 48.5h1M10 48.5h1M0 49.5h1M9 49.5h1M13 50.5h1M18 50.5h2M3 51.5h2M0 52.5h1M3 52.5h1M25 52.5h1M2 54.5h2M18 54.5h1M3 55.5h1M25 55.5h1M4 56.5h1M8 56.5h1M14 56.5h1M16 56.5h1M34 56.5h1M0 57.5h1M9 57.5h1M16 59.5h1M18 59.5h1M0 60.5h3M16 60.5h1M0 61.5h1M9 61.5h1M1 63.5h1M9 63.5h1M11 63.5h1M0 64.5h1M6 64.5h2M30 64.5h1M2 65.5h1M4 65.5h1M8 67.5h1M1 68.5h3M3 69.5h1M25 69.5h1M1 70.5h1M4 70.5h1M26 70.5h1M3 71.5h1M1 73.5h2M4 73.5h1M11 73.5h1M1 74.5h1M6 74.5h1M2 75.5h3M11 75.5h1M18 75.5h1M32 75.5h1M0 76.5h2"/><path stroke="#fff7b3" d="M4 0.5h1M32 0.5h1M4 2.5h1M0 3.5h1M2 3.5h1M1 4.5h2M1 5.5h1M3 5.5h1M7 5.5h1M3 6.5h1M12 6.5h1M4 7.5h1M33 7.5h1M11 8.5h1M33 8.5h1M1 9.5h1M4 10.5h1M9 10.5h1M24 10.5h1M5 11.5h1M1 12.5h1M4 12.5h1M6 12.5h1M9 13.5h1M1 14.5h1M0 15.5h1M9 15.5h1M4 17.5h1M14 17.5h1M16 17.5h1M3 18.5h1M9 18.5h1M1 19.5h1M4 20.5h1M19 20.5h1M3 21.5h2M18 21.5h1M2 22.5h2M9 23.5h1M0 24.5h1M3 24.5h1M5 24.5h1M15 24.5h1M34 24.5h1M6 25.5h1M1 26.5h1M4 27.5h1M17 27.5h1M1 28.5h1M1 30.5h1M9 30.5h1M1 31.5h1M4 31.5h1M6 31.5h1M2 32.5h1M8 34.5h1M18 35.5h1M5 38.5h1M1 40.5h1M3 40.5h1M10 40.5h1M2 41.5h1M11 41.5h1M25 42.5h1M1 43.5h1M2 44.5h1M18 45.5h1M4 46.5h1M0 48.5h1M2 48.5h1M3 50.5h1M1 51.5h1M2 52.5h1M6 52.5h2M2 53.5h1M5 53.5h2M18 53.5h1M1 55.5h1M1 56.5h1M3 56.5h1M1 58.5h1M4 58.5h1M8 58.5h1M2 59.5h1M9 59.5h1M30 60.5h1M3 62.5h1M2 64.5h1M0 65.5h1M15 65.5h1M2 66.5h1M2 67.5h2M4 68.5h1M6 71.5h1M8 72.5h1M15 73.5h1M3 74.5h1M11 74.5h1M29 75.5h1M5 77.5h1"/><path stroke="#fff3ad" d="M1 2.5h1M0 4.5h1M4 5.5h1M1 7.5h1M23 7.5h1M3 9.5h1M5 10.5h1M1 11.5h1M3 11.5h1M2 13.5h1M1 15.5h1M2 16.5h1M2 17.5h1M12 17.5h1M19 17.5h1M1 20.5h1M8 21.5h1M2 24.5h1M4 24.5h1M8 24.5h1M4 26.5h1M3 28.5h1M11 30.5h1M7 31.5h1M3 35.5h1M3 36.5h1M3 37.5h1M1 38.5h2M11 38.5h1M1 39.5h3M5 39.5h1M3 43.5h1M5 43.5h1M15 43.5h1M11 44.5h1M19 46.5h1M5 48.5h1M0 51.5h1M10 52.5h1M2 55.5h1M18 55.5h1M33 55.5h1M9 58.5h1M6 60.5h1M3 64.5h1M16 65.5h1M11 68.5h1M2 69.5h1M18 70.5h1M29 70.5h1M6 73.5h1M2 74.5h1"/><path stroke="#fef0a8" d="M7 0.5h1M4 1.5h1M3 3.5h1M17 4.5h1M3 8.5h1M2 9.5h1M12 11.5h1M3 16.5h1M5 17.5h1M1 21.5h1M1 27.5h1M2 30.5h1M2 31.5h1M2 35.5h1M1 36.5h1M4 42.5h1M3 44.5h1M4 59.5h1M5 60.5h1M17 63.5h1M4 64.5h1M1 75.5h1"/><path stroke="#feeca2" d="M2 1.5h1M3 2.5h1M5 7.5h1M3 10.5h1M2 23.5h1M2 25.5h1M4 33.5h1M17 44.5h1M1 52.5h1M1 62.5h1M1 72.5h1"/><path stroke="#fee89c" d="M0 23.5h1M33 41.5h1M9 42.5h1M2 45.5h1M2 50.5h1M2 56.5h1"/><path stroke="#fee496" d="M9 46.5h1M1 71.5h1"/><path stroke="#fee090" d="M0 8.5h1M2 8.5h1"/></g>
<rect x="55.9" y="354.6" width="313.65" height="9.20" fill="#440154"/>
<rect x="372.90" y="354.6" width="7.02" height="9.20" fill="#ff0000"/>
<rect x="372.90" y="366.0" width="7.02" height="8.30" fill="#d55e00"/>
<rect x="379.87" y="354.6" width="7.02" height="9.20" fill="#21908c"/>
<rect x="379.87" y="366.0" width="7.02" height="8.30" fill="#56b4e9"/>
<rect x="386.84" y="354.6" width="7.02" height="9.20" fill="#21908c"/>
<rect x="386.84" y="366.0" width="7.02" height="8.30" fill="#009e73"/>
<rect x="393.81" y="354.6" width="7.02" height="9.20" fill="#ff0000"/>
<rect x="393.81" y="366.0" width="7.02" height="8.30" fill="#0072b2"/>
<rect x="400.78" y="354.6" width="7.02" height="9.20" fill="#21908c"/>
<rect x="400.78" y="366.0" width="7.02" height="8.30" fill="#009e73"/>
<rect x="407.75" y="354.6" width="7.02" height="9.20" fill="#21908c"/>
<rect x="407.75" y="366.0" width="7.02" height="8.30" fill="#009e73"/>
<rect x="414.72" y="354.6" width="7.02" height="9.20" fill="#ff0000"/>
<rect x="414.72" y="366.0" width="7.02" height="8.30" fill="#d55e00"/>
<rect x="421.69" y="354.6" width="7.02" height="9.20" fill="#ff0000"/>
<rect x="421.69" y="366.0" width="7.02" height="8.30" fill="#d55e00"/>
<rect x="428.66" y="354.6" width="7.02" height="9.20" fill="#ff0000"/>
<rect x="428.66" y="366.0" width="7.02" height="8.30" fill="#d55e00"/>
<rect x="435.63" y="354.6" width="7.02" height="9.20" fill="#ff0000"/>
<rect x="435.63" y="366.0" width="7.02" height="8.30" fill="#d55e00"/>
<rect x="442.60" y="354.6" width="7.02" height="9.20" fill="#ff0000"/>
<rect x="442.60" y="366.0" width="7.02" height="8.30" fill="#d55e00"/>
<rect x="449.57" y="354.6" width="7.02" height="9.20" fill="#ff0000"/>
<rect x="449.57" y="366.0" width="7.02" height="8.30" fill="#d55e00"/>
<rect x="456.54" y="354.6" width="7.02" height="9.20" fill="#ff0000"/>
<rect x="456.54" y="366.0" width="7.02" height="8.30" fill="#d55e00"/>
<rect x="463.51" y="354.6" width="7.02" height="9.20" fill="#ff0000"/>
<rect x="463.51" y="366.0" width="7.02" height="8.30" fill="#d55e00"/>
<rect x="470.48" y="354.6" width="7.02" height="9.20" fill="#ff0000"/>
<rect x="470.48" y="366.0" width="7.02" height="8.30" fill="#d55e00"/>
<rect x="477.45" y="354.6" width="7.02" height="9.20" fill="#ff0000"/>
<rect x="477.45" y="366.0" width="7.02" height="8.30" fill="#d55e00"/>
<rect x="484.42" y="354.6" width="7.02" height="9.20" fill="#ff0000"/>
<rect x="484.42" y="366.0" width="7.02" height="8.30" fill="#d55e00"/>
<rect x="491.39" y="354.6" width="7.02" height="9.20" fill="#ff0000"/>
<rect x="491.39" y="366.0" width="7.02" height="8.30" fill="#d55e00"/>
<rect x="498.36" y="354.6" width="7.02" height="9.20" fill="#ff0000"/>
<rect x="498.36" y="366.0" width="7.02" height="8.30" fill="#0072b2"/>
<rect x="505.33" y="354.6" width="7.02" height="9.20" fill="#21908c"/>
<rect x="505.33" y="366.0" width="7.02" height="8.30" fill="#009e73"/>
<rect x="512.30" y="354.6" width="7.02" height="9.20" fill="#ff0000"/>
<rect x="512.30" y="366.0" width="7.02" height="8.30" fill="#d55e00"/>
<rect x="519.27" y="354.6" width="7.02" height="9.20" fill="#ff0000"/>
<rect x="519.27" y="366.0" width="7.02" height="8.30" fill="#d55e00"/>
<rect x="526.24" y="354.6" width="7.02" height="9.20" fill="#ff0000"/>
<rect x="526.24" y="366.0" width="7.02" height="8.30" fill="#d55e00"/>
<rect x="533.21" y="354.6" width="7.02" height="9.20" fill="#ff0000"/>
<rect x="533.21" y="366.0" width="7.02" height="8.30" fill="#d55e00"/>
<rect x="540.18" y="354.6" width="7.02" height="9.20" fill="#ff0000"/>
<rect x="540.18" y="366.0" width="7.02" height="8.30" fill="#d55e00"/>
<rect x="547.15" y="354.6" width="7.02" height="9.20" fill="#ff0000"/>
<rect x="547.15" y="366.0" width="7.02" height="8.30" fill="#d55e00"/>
<rect x="554.12" y="354.6" width="7.02" height="9.20" fill="#ff0000"/>
<rect x="554.12" y="366.0" width="7.02" height="8.30" fill="#d55e00"/>
<rect x="561.09" y="354.6" width="7.02" height="9.20" fill="#ff0000"/>
<rect x="561.09" y="366.0" width="7.02" height="8.30" fill="#d55e00"/>
<rect x="568.06" y="354.6" width="7.02" height="9.20" fill="#ff0000"/>
<rect x="568.06" y="366.0" width="7.02" height="8.30" fill="#d55e00"/>
<rect x="575.03" y="354.6" width="7.02" height="9.20" fill="#ff0000"/>
<rect x="575.03" y="366.0" width="7.02" height="8.30" fill="#d55e00"/>
<rect x="582.00" y="354.6" width="7.02" height="9.20" fill="#ff0000"/>
<rect x="582.00" y="366.0" width="7.02" height="8.30" fill="#d55e00"/>
<rect x="588.97" y="354.6" width="7.02" height="9.20" fill="#ff0000"/>
<rect x="588.97" y="366.0" width="7.02" height="8.30" fill="#d55e00"/>
<rect x="595.94" y="354.6" width="7.02" height="9.20" fill="#ff0000"/>
<rect x="595.94" y="366.0" width="7.02" height="8.30" fill="#d55e00"/>
<rect x="602.91" y="354.6" width="7.02" height="9.20" fill="#ff0000"/>
<rect x="602.91" y="366.0" width="7.02" height="8.30" fill="#d55e00"/>
<rect x="609.88" y="354.6" width="7.02" height="9.20" fill="#ff0000"/>
<rect x="609.88" y="366.0" width="7.02" height="8.30" fill="#d55e00"/>
<path d="M62.87 354.6V363.8M69.84 354.6V363.8M76.81 354.6V363.8M83.78 354.6V363.8M90.75 354.6V363.8M97.72 354.6V363.8M104.69 354.6V363.8M111.66 354.6V363.8M118.63 354.6V363.8M125.60 354.6V363.8M132.57 354.6V363.8M139.54 354.6V363.8M146.51 354.6V363.8M153.48 354.6V363.8M160.45 354.6V363.8M167.42 354.6V363.8M174.39 354.6V363.8M181.36 354.6V363.8M188.33 354.6V363.8M195.30 354.6V363.8M202.27 354.6V363.8M209.24 354.6V363.8M216.21 354.6V363.8M223.18 354.6V363.8M230.15 354.6V363.8M237.12 354.6V363.8M244.09 354.6V363.8M251.06 354.6V363.8M258.03 354.6V363.8M265.00 354.6V363.8M271.97 354.6V363.8M278.94 354.6V363.8M285.91 354.6V363.8M292.88 354.6V363.8M299.85 354.6V363.8M306.82 354.6V363.8M313.79 354.6V363.8M320.76 354.6V363.8M327.73 354.6V363.8M334.70 354.6V363.8M341.67 354.6V363.8M348.64 354.6V363.8M355.61 354.6V363.8M362.58 354.6V363.8" stroke="#ffffff" stroke-opacity="0.18" stroke-width="0.5"/>
<path d="M379.87 354.6V363.8M379.87 366.0V374.3M386.84 354.6V363.8M386.84 366.0V374.3M393.81 354.6V363.8M393.81 366.0V374.3M400.78 354.6V363.8M400.78 366.0V374.3M407.75 354.6V363.8M407.75 366.0V374.3M414.72 354.6V363.8M414.72 366.0V374.3M421.69 354.6V363.8M421.69 366.0V374.3M428.66 354.6V363.8M428.66 366.0V374.3M435.63 354.6V363.8M435.63 366.0V374.3M442.60 354.6V363.8M442.60 366.0V374.3M449.57 354.6V363.8M449.57 366.0V374.3M456.54 354.6V363.8M456.54 366.0V374.3M463.51 354.6V363.8M463.51 366.0V374.3M470.48 354.6V363.8M470.48 366.0V374.3M477.45 354.6V363.8M477.45 366.0V374.3M484.42 354.6V363.8M484.42 366.0V374.3M491.39 354.6V363.8M491.39 366.0V374.3M498.36 354.6V363.8M498.36 366.0V374.3M505.33 354.6V363.8M505.33 366.0V374.3M512.30 354.6V363.8M512.30 366.0V374.3M519.27 354.6V363.8M519.27 366.0V374.3M526.24 354.6V363.8M526.24 366.0V374.3M533.21 354.6V363.8M533.21 366.0V374.3M540.18 354.6V363.8M540.18 366.0V374.3M547.15 354.6V363.8M547.15 366.0V374.3M554.12 354.6V363.8M554.12 366.0V374.3M561.09 354.6V363.8M561.09 366.0V374.3M568.06 354.6V363.8M568.06 366.0V374.3M575.03 354.6V363.8M575.03 366.0V374.3M582.00 354.6V363.8M582.00 366.0V374.3M588.97 354.6V363.8M588.97 366.0V374.3M595.94 354.6V363.8M595.94 366.0V374.3M602.91 354.6V363.8M602.91 366.0V374.3M609.88 354.6V363.8M609.88 366.0V374.3" stroke="#000000" stroke-opacity="0.05" stroke-width="0.5"/>
<text x="622.00" y="362.80" font-size="9" text-anchor="start" fill="#222" >Phenotype</text>
<text x="622.00" y="373.00" font-size="9" text-anchor="start" fill="#222" >Domain</text>
<defs><linearGradient id="cb" x1="0" y1="0" x2="0" y2="1"><stop offset="0.0296" stop-color="#d73027"/><stop offset="0.1904" stop-color="#fc8d59"/><stop offset="0.3519" stop-color="#fee090"/><stop offset="0.5067" stop-color="#ffffbf"/><stop offset="0.6652" stop-color="#e0f3f8"/><stop offset="0.8215" stop-color="#91bfdb"/><stop offset="0.9807" stop-color="#4575b4"/></linearGradient></defs>
<rect x="621.6" y="377" width="9.4" height="135" fill="url(#cb)"/>
<text x="634.50" y="383.80" font-size="8" text-anchor="start" fill="#4d4d4d" >6</text>
<text x="634.50" y="405.50" font-size="8" text-anchor="start" fill="#4d4d4d" >4</text>
<text x="634.50" y="427.30" font-size="8" text-anchor="start" fill="#4d4d4d" >2</text>
<text x="634.50" y="448.20" font-size="8" text-anchor="start" fill="#4d4d4d" >0</text>
<text x="634.50" y="469.60" font-size="8" text-anchor="start" fill="#4d4d4d" >−2</text>
<text x="634.50" y="490.70" font-size="8" text-anchor="start" fill="#4d4d4d" >−4</text>
<text x="634.50" y="512.20" font-size="8" text-anchor="start" fill="#4d4d4d" >−6</text>
<text x="0" y="0" font-size="9" text-anchor="middle" fill="#222" textLength="69" lengthAdjust="spacingAndGlyphs" transform="translate(649.6 442.8) rotate(90)">Methylation levels</text>
<text x="0" y="0" font-size="7.9" text-anchor="end" fill="#2a2a2a" textLength="40" lengthAdjust="spacingAndGlyphs" transform="translate(379.38 654.8) rotate(-90)">n.65_66insT</text>
<text x="0" y="0" font-size="7.9" text-anchor="end" fill="#2a2a2a" textLength="27.6" lengthAdjust="spacingAndGlyphs" transform="translate(386.35 654.8) rotate(-90)">n.62T&gt;C</text>
<text x="0" y="0" font-size="7.9" text-anchor="end" fill="#2a2a2a" textLength="28" lengthAdjust="spacingAndGlyphs" transform="translate(393.32 654.8) rotate(-90)">n.78A&gt;C</text>
<text x="0" y="0" font-size="7.9" text-anchor="end" fill="#2a2a2a" textLength="27.6" lengthAdjust="spacingAndGlyphs" transform="translate(400.29 654.8) rotate(-90)">n.70T&gt;C</text>
<text x="0" y="0" font-size="7.9" text-anchor="end" fill="#2a2a2a" textLength="45.6" lengthAdjust="spacingAndGlyphs" transform="translate(407.26 654.8) rotate(-90)">n.72_73delTT</text>
<text x="0" y="0" font-size="7.9" text-anchor="end" fill="#2a2a2a" textLength="45.6" lengthAdjust="spacingAndGlyphs" transform="translate(414.23 654.8) rotate(-90)">n.72_73delTT</text>
<text x="0" y="0" font-size="7.9" text-anchor="end" fill="#2a2a2a" textLength="40" lengthAdjust="spacingAndGlyphs" transform="translate(421.20 654.8) rotate(-90)">n.64_65insT</text>
<text x="0" y="0" font-size="7.9" text-anchor="end" fill="#2a2a2a" textLength="40" lengthAdjust="spacingAndGlyphs" transform="translate(428.17 654.8) rotate(-90)">n.64_65insT</text>
<text x="0" y="0" font-size="7.9" text-anchor="end" fill="#2a2a2a" textLength="40" lengthAdjust="spacingAndGlyphs" transform="translate(435.14 654.8) rotate(-90)">n.64_65insT</text>
<text x="0" y="0" font-size="7.9" text-anchor="end" fill="#2a2a2a" textLength="28.6" lengthAdjust="spacingAndGlyphs" transform="translate(442.12 654.8) rotate(-90)">n.67A&gt;G</text>
<text x="0" y="0" font-size="7.9" text-anchor="end" fill="#2a2a2a" textLength="40" lengthAdjust="spacingAndGlyphs" transform="translate(449.08 654.8) rotate(-90)">n.64_65insT</text>
<text x="0" y="0" font-size="7.9" text-anchor="end" fill="#2a2a2a" textLength="40" lengthAdjust="spacingAndGlyphs" transform="translate(456.05 654.8) rotate(-90)">n.64_65insT</text>
<text x="0" y="0" font-size="7.9" text-anchor="end" fill="#2a2a2a" textLength="40" lengthAdjust="spacingAndGlyphs" transform="translate(463.02 654.8) rotate(-90)">n.64_65insT</text>
<text x="0" y="0" font-size="7.9" text-anchor="end" fill="#2a2a2a" textLength="40" lengthAdjust="spacingAndGlyphs" transform="translate(470.00 654.8) rotate(-90)">n.64_65insT</text>
<text x="0" y="0" font-size="7.9" text-anchor="end" fill="#2a2a2a" textLength="40" lengthAdjust="spacingAndGlyphs" transform="translate(476.96 654.8) rotate(-90)">n.64_65insT</text>
<text x="0" y="0" font-size="7.9" text-anchor="end" fill="#2a2a2a" textLength="28.6" lengthAdjust="spacingAndGlyphs" transform="translate(483.93 654.8) rotate(-90)">n.67A&gt;G</text>
<text x="0" y="0" font-size="7.9" text-anchor="end" fill="#2a2a2a" textLength="40" lengthAdjust="spacingAndGlyphs" transform="translate(490.90 654.8) rotate(-90)">n.64_65insT</text>
<text x="0" y="0" font-size="7.9" text-anchor="end" fill="#2a2a2a" textLength="28.6" lengthAdjust="spacingAndGlyphs" transform="translate(497.88 654.8) rotate(-90)">n.65A&gt;G</text>
<text x="0" y="0" font-size="7.9" text-anchor="end" fill="#2a2a2a" textLength="28.4" lengthAdjust="spacingAndGlyphs" transform="translate(504.84 654.8) rotate(-90)">n.68A&gt;C</text>
<text x="0" y="0" font-size="7.9" text-anchor="end" fill="#2a2a2a" textLength="27.2" lengthAdjust="spacingAndGlyphs" transform="translate(511.81 654.8) rotate(-90)">n.76C&gt;T</text>
<text x="0" y="0" font-size="7.9" text-anchor="end" fill="#2a2a2a" textLength="40" lengthAdjust="spacingAndGlyphs" transform="translate(518.78 654.8) rotate(-90)">n.64_65insT</text>
<text x="0" y="0" font-size="7.9" text-anchor="end" fill="#2a2a2a" textLength="40" lengthAdjust="spacingAndGlyphs" transform="translate(525.75 654.8) rotate(-90)">n.64_65insT</text>
<text x="0" y="0" font-size="7.9" text-anchor="end" fill="#2a2a2a" textLength="40" lengthAdjust="spacingAndGlyphs" transform="translate(532.72 654.8) rotate(-90)">n.64_65insT</text>
<text x="0" y="0" font-size="7.9" text-anchor="end" fill="#2a2a2a" textLength="40" lengthAdjust="spacingAndGlyphs" transform="translate(539.69 654.8) rotate(-90)">n.64_65insT</text>
<text x="0" y="0" font-size="7.9" text-anchor="end" fill="#2a2a2a" textLength="40" lengthAdjust="spacingAndGlyphs" transform="translate(546.66 654.8) rotate(-90)">n.64_65insT</text>
<text x="0" y="0" font-size="7.9" text-anchor="end" fill="#2a2a2a" textLength="40" lengthAdjust="spacingAndGlyphs" transform="translate(553.63 654.8) rotate(-90)">n.64_65insT</text>
<text x="0" y="0" font-size="7.9" text-anchor="end" fill="#2a2a2a" textLength="40" lengthAdjust="spacingAndGlyphs" transform="translate(560.61 654.8) rotate(-90)">n.64_65insT</text>
<text x="0" y="0" font-size="7.9" text-anchor="end" fill="#2a2a2a" textLength="40" lengthAdjust="spacingAndGlyphs" transform="translate(567.57 654.8) rotate(-90)">n.64_65insT</text>
<text x="0" y="0" font-size="7.9" text-anchor="end" fill="#2a2a2a" textLength="40" lengthAdjust="spacingAndGlyphs" transform="translate(574.54 654.8) rotate(-90)">n.64_65insT</text>
<text x="0" y="0" font-size="7.9" text-anchor="end" fill="#2a2a2a" textLength="40" lengthAdjust="spacingAndGlyphs" transform="translate(581.51 654.8) rotate(-90)">n.64_65insT</text>
<text x="0" y="0" font-size="7.9" text-anchor="end" fill="#2a2a2a" textLength="40" lengthAdjust="spacingAndGlyphs" transform="translate(588.48 654.8) rotate(-90)">n.64_65insT</text>
<text x="0" y="0" font-size="7.9" text-anchor="end" fill="#2a2a2a" textLength="40" lengthAdjust="spacingAndGlyphs" transform="translate(595.45 654.8) rotate(-90)">n.64_65insT</text>
<text x="0" y="0" font-size="7.9" text-anchor="end" fill="#2a2a2a" textLength="40" lengthAdjust="spacingAndGlyphs" transform="translate(602.42 654.8) rotate(-90)">n.64_65insT</text>
<text x="0" y="0" font-size="7.9" text-anchor="end" fill="#2a2a2a" textLength="40" lengthAdjust="spacingAndGlyphs" transform="translate(609.39 654.8) rotate(-90)">n.64_65insT</text>
<text x="0" y="0" font-size="7.9" text-anchor="end" fill="#2a2a2a" textLength="40" lengthAdjust="spacingAndGlyphs" transform="translate(616.37 654.8) rotate(-90)">n.64_65insT</text>
<text x="111.00" y="662.60" font-size="9" text-anchor="start" fill="#222" >Phenotype</text>
<rect x="111.6" y="666.00" width="11" height="10.95" fill="#440154"/>
<text x="126.60" y="674.05" font-size="7.5" text-anchor="start" fill="#222" >Controls</text>
<rect x="111.6" y="676.90" width="11" height="10.95" fill="#21908c"/>
<text x="126.60" y="684.95" font-size="7.5" text-anchor="start" fill="#222" >RNU4-2 mild</text>
<rect x="111.6" y="687.80" width="11" height="10.95" fill="#ff0000"/>
<text x="126.60" y="695.85" font-size="7.5" text-anchor="start" fill="#222" >RNU4-2 severe/moderate</text>
<text x="227.60" y="662.60" font-size="9" text-anchor="start" fill="#222" >Domain</text>
<rect x="228" y="666.00" width="11" height="11.05" fill="#56b4e9"/>
<text x="243.00" y="674.10" font-size="7.5" text-anchor="start" fill="#222" >Stem I</text>
<rect x="228" y="677.00" width="11" height="11.05" fill="#d55e00"/>
<text x="243.00" y="685.10" font-size="7.5" text-anchor="start" fill="#222" >Quasi-pseudoknot</text>
<rect x="228" y="688.00" width="11" height="11.05" fill="#0072b2"/>
<text x="243.00" y="696.10" font-size="7.5" text-anchor="start" fill="#222" >RBM42 interaction</text>
<rect x="228" y="699.00" width="11" height="11.05" fill="#009e73"/>
<text x="243.00" y="707.10" font-size="7.5" text-anchor="start" fill="#222" >Stem III</text>
<path d="M66.36 351.93H73.33M66.36 353.60V351.93M73.33 353.60V351.93M69.84 351.86H80.30M69.84 351.93V351.86M80.30 353.60V351.86M59.38 351.81H75.07M59.38 353.60V351.81M75.07 351.86V351.81M87.27 352.23H94.23M87.27 353.60V352.23M94.23 353.60V352.23M108.17 352.03H115.14M108.17 353.60V352.03M115.14 353.60V352.03M111.66 351.98H122.12M111.66 352.03V351.98M122.12 353.60V351.98M101.20 351.93H116.89M101.20 353.60V351.93M116.89 351.98V351.93M90.75 351.22H109.05M90.75 352.23V351.22M109.05 351.93V351.22M129.09 352.14H136.06M129.09 353.60V352.14M136.06 353.60V352.14M132.57 352.09H143.03M132.57 352.14V352.09M143.03 353.60V352.09M99.90 350.83H137.80M99.90 351.22V350.83M137.80 352.09V350.83M150.00 352.38H156.97M150.00 353.60V352.38M156.97 353.60V352.38M153.48 351.97H163.94M153.48 352.38V351.97M163.94 353.60V351.97M158.71 351.76H170.91M158.71 351.97V351.76M170.91 353.60V351.76M118.85 350.20H164.81M118.85 350.83V350.20M164.81 351.76V350.20M177.88 351.85H184.84M177.88 353.60V351.85M184.84 353.60V351.85M198.78 352.39H205.75M198.78 353.60V352.39M205.75 353.60V352.39M191.81 351.67H202.27M191.81 353.60V351.67M202.27 352.39V351.67M212.72 352.16H219.69M212.72 353.60V352.16M219.69 353.60V352.16M197.04 351.09H216.21M197.04 351.67V351.09M216.21 352.16V351.09M181.36 350.71H206.63M181.36 351.85V350.71M206.63 351.09V350.71M141.83 349.65H193.99M141.83 350.20V349.65M193.99 350.71V349.65M226.66 352.10H233.63M226.66 353.60V352.10M233.63 353.60V352.10M230.15 352.05H240.60M230.15 352.10V352.05M240.60 353.60V352.05M261.51 352.32H268.48M261.51 353.60V352.32M268.48 353.60V352.32M254.54 351.87H265.00M254.54 353.60V351.87M265.00 352.32V351.87M259.77 351.82H275.45M259.77 351.87V351.82M275.45 353.60V351.82M247.57 351.48H267.61M247.57 353.60V351.48M267.61 351.82V351.48M235.38 350.96H257.59M235.38 352.05V350.96M257.59 351.48V350.96M167.91 349.53H246.49M167.91 349.65V349.53M246.49 350.96V349.53M289.39 352.15H296.37M289.39 353.60V352.15M296.37 353.60V352.15M282.43 351.72H292.88M282.43 353.60V351.72M292.88 352.15V351.72M303.33 352.27H310.31M303.33 353.60V352.27M310.31 353.60V352.27M306.82 351.77H317.27M306.82 352.27V351.77M317.27 353.60V351.77M287.65 351.26H312.05M287.65 351.72V351.26M312.05 351.77V351.26M324.24 352.23H331.21M324.24 353.60V352.23M331.21 353.60V352.23M338.18 351.81H345.15M338.18 353.60V351.81M345.15 353.60V351.81M327.73 351.51H341.67M327.73 352.23V351.51M341.67 351.81V351.51M359.09 352.03H366.06M359.09 353.60V352.03M366.06 353.60V352.03M352.12 351.98H362.58M352.12 353.60V351.98M362.58 352.03V351.98M334.70 351.44H357.35M334.70 351.51V351.44M357.35 351.98V351.44M299.85 350.10H346.03M299.85 351.26V350.10M346.03 351.44V350.10M207.20 348.59H322.94M207.20 349.53V348.59M322.94 350.10V348.59M67.23 348.40H265.07M67.23 351.81V348.40M265.07 348.59V348.40M383.35 351.50H390.32M383.35 353.60V351.50M390.32 353.60V351.50M376.38 351.44H386.84M376.38 353.60V351.44M386.84 351.50V351.44M381.61 351.05H397.29M381.61 351.44V351.05M397.29 353.60V351.05M411.23 351.34H418.20M411.23 353.60V351.34M418.20 353.60V351.34M404.26 351.27H414.72M404.26 353.60V351.27M414.72 351.34V351.27M389.45 349.74H409.49M389.45 351.05V349.74M409.49 351.27V349.74M425.17 351.25H432.14M425.17 353.60V351.25M432.14 353.60V351.25M439.12 351.74H446.08M439.12 353.60V351.74M446.08 353.60V351.74M428.66 351.01H442.60M428.66 351.25V351.01M442.60 351.74V351.01M399.47 349.63H435.63M399.47 349.74V349.63M435.63 351.01V349.63M453.05 351.46H460.02M453.05 353.60V351.46M460.02 353.60V351.46M467.00 351.27H473.96M467.00 353.60V351.27M473.96 353.60V351.27M456.54 350.48H470.48M456.54 351.46V350.48M470.48 351.27V350.48M480.93 351.94H487.90M480.93 353.60V351.94M487.90 353.60V351.94M484.42 350.99H494.88M484.42 351.94V350.99M494.88 353.60V350.99M463.51 349.95H489.65M463.51 350.48V349.95M489.65 350.99V349.95M417.55 348.50H476.58M417.55 349.63V348.50M476.58 349.95V348.50M508.81 351.74H515.78M508.81 353.60V351.74M515.78 353.60V351.74M501.84 351.08H512.30M501.84 353.60V351.08M512.30 351.74V351.08M529.72 351.45H536.69M529.72 353.60V351.45M536.69 353.60V351.45M522.75 351.39H533.21M522.75 353.60V351.39M533.21 351.45V351.39M507.07 349.97H527.98M507.07 351.08V349.97M527.98 351.39V349.97M447.07 347.15H517.53M447.07 348.50V347.15M517.53 349.97V347.15M550.63 351.55H557.61M550.63 353.60V351.55M557.61 353.60V351.55M554.12 350.80H564.57M554.12 351.55V350.80M564.57 353.60V350.80M543.66 350.60H559.35M543.66 353.60V350.60M559.35 350.80V350.60M578.51 351.51H585.48M578.51 353.60V351.51M585.48 353.60V351.51M571.54 351.00H582.00M571.54 353.60V351.00M582.00 351.51V351.00M551.51 349.70H576.77M551.51 350.60V349.70M576.77 351.00V349.70M599.42 351.74H606.39M599.42 353.60V351.74M606.39 353.60V351.74M602.91 351.07H613.37M602.91 351.74V351.07M613.37 353.60V351.07M592.45 350.99H608.14M592.45 353.60V350.99M608.14 351.07V350.99M564.14 349.20H600.30M564.14 349.70V349.20M600.30 350.99V349.20M482.30 346.40H582.22M482.30 347.15V346.40M582.22 349.20V346.40M166.15 348.40V306.6H532.26V346.40" fill="none" stroke="#3a3a3a" stroke-width="0.5"/>
<path d="M43.23 378.05V380.14M55.70 378.05H43.23M55.70 380.14H43.23M42.92 384.33V386.42M55.70 384.33H42.92M55.70 386.42H42.92M43.23 388.51V390.60M55.70 388.51H43.23M55.70 390.60H43.23M41.37 385.37V389.56M42.92 385.37H41.37M43.23 389.56H41.37M40.93 382.23V387.46M55.70 382.23H40.93M41.37 387.46H40.93M40.47 379.09V384.85M43.23 379.09H40.47M40.93 384.85H40.47M40.56 392.70V394.79M55.70 392.70H40.56M55.70 394.79H40.56M42.95 396.88V398.98M55.70 396.88H42.95M55.70 398.98H42.95M40.56 397.93V401.07M42.95 397.93H40.56M55.70 401.07H40.56M40.09 393.74V399.50M40.56 393.74H40.09M40.56 399.50H40.09M39.66 403.16V405.26M55.70 403.16H39.66M55.70 405.26H39.66M43.46 407.35V409.44M55.70 407.35H43.46M55.70 409.44H43.46M37.09 408.39V411.53M43.46 408.39H37.09M55.70 411.53H37.09M36.51 404.21V409.96M39.66 404.21H36.51M37.09 409.96H36.51M43.57 415.72V417.81M55.70 415.72H43.57M55.70 417.81H43.57M43.20 413.63V416.77M55.70 413.63H43.20M43.57 416.77H43.20M33.70 407.09V415.20M36.51 407.09H33.70M43.20 415.20H33.70M28.83 396.62V411.14M40.09 396.62H28.83M33.70 411.14H28.83M42.07 419.91V422.00M55.70 419.91H42.07M55.70 422.00H42.07M41.99 424.09V426.19M55.70 424.09H41.99M55.70 426.19H41.99M36.85 420.95V425.14M42.07 420.95H36.85M41.99 425.14H36.85M38.06 430.37V432.46M55.70 430.37H38.06M55.70 432.46H38.06M36.85 428.28V431.42M55.70 428.28H36.85M38.06 431.42H36.85M36.27 423.05V429.85M36.85 423.05H36.27M36.85 429.85H36.27M36.39 436.65V438.74M55.70 436.65H36.39M55.70 438.74H36.39M35.80 434.56V437.70M55.70 434.56H35.80M36.39 437.70H35.80M35.18 426.45V436.13M36.27 426.45H35.18M35.80 436.13H35.18M44.21 442.93V445.02M55.70 442.93H44.21M55.70 445.02H44.21M39.22 440.84V443.98M55.70 440.84H39.22M44.21 443.98H39.22M39.22 447.12V449.21M55.70 447.12H39.22M55.70 449.21H39.22M38.71 442.41V448.16M39.22 442.41H38.71M39.22 448.16H38.71M38.71 451.30V453.39M55.70 451.30H38.71M55.70 453.39H38.71M38.19 445.28V452.35M38.71 445.28H38.19M38.71 452.35H38.19M40.45 455.49V457.58M55.70 455.49H40.45M55.70 457.58H40.45M40.45 459.67V461.77M55.70 459.67H40.45M55.70 461.77H40.45M39.97 456.53V460.72M40.45 456.53H39.97M40.45 460.72H39.97M41.57 465.95V468.05M55.70 465.95H41.57M55.70 468.05H41.57M41.13 463.86V467.00M55.70 463.86H41.13M41.57 467.00H41.13M33.90 458.63V465.43M39.97 458.63H33.90M41.13 465.43H33.90M33.23 448.82V462.03M38.19 448.82H33.23M33.90 462.03H33.23M31.85 431.29V455.42M35.18 431.29H31.85M33.23 455.42H31.85M42.88 474.32V476.42M55.70 474.32H42.88M55.70 476.42H42.88M42.49 472.23V475.37M55.70 472.23H42.49M42.88 475.37H42.49M42.08 470.14V473.80M55.70 470.14H42.08M42.49 473.80H42.08M39.23 478.51V480.60M55.70 478.51H39.23M55.70 480.60H39.23M38.73 479.56V482.70M39.23 479.56H38.73M55.70 482.70H38.73M38.01 471.97V481.13M42.08 471.97H38.01M38.73 481.13H38.01M27.56 443.35V476.55M31.85 443.35H27.56M38.01 476.55H27.56M26.64 403.88V459.95M28.83 403.88H26.64M27.56 459.95H26.64M22.40 381.97V431.92M40.47 381.97H22.40M26.64 431.92H22.40M37.99 488.15V490.24M55.70 488.15H37.99M55.70 490.24H37.99M43.90 494.43V496.52M55.70 494.43H43.90M55.70 496.52H43.90M38.52 492.33V495.47M55.70 492.33H38.52M43.90 495.47H38.52M39.03 498.61V500.70M55.70 498.61H39.03M55.70 500.70H39.03M39.03 502.80V504.89M55.70 502.80H39.03M55.70 504.89H39.03M38.52 499.66V503.84M39.03 499.66H38.52M39.03 503.84H38.52M37.99 493.90V501.75M38.52 493.90H37.99M38.52 501.75H37.99M37.44 489.19V497.83M37.99 489.19H37.44M37.99 497.83H37.44M44.51 513.26V515.36M55.70 513.26H44.51M55.70 515.36H44.51M44.16 511.17V514.31M55.70 511.17H44.16M44.51 514.31H44.16M39.06 509.08V512.74M55.70 509.08H39.06M44.16 512.74H39.06M36.10 506.98V510.91M55.70 506.98H36.10M39.06 510.91H36.10M44.41 517.45V519.54M55.70 517.45H44.41M55.70 519.54H44.41M44.06 518.50V521.63M44.41 518.50H44.06M55.70 521.63H44.06M41.29 523.73V525.82M55.70 523.73H41.29M55.70 525.82H41.29M41.29 527.91V530.01M55.70 527.91H41.29M55.70 530.01H41.29M40.84 524.77V528.96M41.29 524.77H40.84M41.29 528.96H40.84M40.38 520.06V526.87M44.06 520.06H40.38M40.84 526.87H40.38M35.50 508.95V523.47M36.10 508.95H35.50M40.38 523.47H35.50M34.87 493.51V516.21M37.44 493.51H34.87M35.50 516.21H34.87M43.65 532.10V534.19M55.70 532.10H43.65M55.70 534.19H43.65M43.76 536.29V538.38M55.70 536.29H43.76M55.70 538.38H43.76M44.50 542.56V544.66M55.70 542.56H44.50M55.70 544.66H44.50M43.93 543.61V546.75M44.50 543.61H43.93M55.70 546.75H43.93M41.57 540.47V545.18M55.70 540.47H41.57M43.93 545.18H41.57M40.94 537.33V542.83M43.76 537.33H40.94M41.57 542.83H40.94M40.48 533.15V540.08M43.65 533.15H40.48M40.94 540.08H40.48M42.63 550.94V553.03M55.70 550.94H42.63M55.70 553.03H42.63M42.23 548.84V551.98M55.70 548.84H42.23M42.63 551.98H42.23M43.10 555.12V557.22M55.70 555.12H43.10M55.70 557.22H43.10M39.11 561.40V563.49M55.70 561.40H39.11M55.70 563.49H39.11M38.59 559.31V562.45M55.70 559.31H38.59M39.11 562.45H38.59M38.07 556.17V560.88M43.10 556.17H38.07M38.59 560.88H38.07M37.52 550.41V558.52M42.23 550.41H37.52M38.07 558.52H37.52M39.11 565.59V567.68M55.70 565.59H39.11M55.70 567.68H39.11M41.87 571.87V573.96M55.70 571.87H41.87M55.70 573.96H41.87M41.44 569.77V572.91M55.70 569.77H41.44M41.87 572.91H41.44M38.59 566.63V571.34M39.11 566.63H38.59M41.44 571.34H38.59M42.19 576.05V578.15M55.70 576.05H42.19M55.70 578.15H42.19M38.07 568.99V577.10M38.59 568.99H38.07M42.19 577.10H38.07M40.01 582.33V584.42M55.70 582.33H40.01M55.70 584.42H40.01M38.59 580.24V583.38M55.70 580.24H38.59M40.01 583.38H38.59M43.72 588.61V590.70M55.70 588.61H43.72M55.70 590.70H43.72M43.34 586.52V589.66M55.70 586.52H43.34M43.72 589.66H43.34M38.07 581.81V588.09M38.59 581.81H38.07M43.34 588.09H38.07M37.52 573.04V584.95M38.07 573.04H37.52M38.07 584.95H37.52M36.96 554.47V579.00M37.52 554.47H36.96M37.52 579.00H36.96M33.20 536.61V566.73M40.48 536.61H33.20M36.96 566.73H33.20M30.90 504.86V551.67M34.87 504.86H30.90M33.20 551.67H30.90M44.35 594.89V596.98M55.70 594.89H44.35M55.70 596.98H44.35M43.09 595.94V599.08M44.35 595.94H43.09M55.70 599.08H43.09M36.34 592.80V597.51M55.70 592.80H36.34M43.09 597.51H36.34M43.28 601.17V603.26M55.70 601.17H43.28M55.70 603.26H43.28M43.28 605.35V607.45M55.70 605.35H43.28M55.70 607.45H43.28M42.90 602.22V606.40M43.28 602.22H42.90M43.28 606.40H42.90M36.34 604.31V609.54M42.90 604.31H36.34M55.70 609.54H36.34M35.74 595.15V606.92M36.34 595.15H35.74M36.34 606.92H35.74M44.12 615.82V617.91M55.70 615.82H44.12M55.70 617.91H44.12M43.76 613.73V616.87M55.70 613.73H43.76M44.12 616.87H43.76M43.39 611.63V615.30M55.70 611.63H43.39M43.76 615.30H43.39M42.29 620.01V622.10M55.70 620.01H42.29M55.70 622.10H42.29M41.88 621.05V624.19M42.29 621.05H41.88M55.70 624.19H41.88M41.45 613.46V622.62M43.39 613.46H41.45M41.88 622.62H41.45M37.73 628.38V630.47M55.70 628.38H37.73M55.70 630.47H37.73M36.80 626.28V629.42M55.70 626.28H36.80M37.73 629.42H36.80M41.92 632.56V634.66M55.70 632.56H41.92M55.70 634.66H41.92M41.49 633.61V636.75M41.92 633.61H41.49M55.70 636.75H41.49M37.92 638.84V640.94M55.70 638.84H37.92M55.70 640.94H37.92M37.37 635.18V639.89M41.49 635.18H37.37M37.92 639.89H37.37M42.01 643.03V645.12M55.70 643.03H42.01M55.70 645.12H42.01M41.58 644.08V647.21M42.01 644.08H41.58M55.70 647.21H41.58M41.15 645.64V649.31M41.58 645.64H41.15M55.70 649.31H41.15M36.80 637.53V647.48M37.37 637.53H36.80M41.15 647.48H36.80M36.22 627.85V642.51M36.80 627.85H36.22M36.80 642.51H36.22M35.62 618.04V635.18M41.45 618.04H35.62M36.22 635.18H35.62M26.14 601.04V626.61M35.74 601.04H26.14M35.62 626.61H26.14M22.30 528.27V613.82M30.90 528.27H22.30M26.14 613.82H22.30M22.40 406.94H8.5V571.04H22.30" fill="none" stroke="#3a3a3a" stroke-width="0.5"/>
</svg>
</body></html>
